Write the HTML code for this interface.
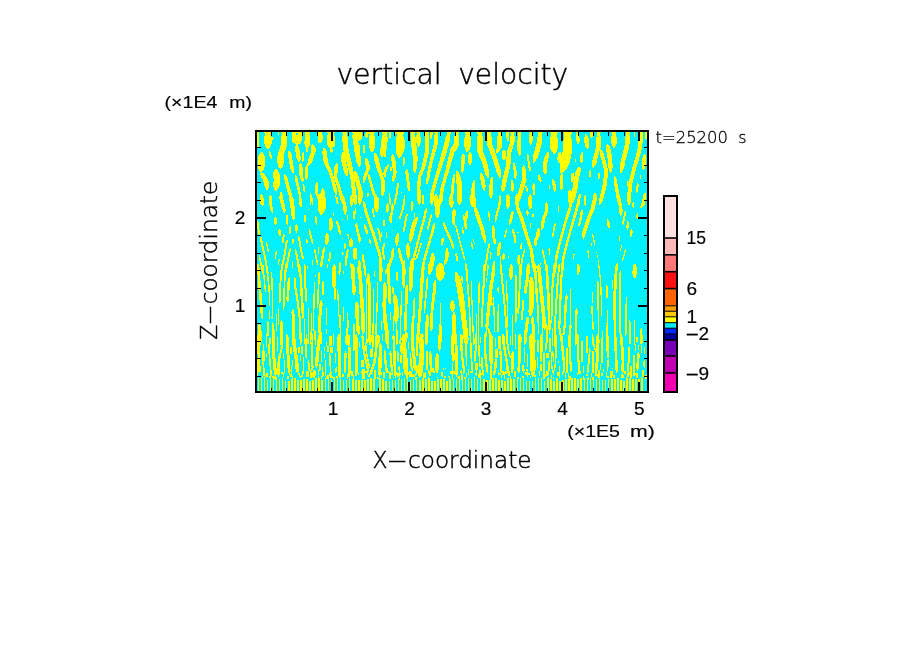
<!DOCTYPE html>
<html lang="en"><head><meta charset="utf-8"><title>vertical velocity</title>
<style>
html,body{margin:0;padding:0;background:#fff;}
svg{display:block;}
.thin{font-family:"DejaVu Sans Light","DejaVu Sans","Liberation Sans",sans-serif;font-weight:200;fill:#000;stroke:#000;stroke-width:0.45px;}
.med{font-family:"Liberation Sans","DejaVu Sans",sans-serif;fill:#000;stroke:#000;stroke-width:0.18px;}
.s{fill:none;stroke:#ffff00;stroke-linecap:round;stroke-linejoin:round;}
.c{fill:none;stroke:#00f0ff;stroke-linecap:round;stroke-linejoin:round;}
</style></head><body>
<svg width="904" height="654" viewBox="0 0 904 654">
<rect x="0" y="0" width="904" height="654" fill="#ffffff"/>
<defs><clipPath id="pc"><rect x="256" y="131" width="392" height="261"/></clipPath></defs>
<g clip-path="url(#pc)" shape-rendering="crispEdges">
<rect x="256" y="131" width="392" height="261" fill="#00f0ff"/>
<path fill="#ffff00" d="M261.5 351h3.05V361h-3.05ZM330.0 347h3.05V353h-3.05ZM348.3 347h3.05V374h-3.05ZM305.7 371h3.05V377h-3.05ZM328.5 336h3.05V346h-3.05ZM362.0 369h3.05V379h-3.05ZM369.6 349h3.05V357h-3.05ZM360.5 360h3.05V367h-3.05ZM409.2 371h3.05V377h-3.05ZM497.6 336h3.05V349h-3.05ZM474.8 363h3.05V370h-3.05ZM494.6 349h3.05V358h-3.05ZM546.4 353h3.05V358h-3.05ZM263.0 368h1.52V376h-1.52ZM269.1 338h1.52V344h-1.52ZM298.0 347h1.52V353h-1.52ZM282.8 353h1.52V359h-1.52ZM299.6 355h1.52V361h-1.52ZM276.7 337h1.52V351h-1.52ZM301.1 346h1.52V354h-1.52ZM290.4 347h1.52V354h-1.52ZM291.9 360h1.52V366h-1.52ZM319.4 364h1.52V370h-1.52ZM334.6 353h1.52V363h-1.52ZM323.9 353h1.52V358h-1.52ZM327.0 346h1.52V352h-1.52ZM310.2 372h1.52V378h-1.52ZM313.3 370h1.52V378h-1.52ZM320.9 351h1.52V362h-1.52ZM383.4 372h1.52V378h-1.52ZM389.4 372h1.52V379h-1.52ZM381.8 334h1.52V341h-1.52ZM400.1 355h1.52V363h-1.52ZM374.2 370h1.52V377h-1.52ZM426.0 351h1.52V370h-1.52ZM407.7 342h1.52V349h-1.52ZM424.5 372h1.52V378h-1.52ZM465.6 356h1.52V366h-1.52ZM451.9 363h1.52V379h-1.52ZM494.6 338h1.52V347h-1.52ZM479.3 370h1.52V378h-1.52ZM490.0 365h1.52V376h-1.52ZM523.5 347h1.52V362h-1.52ZM514.4 371h1.52V377h-1.52ZM543.3 353h1.52V378h-1.52ZM503.7 372h1.52V379h-1.52ZM537.2 340h1.52V352h-1.52ZM549.4 338h1.52V352h-1.52ZM526.6 354h1.52V367h-1.52ZM540.3 364h1.52V371h-1.52ZM586.0 336h1.52V353h-1.52ZM567.7 373h1.52V378h-1.52ZM566.2 348h1.52V373h-1.52ZM592.1 351h1.52V373h-1.52ZM581.4 341h1.52V362h-1.52ZM598.2 370h1.52V377h-1.52ZM558.6 366h1.52V377h-1.52ZM610.4 371h1.52V379h-1.52ZM630.2 366h1.52V378h-1.52ZM633.2 355h1.52V375h-1.52ZM637.8 345h1.52V350h-1.52ZM642.3 370h1.52V376h-1.52ZM605.8 372h1.52V377h-1.52ZM601.2 338h1.52V363h-1.52ZM599.7 364h1.52V370h-1.52ZM640.8 345h1.52V353h-1.52ZM636.3 337h1.52V342h-1.52ZM636.3 373h1.52V378h-1.52ZM256.9 372.4h1.52v4.8h-1.52ZM261.5 375.9h1.52v3.6h-1.52ZM264.5 375.3h1.52v1.7h-1.52ZM266.0 373.3h1.52v3.5h-1.52ZM269.1 376.1h1.52v2.3h-1.52ZM272.1 375.8h1.52v1.7h-1.52ZM273.7 376.2h1.52v4.7h-1.52ZM275.2 377.2h1.52v2.4h-1.52ZM278.2 373.4h1.52v1.9h-1.52ZM281.3 371.6h1.52v2.8h-1.52ZM282.8 373.4h1.52v3.6h-1.52ZM287.4 375.7h1.52v4.4h-1.52ZM288.9 372.5h1.52v2.0h-1.52ZM290.4 374.0h1.52v2.6h-1.52ZM291.9 376.4h1.52v2.5h-1.52ZM298.0 372.5h1.52v2.3h-1.52ZM301.1 375.1h1.52v2.2h-1.52ZM305.7 372.3h1.52v1.6h-1.52ZM307.2 372.1h1.52v2.5h-1.52ZM311.7 372.1h1.52v4.9h-1.52ZM313.3 373.0h1.52v2.7h-1.52ZM314.8 371.4h1.52v4.5h-1.52ZM317.8 376.3h1.52v4.4h-1.52ZM320.9 375.7h1.52v2.9h-1.52ZM322.4 371.6h1.52v4.4h-1.52ZM325.5 375.8h1.52v4.4h-1.52ZM327.0 375.1h1.52v3.5h-1.52ZM328.5 372.8h1.52v3.4h-1.52ZM330.0 374.5h1.52v4.4h-1.52ZM331.6 376.3h1.52v1.5h-1.52ZM333.1 376.9h1.52v3.6h-1.52ZM336.1 375.8h1.52v2.6h-1.52ZM339.2 375.1h1.52v2.6h-1.52ZM342.2 373.6h1.52v3.6h-1.52ZM346.8 374.2h1.52v5.0h-1.52ZM348.3 372.0h1.52v4.9h-1.52ZM351.4 371.1h1.52v4.4h-1.52ZM352.9 375.2h1.52v3.5h-1.52ZM357.5 373.2h1.52v2.0h-1.52ZM360.5 371.1h1.52v3.1h-1.52ZM365.1 370.9h1.52v2.1h-1.52ZM366.6 370.7h1.52v4.4h-1.52ZM368.1 374.6h1.52v2.6h-1.52ZM369.6 372.8h1.52v2.5h-1.52ZM371.2 372.7h1.52v1.6h-1.52ZM374.2 376.2h1.52v3.0h-1.52ZM377.3 376.9h1.52v2.7h-1.52ZM378.8 373.0h1.52v4.3h-1.52ZM380.3 371.5h1.52v3.2h-1.52ZM383.4 374.8h1.52v1.7h-1.52ZM387.9 370.5h1.52v2.8h-1.52ZM389.4 373.8h1.52v3.4h-1.52ZM391.0 373.0h1.52v1.5h-1.52ZM392.5 377.0h1.52v4.7h-1.52ZM394.0 371.6h1.52v3.7h-1.52ZM397.1 373.2h1.52v3.4h-1.52ZM398.6 376.7h1.52v3.2h-1.52ZM401.6 371.6h1.52v4.7h-1.52ZM406.2 373.9h1.52v4.3h-1.52ZM407.7 371.9h1.52v2.8h-1.52ZM412.3 374.1h1.52v3.0h-1.52ZM415.3 376.9h1.52v4.8h-1.52ZM423.0 373.3h1.52v4.8h-1.52ZM427.5 376.5h1.52v2.9h-1.52ZM429.1 371.4h1.52v4.3h-1.52ZM436.7 377.0h1.52v4.6h-1.52ZM441.2 372.2h1.52v3.0h-1.52ZM444.3 375.9h1.52v2.0h-1.52ZM448.9 375.7h1.52v3.7h-1.52ZM450.4 370.9h1.52v3.5h-1.52ZM451.9 371.9h1.52v4.7h-1.52ZM453.4 371.4h1.52v2.7h-1.52ZM456.5 376.7h1.52v3.9h-1.52ZM458.0 375.7h1.52v3.4h-1.52ZM459.5 370.6h1.52v2.2h-1.52ZM461.0 375.3h1.52v4.2h-1.52ZM462.6 370.8h1.52v2.9h-1.52ZM464.1 377.1h1.52v4.9h-1.52ZM465.6 373.3h1.52v3.4h-1.52ZM470.2 371.0h1.52v2.0h-1.52ZM477.8 373.6h1.52v4.5h-1.52ZM480.9 372.6h1.52v1.9h-1.52ZM490.0 374.9h1.52v4.8h-1.52ZM497.6 371.8h1.52v2.8h-1.52ZM499.1 372.7h1.52v2.5h-1.52ZM500.7 375.0h1.52v3.1h-1.52ZM502.2 371.2h1.52v3.7h-1.52ZM503.7 374.9h1.52v2.1h-1.52ZM505.2 370.8h1.52v3.1h-1.52ZM508.3 370.7h1.52v5.0h-1.52ZM509.8 375.9h1.52v2.7h-1.52ZM514.4 371.9h1.52v2.0h-1.52ZM517.4 376.9h1.52v3.7h-1.52ZM522.0 376.0h1.52v2.4h-1.52ZM525.0 372.3h1.52v2.2h-1.52ZM526.6 373.6h1.52v3.5h-1.52ZM528.1 372.8h1.52v2.5h-1.52ZM529.6 375.5h1.52v2.4h-1.52ZM531.1 372.6h1.52v2.3h-1.52ZM534.2 374.5h1.52v2.2h-1.52ZM543.3 375.1h1.52v4.2h-1.52ZM544.8 373.8h1.52v3.0h-1.52ZM546.4 371.1h1.52v4.6h-1.52ZM547.9 376.7h1.52v3.1h-1.52ZM550.9 374.5h1.52v3.4h-1.52ZM552.5 376.9h1.52v2.1h-1.52ZM557.0 371.5h1.52v4.8h-1.52ZM558.6 375.3h1.52v2.8h-1.52ZM561.6 371.7h1.52v3.6h-1.52ZM564.6 373.3h1.52v4.2h-1.52ZM569.2 375.8h1.52v4.5h-1.52ZM576.8 373.4h1.52v1.6h-1.52ZM578.4 371.3h1.52v2.9h-1.52ZM579.9 371.4h1.52v2.4h-1.52ZM582.9 376.0h1.52v4.0h-1.52ZM586.0 374.0h1.52v1.9h-1.52ZM587.5 376.8h1.52v4.7h-1.52ZM590.5 372.5h1.52v4.6h-1.52ZM592.1 376.8h1.52v3.9h-1.52ZM595.1 371.3h1.52v4.8h-1.52ZM596.6 374.1h1.52v3.0h-1.52ZM598.2 376.9h1.52v2.5h-1.52ZM601.2 373.1h1.52v2.6h-1.52ZM607.3 376.4h1.52v2.3h-1.52ZM611.9 371.2h1.52v4.7h-1.52ZM613.4 375.1h1.52v4.8h-1.52ZM621.0 374.3h1.52v3.5h-1.52ZM622.5 375.0h1.52v3.0h-1.52ZM624.1 371.0h1.52v3.3h-1.52ZM625.6 376.7h1.52v3.5h-1.52ZM627.1 372.6h1.52v4.0h-1.52ZM628.6 371.7h1.52v3.0h-1.52ZM630.2 374.2h1.52v2.0h-1.52ZM633.2 372.6h1.52v3.1h-1.52ZM634.7 372.8h1.52v2.0h-1.52ZM640.8 376.5h1.52v3.9h-1.52ZM642.3 372.7h1.52v4.5h-1.52ZM645.4 374.9h1.52v3.9h-1.52Z"/>
<path fill="#ffff00" d="M258.9 132.2 258.9 133.0 258.9 134.3 258.9 139.4 258.9 144.5 258.9 145.8 258.9 146.6 256.6 146.6 256.6 145.8 256.6 144.5 256.6 139.4 256.6 134.3 256.6 133.0 256.6 132.2ZM271.4 132.2 270.2 134.2 271.5 137.2 271.5 140.5 271.6 143.8 270.4 146.8 268.8 148.8 267.3 148.8 265.6 146.8 264.3 143.8 264.3 140.5 264.2 137.2 265.4 134.2 264.1 132.2ZM269.6 151.0 270.3 151.8 271.0 153.0 272.2 157.3 272.1 158.5 271.8 159.3 271.4 159.3 270.6 158.5 269.9 157.3 268.8 153.0 268.8 151.8 269.2 151.0ZM262.4 152.1 264.1 154.5 265.3 158.1 265.2 158.8 265.1 165.4 265.0 166.1 263.7 169.6 261.8 172.0 260.3 172.0 258.6 169.6 257.5 166.1 257.5 165.4 257.7 158.8 257.7 158.1 259.1 154.5 260.9 152.1ZM261.6 172.0 263.8 173.7 266.1 176.2 266.9 177.6 268.7 180.9 269.0 183.4 269.2 185.0 268.7 187.8 267.7 189.7 266.6 189.7 265.2 187.8 263.9 185.0 263.7 183.4 263.4 180.9 261.5 177.6 260.8 176.2 260.3 173.7 260.6 172.0ZM279.0 132.2 279.0 132.5 279.0 133.0 279.0 134.1 278.7 134.6 278.4 135.0 278.1 135.0 277.7 134.6 277.5 134.1 277.5 133.0 277.5 132.5 277.5 132.2ZM287.5 132.2 286.3 134.5 287.2 137.9 287.2 138.4 287.0 144.5 286.9 145.5 285.4 150.5 283.8 155.4 283.8 156.4 283.7 162.5 283.7 163.0 282.6 166.4 281.1 168.7 279.8 168.7 278.4 166.4 277.4 163.0 277.4 162.5 277.5 156.4 277.5 155.4 279.0 150.5 280.6 145.5 280.6 144.5 280.9 138.4 280.9 137.9 282.1 134.5 281.2 132.2ZM272.4 136.6 272.9 137.0 273.4 137.6 273.6 139.0 273.3 139.6 272.9 140.0 272.5 140.0 271.9 139.6 271.5 139.0 271.3 137.6 271.5 137.0 271.9 136.6ZM296.7 132.2 295.9 133.9 297.0 136.3 297.1 139.1 297.3 141.1 297.7 141.7 298.3 143.6 298.1 144.9 297.1 144.9 294.8 143.6 292.4 141.7 291.9 141.1 291.8 139.1 291.6 136.3 292.4 133.9 291.4 132.2ZM302.3 132.2 301.5 133.7 302.3 136.0 302.3 138.5 302.3 140.0 301.9 140.9 300.2 143.0 298.4 144.4 297.4 144.4 296.9 143.0 296.9 140.9 297.3 140.0 297.3 138.5 297.3 136.0 298.2 133.7 297.3 132.2ZM296.9 144.4 298.2 146.0 299.3 148.4 300.0 153.2 300.8 158.0 300.4 160.5 299.7 162.1 298.8 162.1 297.6 160.5 296.5 158.0 295.7 153.2 294.9 148.4 295.3 146.0 296.0 144.4ZM310.4 132.2 309.4 134.2 310.3 137.2 310.3 140.5 310.2 143.8 309.2 146.8 307.8 148.8 306.6 148.8 305.3 146.8 304.4 143.8 304.5 140.5 304.5 137.2 305.6 134.2 304.6 132.2ZM307.2 148.8 307.7 149.3 308.1 150.0 308.1 151.5 307.7 152.2 307.2 152.7 306.8 152.7 306.3 152.2 305.9 151.5 305.9 150.0 306.3 149.3 306.8 148.8ZM312.8 143.8 314.3 145.6 315.6 148.4 315.9 149.8 316.0 150.5 314.3 155.6 312.4 161.5 312.1 162.6 311.9 162.8 309.4 165.0 307.2 166.5 306.3 166.5 306.4 165.0 307.3 162.8 307.5 162.6 307.8 161.5 309.6 155.6 311.2 150.5 311.1 149.8 310.8 148.4 311.1 145.6 311.8 143.8ZM303.4 152.1 304.0 153.2 304.5 154.8 304.3 159.3 303.8 161.0 303.1 162.1 302.5 162.1 301.9 161.0 301.5 159.3 301.6 154.8 302.1 153.2 302.8 152.1ZM300.9 163.2 301.8 164.5 302.5 166.6 302.6 169.5 302.8 174.2 303.1 175.8 303.7 178.6 303.6 180.6 303.1 182.0 302.5 182.0 301.4 180.6 300.4 178.6 299.8 175.8 299.4 174.2 299.2 169.5 299.0 166.6 299.5 164.5 300.2 163.2ZM307.1 165.4 307.9 166.7 308.4 168.8 308.2 172.6 308.1 176.4 307.5 178.4 306.8 179.8 306.1 179.8 305.4 178.4 304.9 176.4 305.0 172.6 305.0 168.8 305.6 166.7 306.4 165.4ZM289.7 150.5 290.7 151.8 291.6 153.8 292.2 158.0 292.8 162.1 293.5 165.6 294.3 169.8 294.1 171.8 293.5 173.1 293.5 173.1 292.8 173.1 292.8 173.1 291.7 171.8 290.7 169.8 289.8 165.6 289.1 162.1 288.5 158.0 287.9 153.8 288.3 151.8 288.9 150.5ZM322.5 132.2 321.7 133.5 322.5 135.5 322.6 140.0 321.8 141.9 320.7 143.3 319.8 143.3 318.6 141.9 317.8 140.0 317.7 135.5 318.5 133.5 317.6 132.2ZM335.2 132.2 333.8 134.2 335.3 137.2 335.4 140.5 335.5 143.8 334.1 146.8 332.2 148.8 330.5 148.8 328.4 146.8 326.9 143.8 326.8 140.5 326.7 137.2 328.1 134.2 326.6 132.2ZM331.7 148.8 332.5 149.3 333.0 150.0 333.0 151.5 332.4 152.2 331.7 152.7 331.0 152.7 330.2 152.2 329.6 151.5 329.6 150.0 330.2 149.3 331.0 148.8ZM324.6 147.7 325.9 149.5 327.0 152.3 327.1 153.8 327.7 160.0 328.0 162.1 329.6 165.8 332.0 171.4 333.2 174.2 333.9 177.2 335.3 183.3 336.4 187.5 336.9 189.3 337.3 190.8 337.4 193.4 337.0 195.2 336.3 195.2 335.0 193.4 333.7 190.8 333.3 189.3 332.9 187.5 331.8 183.3 330.3 177.2 329.4 174.2 328.1 171.4 325.4 165.8 323.6 162.1 323.4 160.0 322.5 153.8 322.3 152.3 322.8 149.5 323.7 147.7ZM347.3 132.2 346.5 134.3 347.7 137.4 347.7 138.3 348.1 144.5 348.4 148.8 348.8 150.6 350.2 156.5 351.5 162.1 351.5 162.5 352.8 168.5 354.1 174.5 354.5 176.4 354.8 180.5 355.5 186.7 356.1 191.9 356.2 192.8 357.0 198.9 357.1 199.8 357.1 200.0 356.8 202.9 356.1 205.0 355.2 205.0 353.9 202.9 352.9 200.0 352.8 199.8 352.7 198.9 352.0 192.8 351.9 191.9 351.4 186.7 350.8 180.5 350.2 176.4 349.7 174.5 348.2 168.5 346.7 162.5 346.6 162.1 345.1 156.5 343.5 150.6 343.0 148.8 342.7 144.5 342.3 138.3 342.2 137.4 342.9 134.3 341.9 132.2ZM355.6 132.2 355.1 133.6 355.9 135.6 356.2 139.4 356.5 143.2 356.1 145.2 355.4 146.6 354.6 146.6 353.7 145.2 352.9 143.2 352.6 139.4 352.3 135.6 352.7 133.6 352.0 132.2ZM343.5 152.1 344.9 154.2 346.0 157.3 346.1 158.3 346.4 163.2 346.7 164.4 348.1 170.4 348.3 171.4 348.3 174.4 347.8 176.4 346.9 176.4 345.4 174.4 343.9 171.4 343.6 170.4 342.0 164.4 341.7 163.2 341.1 158.3 340.9 157.3 341.4 154.2 342.4 152.1ZM337.3 163.2 337.9 164.9 338.2 167.5 338.0 169.3 337.1 175.4 336.9 176.4 338.5 181.2 340.6 187.0 340.7 187.5 342.2 193.0 343.9 198.9 344.2 200.0 344.3 200.6 344.4 203.1 344.0 204.8 343.3 204.8 342.0 203.1 340.8 200.6 340.6 200.0 340.3 198.9 338.8 193.0 337.4 187.5 337.2 187.0 335.2 181.2 333.5 176.4 333.6 175.4 334.2 169.3 334.4 167.5 335.3 164.9 336.5 163.2ZM276.4 168.7 278.3 171.1 279.9 174.8 280.1 176.1 280.5 179.8 280.1 183.4 279.9 184.7 278.3 188.4 276.5 190.8 276.5 190.8 275.1 190.8 275.1 190.8 273.8 188.4 273.1 184.7 273.3 183.4 273.7 179.8 273.2 176.1 273.1 174.8 273.7 171.1 275.0 168.7ZM285.2 174.2 286.4 175.6 287.5 177.5 288.2 180.4 289.7 186.5 290.0 187.5 291.3 192.6 292.9 198.7 293.3 200.0 293.7 201.5 293.6 203.5 293.1 204.8 293.1 204.8 292.4 204.8 292.4 204.8 291.3 203.5 290.2 201.5 289.7 200.0 289.4 198.7 287.8 192.6 286.4 187.5 286.1 186.5 284.6 180.4 283.8 177.5 284.0 175.6 284.5 174.2ZM295.7 175.3 296.5 176.4 297.4 178.0 298.4 182.4 300.0 189.4 300.0 189.7 301.0 193.7 301.0 195.3 300.6 196.4 300.6 196.4 300.1 196.4 300.1 196.4 299.2 195.3 298.4 193.7 297.3 189.7 297.3 189.4 295.6 182.4 294.6 178.0 294.7 176.4 295.1 175.3ZM317.2 182.0 317.8 183.3 318.2 185.4 318.0 189.8 317.9 191.9 319.7 197.3 320.6 200.0 321.2 201.5 321.3 203.4 321.1 204.7 320.5 204.7 319.4 203.4 318.2 201.5 317.7 200.0 316.8 197.3 314.9 191.9 315.0 189.8 315.3 185.4 315.9 183.3 316.7 182.0ZM322.8 187.5 323.7 189.0 324.6 191.3 325.2 196.2 325.7 200.0 325.9 201.2 325.7 203.4 325.1 205.0 324.5 205.0 323.5 203.4 322.7 201.2 322.5 200.0 322.1 196.2 321.4 191.3 321.6 189.0 322.2 187.5ZM303.8 184.2 304.2 185.0 304.6 186.2 304.9 189.9 304.7 191.1 304.4 191.9 304.1 191.9 303.7 191.1 303.3 189.9 303.0 186.2 303.2 185.0 303.5 184.2ZM281.3 191.9 282.1 193.0 282.7 194.6 282.9 198.5 283.0 200.0 283.2 202.3 282.8 203.9 282.2 205.0 281.6 205.0 280.8 203.9 280.2 202.3 280.1 200.0 279.9 198.5 279.7 194.6 280.1 193.0 280.7 191.9ZM261.9 193.6 262.6 194.7 263.1 196.3 263.1 200.0 263.1 202.3 262.6 203.9 261.9 205.0 261.3 205.0 260.6 203.9 260.1 202.3 260.1 200.0 260.1 196.3 260.6 194.7 261.3 193.6ZM270.8 195.2 271.5 196.3 272.0 198.0 272.0 200.0 272.0 202.3 271.5 203.9 270.8 205.0 270.2 205.0 269.5 203.9 269.0 202.3 269.0 200.0 269.0 198.0 269.5 196.3 270.2 195.2ZM310.4 193.0 310.7 193.8 310.9 195.0 310.9 200.0 310.9 203.0 310.7 204.2 310.4 205.0 310.2 205.0 309.9 204.2 309.7 203.0 309.7 200.0 309.7 195.0 309.9 193.8 310.2 193.0ZM337.0 196.4 337.4 197.1 337.8 198.3 338.1 200.0 338.5 203.0 338.5 204.2 338.3 204.9 338.0 204.9 337.6 204.2 337.2 203.0 336.8 200.0 336.5 198.3 336.5 197.1 336.7 196.4Z"/>
<path fill="#ffff00" d="M362.0 132.2 361.9 133.3 361.8 134.9 361.6 138.4 360.3 140.0 358.5 141.1 357.0 141.1 355.4 140.0 354.3 138.4 354.5 134.9 354.6 133.3 354.7 132.2ZM357.5 141.1 358.9 143.1 359.9 146.2 359.9 147.5 359.9 152.1 360.2 153.9 361.1 160.2 361.3 161.4 360.9 164.5 360.1 166.5 359.2 166.5 357.7 164.5 356.3 161.4 356.1 160.2 354.8 153.9 354.5 152.1 354.3 147.5 354.3 146.2 355.2 143.1 356.4 141.1ZM355.5 170.9 357.2 173.1 358.7 176.5 359.0 177.7 359.5 179.8 360.7 184.4 362.6 191.1 362.8 191.9 362.5 198.0 362.4 199.3 362.2 200.0 361.4 202.7 360.1 205.0 359.1 205.0 358.2 202.7 357.7 200.0 357.6 199.3 357.7 198.0 358.2 191.9 358.0 191.1 356.2 184.4 354.9 179.8 354.4 177.7 354.0 176.5 353.9 173.1 354.5 170.9ZM368.7 132.2 368.6 132.9 368.5 133.9 368.3 136.1 367.7 137.1 366.9 137.7 366.3 137.7 365.7 137.1 365.3 136.1 365.5 133.9 365.6 132.9 365.7 132.2ZM375.0 132.2 373.9 134.5 375.1 137.9 375.1 138.8 375.2 145.5 375.2 146.4 374.2 149.8 372.8 152.1 371.5 152.1 370.0 149.8 368.9 146.4 368.9 145.5 368.8 138.8 368.7 137.9 369.8 134.5 368.7 132.2ZM364.1 144.4 364.6 145.2 365.0 146.4 364.9 151.2 364.6 152.4 364.1 153.2 363.6 153.2 363.1 152.4 362.8 151.2 362.7 146.4 363.1 145.2 363.6 144.4ZM388.0 132.2 386.8 134.5 387.7 137.9 387.7 138.5 387.4 144.4 387.4 144.7 386.3 150.9 386.1 151.5 384.5 154.8 382.7 157.1 381.5 157.1 380.5 154.8 380.0 151.5 380.1 150.9 381.1 144.7 381.2 144.4 381.5 138.5 381.5 137.9 382.7 134.5 381.8 132.2ZM390.7 132.2 390.7 133.0 390.7 134.2 390.7 136.9 390.4 138.1 390.0 138.8 389.7 138.8 389.3 138.1 389.0 136.9 389.0 134.2 389.0 133.0 389.0 132.2ZM404.3 132.2 402.9 135.3 404.1 138.6 404.5 139.9 404.7 145.0 404.8 146.6 404.4 150.0 403.9 151.3 402.4 154.6 400.1 157.6 398.4 157.6 396.7 154.6 395.9 151.3 395.6 150.0 395.9 146.6 395.8 145.0 395.6 139.9 396.0 138.6 397.0 135.3 395.3 132.2ZM415.1 132.2 414.5 134.5 415.7 137.9 415.8 138.9 416.2 143.3 416.5 145.6 417.2 152.4 417.7 157.6 417.6 159.1 417.2 165.8 417.2 166.9 416.2 170.3 415.2 172.6 414.3 172.6 413.4 170.3 412.7 166.9 412.8 165.8 412.9 159.1 412.9 157.6 412.2 152.4 411.3 145.6 411.0 143.3 410.6 138.9 410.5 137.9 411.0 134.5 409.9 132.2ZM420.4 132.2 419.7 134.0 420.5 136.7 420.6 139.7 420.7 142.7 420.0 145.3 419.0 147.1 418.2 147.1 417.1 145.3 416.4 142.7 416.3 139.7 416.2 136.7 416.9 134.0 416.1 132.2ZM429.0 132.2 428.3 134.3 429.0 137.4 429.0 138.4 429.0 144.5 429.0 150.7 429.0 152.1 427.9 156.7 426.4 162.7 425.5 166.5 424.6 168.7 422.3 174.4 421.5 176.4 421.0 180.4 420.5 186.5 420.4 187.5 420.7 192.7 421.1 198.8 421.2 199.8 421.2 200.0 420.7 202.9 419.8 205.0 419.0 205.0 417.9 202.9 417.2 200.0 417.1 199.8 417.1 198.8 416.9 192.7 416.8 187.5 416.9 186.5 417.6 180.4 417.9 176.4 418.7 174.4 420.9 168.7 421.7 166.5 422.5 162.7 423.8 156.7 424.8 152.1 424.8 150.7 424.8 144.5 424.8 138.4 424.8 137.4 425.5 134.3 424.8 132.2ZM432.7 132.2 432.7 133.0 432.6 134.2 432.3 136.9 431.8 138.1 431.1 138.8 430.5 138.8 429.9 138.1 429.5 136.9 429.7 134.2 429.8 133.0 429.9 132.2ZM438.3 132.2 437.5 134.1 438.1 136.8 438.0 138.8 437.7 144.4 437.5 145.4 435.6 151.8 434.3 156.5 433.8 158.2 432.2 164.7 430.7 170.9 430.7 171.1 429.5 177.7 429.1 179.6 428.2 182.4 427.2 184.2 426.6 184.2 426.3 182.4 426.2 179.6 426.5 177.7 427.5 171.1 427.5 170.9 428.9 164.7 430.3 158.2 430.6 156.5 431.8 151.8 433.5 145.4 433.8 144.4 434.0 138.8 434.1 136.8 434.9 134.1 434.3 132.2ZM451.6 132.2 450.3 134.3 450.5 137.6 450.4 138.3 449.3 143.3 449.0 144.5 447.2 150.5 445.3 156.5 444.6 158.8 443.4 162.5 441.4 168.5 439.4 174.4 438.7 176.4 437.5 180.4 435.8 186.5 434.4 191.9 434.3 192.5 434.0 198.7 434.0 199.5 433.9 200.0 433.1 202.8 432.0 205.0 431.1 205.0 430.3 202.8 429.9 200.0 429.8 199.5 429.9 198.7 430.5 192.5 430.5 191.9 432.2 186.5 434.0 180.4 435.0 176.4 435.6 174.4 437.3 168.5 439.1 162.5 440.1 158.8 440.7 156.5 442.3 150.5 443.9 144.5 444.3 143.3 445.2 138.3 445.4 137.6 446.9 134.3 446.5 132.2ZM454.5 144.4 455.2 146.4 455.2 149.4 455.0 150.4 453.6 155.4 453.3 156.5 451.5 162.5 449.8 168.5 448.7 172.0 448.0 174.5 446.1 180.5 444.4 186.5 444.2 187.5 443.6 192.6 442.9 198.8 442.8 199.8 442.7 200.0 441.7 202.9 440.5 205.0 439.6 205.0 439.0 202.9 438.7 200.0 438.7 199.8 438.9 198.8 439.8 192.6 440.6 187.5 440.9 186.5 442.7 180.5 444.2 174.5 444.9 172.0 445.8 168.5 447.2 162.5 448.7 156.5 448.9 155.4 450.0 150.4 450.3 149.4 451.8 146.4 453.5 144.4ZM454.6 174.2 455.1 175.9 455.2 178.3 454.9 180.4 454.1 186.5 454.0 187.5 453.6 192.7 453.2 198.8 453.1 200.0 453.0 200.9 452.3 203.4 451.4 205.0 450.7 205.0 450.1 203.4 449.8 200.9 449.8 200.0 450.0 198.8 450.6 192.7 451.1 187.5 451.3 186.5 452.1 180.4 452.3 178.3 453.1 175.9 454.0 174.2ZM375.4 153.2 377.0 155.0 378.4 157.7 378.8 159.4 380.2 165.5 380.4 166.5 382.0 171.5 383.8 177.5 384.5 179.8 384.5 183.7 384.5 190.0 384.6 191.7 383.9 194.5 383.0 196.4 382.3 196.4 381.4 194.5 380.8 191.7 380.8 190.0 380.8 183.7 380.8 179.8 380.0 177.5 377.8 171.5 376.0 166.5 375.8 165.5 374.1 159.4 373.7 157.7 373.8 155.0 374.4 153.2ZM366.5 157.6 367.7 159.2 368.9 161.7 369.3 164.2 370.1 168.7 369.3 170.5 366.7 176.4 366.6 176.6 365.9 179.1 364.8 181.5 363.6 183.1 363.0 183.1 362.6 181.5 362.6 179.1 363.2 176.6 363.3 176.4 365.7 170.5 366.4 168.7 365.4 164.2 364.9 161.7 365.0 159.2 365.6 157.6ZM368.6 174.2 369.6 175.5 370.7 177.5 371.8 181.6 372.9 185.3 373.9 188.9 374.9 193.0 375.0 195.0 374.6 196.4 374.1 196.4 373.1 195.0 372.1 193.0 371.1 188.9 370.2 185.3 369.1 181.6 367.8 177.5 367.7 175.5 368.0 174.2ZM384.5 151.0 385.1 151.8 385.6 153.0 385.7 155.7 385.5 156.8 385.1 157.6 384.7 157.6 384.1 156.8 383.7 155.7 383.4 153.0 383.7 151.8 384.1 151.0ZM393.0 154.3 394.2 156.1 395.2 158.7 395.5 161.3 395.7 163.2 396.2 168.2 396.6 172.0 396.1 175.1 395.6 177.7 394.5 180.3 393.5 182.0 392.8 182.0 392.4 180.3 392.2 177.7 392.6 175.1 393.0 172.0 392.5 168.2 391.7 163.2 391.5 161.3 391.1 158.7 391.4 156.1 392.2 154.3ZM388.5 164.3 388.7 165.5 388.4 167.4 386.9 170.7 386.3 172.0 386.3 174.1 385.8 176.2 385.1 177.6 384.6 177.6 383.9 176.2 383.4 174.1 383.4 172.0 383.9 170.7 385.3 167.4 386.6 165.5 387.9 164.3ZM390.9 166.5 391.5 167.0 391.9 167.8 392.0 169.6 391.7 170.4 391.2 170.9 390.7 170.9 390.1 170.4 389.7 169.6 389.5 167.8 389.9 167.0 390.4 166.5ZM403.9 156.5 404.3 157.4 404.6 158.6 404.5 164.4 404.2 165.7 403.8 166.5 403.5 166.5 403.1 165.7 402.8 164.4 402.8 158.6 403.1 157.4 403.5 156.5ZM406.8 168.7 407.7 170.3 408.5 172.8 408.9 176.3 409.5 182.0 409.7 183.8 410.2 187.3 410.0 189.8 409.5 191.4 408.9 191.4 408.0 189.8 407.3 187.3 406.9 183.8 406.7 182.0 405.9 176.3 405.4 172.8 405.6 170.3 406.1 168.7ZM398.3 182.0 398.7 183.1 398.8 184.7 398.3 189.7 398.1 191.9 397.0 197.3 396.5 200.0 396.1 202.2 395.4 203.8 394.6 204.9 394.6 204.9 394.1 204.9 394.1 204.9 393.8 203.8 393.8 202.2 394.2 200.0 394.8 197.3 396.0 191.9 396.2 189.7 396.8 184.7 397.4 183.1 397.9 182.0ZM367.9 192.5 368.5 193.0 368.8 193.8 368.9 195.6 368.5 196.4 367.9 196.9 367.5 196.9 367.0 196.4 366.6 195.6 366.6 193.8 367.0 193.0 367.5 192.5ZM389.5 193.0 389.9 193.8 390.3 195.1 390.7 200.0 391.0 202.9 390.8 204.2 390.4 205.0 390.1 205.0 389.6 204.2 389.2 202.9 389.0 200.0 388.6 195.1 388.8 193.8 389.1 193.0ZM401.6 191.9 401.8 192.0 402.0 192.2 402.0 192.7 401.8 193.0 401.6 193.1 401.4 193.1 401.1 193.0 400.9 192.7 400.9 192.2 401.1 192.0 401.4 191.9ZM423.2 194.1 423.5 195.0 423.8 196.2 423.8 200.0 423.9 203.0 423.6 204.2 423.2 205.0 422.9 205.0 422.5 204.2 422.2 203.0 422.2 200.0 422.3 196.2 422.5 195.0 422.9 194.1ZM378.9 197.5 379.2 198.3 379.4 199.5 379.4 200.0 379.4 203.0 379.2 204.2 378.9 205.0 378.7 205.0 378.4 204.2 378.2 203.0 378.2 200.0 378.2 199.5 378.4 198.3 378.7 197.5Z"/>
<path fill="#ffff00" d="M459.1 132.2 458.3 134.2 459.1 137.1 459.1 138.3 459.1 144.4 459.1 144.4 458.9 145.6 457.5 148.5 456.0 150.5 455.1 150.5 454.3 148.5 454.0 145.6 454.2 144.4 454.2 144.4 454.2 138.3 454.2 137.1 455.0 134.2 454.2 132.2ZM470.9 132.2 469.8 134.6 470.8 138.2 470.8 138.8 470.7 145.5 470.7 146.1 469.5 149.7 468.0 152.1 466.8 152.1 465.3 149.7 464.3 146.1 464.3 145.5 464.4 138.8 464.4 138.2 465.6 134.6 464.5 132.2ZM463.7 153.8 464.5 155.4 465.0 157.9 464.8 160.2 464.3 166.7 464.1 169.0 463.4 171.5 462.5 173.1 461.9 173.1 461.2 171.5 460.7 169.0 460.8 166.7 461.1 160.2 461.1 157.9 461.9 155.4 462.9 153.8ZM470.4 152.1 471.3 153.7 472.0 156.1 471.9 158.8 471.9 161.4 471.2 163.8 470.3 165.4 469.6 165.4 468.7 163.8 468.0 161.4 468.0 158.8 467.9 156.1 468.6 153.7 469.5 152.1ZM482.9 132.2 482.0 134.4 483.1 137.7 483.1 138.9 483.3 145.7 483.4 152.1 483.4 152.4 485.7 158.6 487.4 163.2 487.8 165.0 489.1 171.5 489.3 172.8 489.2 176.0 488.6 178.1 487.7 178.1 486.2 176.0 484.7 172.8 484.4 171.5 482.8 165.0 482.3 163.2 480.4 158.6 477.6 152.4 477.5 152.1 477.2 145.7 477.1 138.9 477.0 137.7 477.9 134.4 476.9 132.2ZM491.4 132.2 490.6 134.3 491.7 137.4 491.8 138.9 492.0 143.3 492.8 145.5 495.0 151.8 496.2 155.4 497.1 158.1 499.1 164.5 500.4 168.7 500.8 171.0 501.1 172.5 500.9 175.5 500.2 177.6 499.4 177.6 498.0 175.5 496.6 172.5 496.3 171.0 495.9 168.7 494.4 164.5 492.2 158.1 491.2 155.4 489.8 151.8 487.4 145.5 486.6 143.3 486.4 138.9 486.3 137.4 487.1 134.3 486.0 132.2ZM502.0 132.2 501.2 134.1 501.9 136.8 501.8 139.5 501.5 146.9 501.5 147.7 500.6 149.4 498.5 151.8 496.6 153.4 496.6 153.4 495.7 153.4 495.7 153.4 495.5 151.8 496.1 149.4 497.0 147.7 497.0 146.9 497.3 139.5 497.4 136.8 498.3 134.1 497.6 132.2ZM509.0 132.2 509.1 133.3 509.2 134.9 509.4 138.4 509.0 140.0 508.4 141.1 507.8 141.1 507.1 140.0 506.5 138.4 506.2 134.9 506.1 133.3 506.1 132.2ZM514.8 132.2 514.0 134.3 514.8 137.4 514.8 138.3 514.8 141.1 513.8 144.2 512.1 150.1 511.5 152.1 511.2 156.0 510.7 162.1 510.4 165.4 509.7 168.1 508.2 174.0 507.0 178.7 506.8 179.9 505.8 185.9 505.6 186.8 504.4 189.9 503.0 191.9 503.0 191.9 502.1 191.9 502.1 191.9 501.4 189.9 501.2 186.8 501.4 185.9 502.4 179.9 502.6 178.7 503.7 174.0 505.2 168.1 505.8 165.4 506.1 162.1 506.6 156.0 506.9 152.1 507.5 150.1 509.3 144.2 510.3 141.1 510.3 138.3 510.3 137.4 511.0 134.3 510.3 132.2ZM504.3 149.7 505.4 151.0 506.2 152.9 506.3 157.2 505.6 159.1 504.7 160.4 503.8 160.4 502.7 159.1 501.9 157.2 501.7 152.9 502.4 151.0 503.4 149.7ZM521.6 132.2 520.9 134.1 521.4 136.8 521.3 140.0 521.1 146.6 521.1 147.8 521.3 151.0 520.9 153.8 520.1 155.7 519.3 155.7 518.3 153.8 517.5 151.0 517.3 147.8 517.3 146.6 517.5 140.0 517.6 136.8 518.4 134.1 517.8 132.2ZM532.6 132.2 532.0 133.7 532.6 135.9 532.6 138.4 532.6 140.9 532.0 143.1 531.1 144.6 530.4 144.6 529.6 143.1 529.0 140.9 529.0 138.4 529.0 135.9 529.6 133.7 529.0 132.2ZM542.8 132.2 541.7 134.8 542.2 138.4 542.2 138.7 541.7 144.4 541.6 144.7 539.8 150.7 538.5 155.4 538.2 156.4 538.1 156.6 536.1 160.1 534.1 162.6 534.1 162.6 533.0 162.6 533.0 162.6 532.5 160.1 532.7 156.6 532.7 156.4 533.0 155.4 534.5 150.7 536.3 144.7 536.4 144.4 536.9 138.7 537.0 138.4 538.2 134.8 537.5 132.2ZM555.6 132.2 554.7 134.7 555.6 138.5 555.6 139.5 555.6 146.7 555.6 147.7 555.4 148.8 555.4 151.4 554.8 153.8 553.7 153.8 551.8 151.4 550.4 148.8 550.2 147.7 550.2 146.7 550.2 139.5 550.2 138.5 551.1 134.7 550.2 132.2ZM527.7 153.8 528.2 154.7 528.8 156.2 529.8 162.6 530.2 165.4 530.9 169.1 530.8 170.5 530.4 171.5 530.0 171.5 529.3 170.5 528.7 169.1 528.1 165.4 527.7 162.6 526.8 156.2 526.9 154.7 527.3 153.8ZM548.3 151.6 548.8 153.4 548.9 156.1 548.2 159.0 547.2 163.2 547.3 166.6 547.3 169.6 546.6 172.4 545.6 174.2 545.6 174.2 544.7 174.2 544.7 174.2 543.7 172.4 543.0 169.6 543.0 166.6 543.1 163.2 544.1 159.0 544.8 156.1 546.2 153.4 547.5 151.6ZM457.8 170.9 459.6 173.9 460.9 177.7 461.1 178.5 462.0 184.5 462.1 185.3 462.3 191.3 462.4 197.4 462.3 198.1 461.9 200.0 461.5 201.9 460.1 205.0 458.8 205.0 457.4 201.9 456.9 200.0 456.6 198.1 456.5 197.4 456.6 191.3 456.7 185.3 456.6 184.5 455.6 178.5 455.6 177.7 455.8 173.9 456.6 170.9ZM481.5 172.6 482.9 174.7 484.3 177.9 484.4 178.6 485.3 183.1 485.5 184.7 485.6 185.4 485.4 188.7 484.7 190.8 483.9 190.8 482.6 188.7 481.5 185.4 481.4 184.7 481.2 183.1 480.1 178.6 480.0 177.9 480.0 174.7 480.5 172.6ZM474.7 179.8 475.2 181.6 475.4 184.4 475.2 186.0 474.5 191.9 474.5 192.3 475.0 198.7 475.1 200.0 475.2 200.4 474.7 203.1 474.0 205.0 473.2 205.0 472.2 203.1 471.4 200.4 471.4 200.0 471.3 198.7 470.9 192.3 470.9 191.9 471.8 186.0 472.0 184.4 473.0 181.6 474.0 179.8ZM492.4 177.0 493.1 178.8 493.5 181.6 493.3 184.2 492.8 189.7 492.8 191.4 492.9 193.9 492.2 196.7 491.3 198.6 491.3 198.6 490.6 198.6 490.6 198.6 489.7 196.7 489.0 193.9 489.1 191.4 489.1 189.7 489.6 184.2 489.8 181.6 490.7 178.8 491.7 177.0ZM513.9 162.6 514.8 163.9 515.6 165.8 516.5 170.6 516.7 172.0 516.7 175.4 516.2 177.3 515.6 178.7 515.0 178.7 514.3 177.3 513.9 175.4 513.9 172.0 513.6 170.6 512.8 165.8 512.9 163.9 513.3 162.6ZM524.0 165.4 525.1 167.5 526.0 170.6 526.1 172.2 526.5 178.9 526.5 179.8 524.9 185.5 523.8 189.7 522.9 192.0 520.6 198.3 520.0 199.8 519.9 200.0 518.1 202.7 516.2 204.7 515.2 204.7 514.9 202.7 515.1 200.0 515.1 199.8 515.7 198.3 518.1 192.0 519.0 189.7 520.1 185.5 521.8 179.8 521.8 178.9 521.6 172.2 521.5 170.6 522.2 167.5 523.1 165.4ZM526.0 185.3 526.6 186.1 527.3 187.3 527.9 189.9 527.9 191.1 527.7 191.9 527.3 191.9 526.6 191.1 526.0 189.9 525.3 187.3 525.4 186.1 525.6 185.3ZM512.3 179.8 513.0 181.1 513.5 183.0 513.7 185.8 513.8 188.7 513.4 190.6 512.8 191.9 512.2 191.9 511.5 190.6 510.9 188.7 510.8 185.8 510.7 183.0 511.1 181.1 511.7 179.8ZM538.8 174.8 539.8 175.6 540.7 176.9 541.6 179.8 541.5 181.1 541.0 182.0 540.4 182.0 539.4 181.1 538.5 179.8 537.6 176.9 537.8 175.6 538.2 174.8ZM533.8 182.5 534.4 183.6 535.0 185.3 535.1 188.9 535.3 192.5 534.9 194.2 534.4 195.2 533.8 195.2 533.2 194.2 532.7 192.5 532.5 188.9 532.4 185.3 532.7 183.6 533.3 182.5ZM553.7 179.8 554.5 180.8 555.3 182.5 556.0 187.0 555.7 188.6 555.3 189.7 554.7 189.7 553.9 188.6 553.2 187.0 552.5 182.5 552.7 180.8 553.2 179.8ZM549.7 185.3 550.0 185.7 550.3 186.3 550.3 187.6 550.0 188.2 549.7 188.6 549.4 188.6 549.1 188.2 548.9 187.6 548.9 186.3 549.1 185.7 549.4 185.3ZM506.7 194.7 507.4 195.8 507.9 197.4 508.2 200.0 508.5 202.3 508.2 203.9 507.8 205.0 507.3 205.0 506.6 203.9 506.0 202.3 505.8 200.0 505.5 197.4 505.7 195.8 506.2 194.7ZM529.9 196.4 530.5 197.4 531.0 198.9 531.0 200.0 531.0 202.4 530.5 204.0 529.9 205.0 529.4 205.0 528.8 204.0 528.3 202.4 528.3 200.0 528.4 198.9 528.8 197.4 529.4 196.4ZM500.5 198.0 500.8 198.8 501.0 200.0 501.0 200.0 501.0 203.0 500.8 204.2 500.5 205.0 500.2 205.0 499.9 204.2 499.7 203.0 499.8 200.0 499.8 200.0 500.0 198.8 500.2 198.0Z"/>
<path fill="#ffff00" d="M557.9 132.2 556.5 134.8 557.9 138.7 557.9 139.4 557.9 146.6 557.9 146.6 557.9 147.3 556.9 151.2 555.2 153.8 555.2 153.8 553.6 153.8 553.6 153.8 551.5 151.2 549.9 147.3 549.9 146.6 549.9 146.6 549.9 139.4 549.9 138.7 551.2 134.8 549.9 132.2ZM572.3 132.2 570.7 136.2 571.5 139.2 572.2 142.3 572.2 146.1 572.1 151.0 571.7 153.0 570.3 159.8 569.8 162.1 569.4 163.5 567.8 166.5 566.1 169.3 562.6 173.1 560.6 173.1 559.5 169.3 559.5 166.5 559.6 163.5 560.1 162.1 560.6 159.8 562.3 153.0 562.8 151.0 562.9 146.1 563.0 142.3 563.7 139.2 564.6 136.2 563.1 132.2ZM561.9 173.1 562.6 174.3 563.1 176.1 563.2 181.7 563.1 187.3 562.6 189.1 561.9 190.3 561.3 190.3 560.6 189.1 560.1 187.3 560.1 181.7 560.1 176.1 560.6 174.3 561.3 173.1ZM560.4 152.1 561.3 153.4 562.0 155.4 561.8 159.9 561.0 161.8 559.9 163.2 559.0 163.2 558.0 161.8 557.3 159.9 557.6 155.4 558.5 153.4 559.5 152.1ZM579.2 132.2 578.7 133.5 579.3 135.5 579.5 138.3 579.6 141.1 579.2 143.1 578.5 144.4 577.9 144.4 577.1 143.1 576.5 141.1 576.4 138.3 576.3 135.5 576.7 133.5 576.1 132.2ZM586.4 134.4 587.7 136.2 588.8 138.8 589.2 141.7 589.5 144.6 589.0 147.3 588.1 149.0 587.1 149.0 585.8 147.3 584.7 144.6 584.4 141.7 584.1 138.8 584.6 136.2 585.5 134.4ZM592.7 132.2 592.7 132.9 592.7 134.0 592.7 136.5 592.3 137.6 591.7 138.3 591.2 138.3 590.7 137.6 590.3 136.5 590.3 134.0 590.3 132.9 590.3 132.2ZM601.0 132.2 600.2 134.3 601.0 137.4 601.0 138.2 601.0 144.3 601.0 146.6 599.9 150.1 598.2 155.9 597.7 157.6 596.8 161.7 596.6 162.5 595.2 165.6 593.6 167.6 592.7 167.6 592.0 165.6 591.9 162.5 592.1 161.7 593.0 157.6 593.6 155.9 595.3 150.1 596.4 146.6 596.4 144.3 596.4 138.2 596.4 137.4 597.2 134.3 596.4 132.2ZM600.7 148.8 602.2 150.6 603.6 153.3 604.1 155.0 605.1 158.8 605.7 161.1 607.3 167.3 607.9 169.8 607.7 173.6 607.4 180.0 607.3 182.0 606.4 186.3 605.2 191.9 605.0 192.5 603.3 198.7 603.0 200.0 602.9 200.4 601.4 203.0 600.0 204.8 600.0 204.8 599.1 204.8 599.1 204.8 598.7 203.0 598.7 200.4 598.8 200.0 599.2 198.7 600.9 192.5 601.0 191.9 602.3 186.3 603.3 182.0 603.4 180.0 603.7 173.6 603.9 169.8 603.2 167.3 601.7 161.1 601.1 158.8 600.0 155.0 599.5 153.3 599.5 150.6 599.9 148.8ZM616.5 132.2 615.6 134.1 616.6 136.9 616.6 140.0 616.7 143.0 615.9 145.8 614.7 147.7 613.6 147.7 612.4 145.8 611.4 143.0 611.4 140.0 611.3 136.9 612.1 134.1 611.2 132.2ZM608.0 143.8 609.4 146.0 610.7 149.2 611.0 151.0 612.0 157.6 612.1 158.1 612.6 165.4 612.7 167.1 612.2 170.4 611.3 172.6 610.4 172.6 609.2 170.4 608.1 167.1 608.0 165.4 607.5 158.1 607.4 157.6 606.3 151.0 606.0 149.2 606.3 146.0 607.1 143.8ZM630.4 132.2 629.4 134.6 630.0 138.2 629.9 139.2 629.4 146.1 629.3 146.6 627.6 152.9 625.7 159.6 625.4 161.0 624.4 166.5 624.2 167.4 622.8 171.0 621.3 173.3 620.3 173.3 619.7 171.0 619.5 167.4 619.7 166.5 620.6 161.0 621.0 159.6 622.8 152.9 624.4 146.6 624.5 146.1 625.0 139.2 625.1 138.2 626.2 134.6 625.5 132.2ZM635.3 132.2 635.3 132.7 635.3 133.5 635.3 135.3 635.1 136.1 634.8 136.6 634.5 136.6 634.2 136.1 634.0 135.3 634.0 133.5 634.0 132.7 634.0 132.2ZM643.4 132.2 642.5 134.3 643.0 137.4 642.9 138.4 642.4 144.5 642.3 146.6 641.3 150.6 639.7 156.6 639.4 157.6 638.0 162.5 636.1 168.4 636.1 168.7 634.6 174.4 633.1 180.4 632.7 182.0 632.1 186.5 631.4 192.7 631.1 195.2 631.2 198.8 631.2 199.8 631.2 200.0 630.5 202.9 629.5 205.0 628.7 205.0 627.7 202.9 627.0 200.0 627.0 199.8 627.0 198.8 627.0 195.2 627.4 192.7 628.2 186.5 628.8 182.0 629.2 180.4 630.7 174.4 632.1 168.7 632.2 168.4 633.9 162.5 635.3 157.6 635.6 156.6 637.1 150.6 638.0 146.6 638.2 144.5 638.7 138.4 638.8 137.4 639.7 134.3 639.2 132.2ZM647.1 132.2 647.1 133.0 647.1 134.2 647.1 136.9 647.1 138.1 647.1 138.8 644.9 138.8 644.9 138.1 644.9 136.9 644.9 134.2 644.9 133.0 644.9 132.2ZM645.0 153.8 645.7 155.6 646.1 158.4 645.8 162.1 645.6 165.7 644.8 168.5 643.8 170.4 643.1 170.4 642.4 168.5 642.0 165.7 642.2 162.1 642.4 158.4 643.2 155.6 644.2 153.8ZM582.4 152.1 583.0 153.3 583.4 155.1 583.1 160.2 582.6 162.0 581.8 163.2 581.2 163.2 580.6 162.0 580.2 160.2 580.5 155.1 581.1 153.3 581.8 152.1ZM575.6 159.3 575.9 159.6 576.1 160.1 576.1 161.2 575.9 161.7 575.6 162.1 575.3 162.1 575.0 161.7 574.8 161.2 574.8 160.1 575.0 159.6 575.3 159.3ZM579.8 166.5 580.5 168.4 580.6 171.3 580.2 172.9 579.1 177.6 578.9 179.2 578.0 185.7 577.4 189.7 576.7 192.2 575.0 198.5 574.5 200.0 574.5 200.1 572.9 202.9 571.3 204.8 570.4 204.8 569.8 202.9 569.7 200.1 569.7 200.0 570.1 198.5 571.7 192.2 572.3 189.7 572.8 185.7 573.7 179.2 574.0 177.6 575.2 172.9 575.6 171.3 577.2 168.4 578.8 166.5ZM573.0 172.6 573.7 173.7 574.2 175.4 574.0 179.2 573.3 180.8 572.5 182.0 571.8 182.0 571.0 180.8 570.6 179.2 570.8 175.4 571.5 173.7 572.3 172.6ZM590.6 170.4 591.1 171.2 591.4 172.4 591.3 175.0 590.9 176.2 590.3 177.0 589.8 177.0 589.3 176.2 589.0 175.0 589.1 172.4 589.6 171.2 590.1 170.4ZM599.2 172.6 599.6 173.4 599.8 174.6 599.7 177.2 599.3 178.4 598.9 179.2 598.5 179.2 598.1 178.4 597.8 177.2 598.0 174.6 598.4 173.4 598.8 172.6ZM553.0 179.2 553.7 180.2 554.4 181.6 555.1 185.6 555.8 189.5 555.6 191.0 555.2 191.9 554.7 191.9 554.0 191.0 553.3 189.5 552.6 185.6 551.9 181.6 552.1 180.2 552.5 179.2ZM615.0 176.4 616.0 178.1 617.0 180.5 617.4 183.6 618.0 187.5 618.6 190.7 619.9 197.8 620.3 200.0 620.4 200.9 620.3 203.3 619.8 204.9 619.1 204.9 618.0 203.3 617.0 200.9 616.9 200.0 616.5 197.8 615.3 190.7 614.7 187.5 614.2 183.6 613.7 180.5 613.9 178.1 614.4 176.4ZM640.8 175.3 641.0 175.7 641.2 176.3 641.2 177.7 641.0 178.3 640.8 178.7 640.6 178.7 640.4 178.3 640.2 177.7 640.2 176.3 640.4 175.7 640.6 175.3ZM638.1 182.5 638.5 183.6 638.7 185.2 638.2 190.3 637.7 191.9 637.0 193.0 636.6 193.0 636.2 191.9 636.1 190.3 636.6 185.2 637.2 183.6 637.7 182.5ZM627.7 181.4 628.5 182.4 629.3 183.9 630.2 187.2 630.2 188.7 629.9 189.7 629.4 189.7 628.6 188.7 627.7 187.2 626.9 183.9 626.9 182.4 627.2 181.4ZM645.5 192.5 646.0 194.0 646.2 196.2 645.9 198.7 645.7 200.0 645.5 201.2 644.6 203.5 643.6 204.9 643.0 204.9 642.4 203.5 642.2 201.2 642.4 200.0 642.6 198.7 643.0 196.2 643.8 194.0 644.8 192.5ZM570.4 189.7 571.7 191.5 572.6 194.3 572.8 197.4 572.9 200.0 572.9 200.4 572.2 203.2 571.2 205.0 570.3 205.0 569.1 203.2 568.1 200.4 568.0 200.0 567.9 197.4 567.7 194.3 568.4 191.5 569.4 189.7ZM595.1 192.5 595.6 193.6 595.9 195.2 595.6 198.7 595.5 200.0 595.3 202.3 594.8 203.9 594.1 205.0 593.6 205.0 593.1 203.9 592.8 202.3 593.0 200.0 593.1 198.7 593.3 195.2 593.9 193.6 594.5 192.5ZM578.7 197.5 579.3 198.3 579.9 199.5 580.0 200.0 580.5 202.9 580.3 204.1 580.0 204.9 579.6 204.9 579.1 204.1 578.5 202.9 578.0 200.0 577.9 199.5 578.0 198.3 578.3 197.5Z"/>
<path fill="#ffff00" d="M262.0 195.0 262.8 196.1 263.5 197.7 263.7 200.0 264.0 202.8 263.6 204.4 263.0 205.5 262.4 205.5 261.6 204.4 261.0 202.8 260.7 200.0 260.5 197.7 260.8 196.1 261.4 195.0ZM270.4 195.0 271.2 196.1 271.8 197.7 272.0 200.0 272.1 201.2 272.5 206.6 272.7 207.3 273.5 210.6 273.4 212.2 273.0 213.3 272.4 213.3 271.5 212.2 270.6 210.6 269.7 207.3 269.6 206.6 269.1 201.2 269.0 200.0 268.8 197.7 269.2 196.1 269.8 195.0ZM280.7 195.1 281.9 196.5 283.0 198.5 283.4 200.0 283.7 201.0 285.1 206.6 285.1 206.8 285.7 209.4 285.5 211.4 285.0 212.7 284.3 212.7 283.1 211.4 282.0 209.4 281.4 206.8 281.4 206.6 279.9 201.0 279.7 200.0 279.3 198.5 279.4 196.5 280.0 195.1ZM291.2 195.1 292.4 196.7 293.5 199.1 293.6 200.0 293.8 201.2 294.7 207.3 294.7 207.7 295.2 213.5 295.4 215.6 294.9 218.1 294.1 219.7 293.3 219.7 292.2 218.1 291.2 215.6 291.0 213.5 290.5 207.7 290.4 207.3 289.6 201.2 289.4 200.0 289.3 199.1 289.6 196.7 290.4 195.1ZM300.2 195.0 300.9 196.0 301.4 197.5 301.6 200.0 301.7 201.4 301.9 205.3 301.6 206.8 301.1 207.7 300.7 207.7 300.0 206.8 299.5 205.3 299.2 201.4 299.1 200.0 299.0 197.5 299.3 196.0 299.8 195.0ZM311.6 195.0 312.0 195.8 312.4 197.0 312.7 200.0 313.0 203.0 312.9 204.2 312.7 205.0 312.4 205.0 311.9 204.2 311.6 203.0 311.2 200.0 310.9 197.0 311.0 195.8 311.3 195.0ZM322.7 191.7 324.4 194.5 325.2 196.7 325.7 198.7 325.7 199.4 325.8 206.6 325.8 207.2 325.7 208.0 324.2 212.1 322.2 214.9 320.6 214.9 318.9 212.1 317.9 208.0 318.0 207.2 318.0 206.6 318.1 199.4 318.1 198.7 318.7 196.7 319.4 194.5 321.2 191.7ZM335.8 195.0 336.2 195.8 336.5 197.0 336.9 200.0 336.9 200.8 336.9 202.0 336.7 202.8 336.5 202.8 336.2 202.0 335.8 200.8 335.8 200.0 335.4 197.0 335.4 195.8 335.6 195.0ZM342.8 195.1 343.9 196.7 345.0 199.1 345.2 200.0 345.5 201.6 346.9 207.7 346.9 208.0 346.9 210.5 346.3 213.0 345.5 214.6 344.8 214.6 344.0 213.0 343.4 210.5 343.4 208.0 343.4 207.7 342.2 201.6 341.8 200.0 341.6 199.1 341.7 196.7 342.1 195.1ZM351.3 195.0 352.0 196.4 352.6 198.4 352.6 200.0 352.8 203.2 352.4 205.3 351.7 206.6 351.2 206.6 350.5 205.3 349.9 203.2 349.8 200.0 349.8 198.4 350.2 196.4 350.8 195.0ZM354.2 210.5 354.8 211.6 355.2 213.2 355.2 217.2 354.8 218.8 354.2 219.9 353.8 219.9 353.2 218.8 352.8 217.2 352.8 213.2 353.2 211.6 353.8 210.5ZM259.6 211.8 259.9 211.9 260.2 212.1 260.2 212.6 259.9 212.9 259.6 213.0 259.3 213.0 258.9 212.9 258.7 212.6 258.7 212.1 258.9 211.9 259.3 211.8ZM308.8 208.8 309.1 208.9 309.3 209.2 309.3 209.6 309.1 209.9 308.8 210.0 308.5 210.0 308.2 209.9 308.0 209.6 308.0 209.2 308.2 208.9 308.5 208.8ZM275.8 217.1 276.7 218.1 277.4 219.5 277.5 222.6 276.9 224.0 276.1 224.9 275.4 224.9 274.6 224.0 273.9 222.6 273.7 219.5 274.3 218.1 275.1 217.1ZM287.3 214.9 287.9 215.9 288.4 217.4 288.3 222.4 287.9 223.9 287.3 224.9 286.8 224.9 286.3 223.9 285.8 222.4 285.8 217.4 286.2 215.9 286.8 214.9ZM305.2 214.9 305.8 215.9 306.2 217.3 306.2 220.3 305.8 221.7 305.2 222.7 304.8 222.7 304.2 221.7 303.8 220.3 303.8 217.3 304.2 215.9 304.8 214.9ZM315.8 216.0 316.3 216.8 316.7 218.0 317.1 222.9 316.9 224.1 316.6 224.9 316.2 224.9 315.8 224.1 315.4 222.9 314.9 218.0 315.1 216.8 315.4 216.0ZM333.7 213.3 333.9 213.7 333.9 214.3 333.7 215.6 333.4 216.2 333.1 216.6 332.9 216.6 332.7 216.2 332.6 215.6 332.8 214.3 333.1 213.7 333.4 213.3ZM331.3 217.9 332.2 219.5 332.9 221.8 332.9 224.3 332.8 226.9 332.1 229.2 331.1 230.7 330.2 230.7 329.3 229.2 328.6 226.9 328.7 224.3 328.7 221.8 329.5 219.5 330.5 217.9ZM347.5 214.9 347.8 215.5 348.0 216.4 348.0 218.4 347.8 219.3 347.5 219.9 347.2 219.9 347.0 219.3 346.8 218.4 346.8 216.4 347.0 215.5 347.2 214.9ZM342.5 218.7 342.8 218.9 343.0 219.1 343.0 219.6 342.8 219.8 342.5 220.0 342.3 220.0 342.0 219.8 341.8 219.6 341.8 219.1 342.0 218.9 342.3 218.7ZM337.1 220.5 337.9 221.5 338.7 223.1 340.0 227.6 340.3 228.8 340.9 232.2 340.8 233.8 340.4 234.8 339.9 234.8 339.2 233.8 338.5 232.2 337.9 228.8 337.6 227.6 336.4 223.1 336.4 221.5 336.6 220.5ZM258.4 221.0 258.5 221.8 258.7 223.0 259.3 228.3 259.8 232.1 260.3 233.5 260.3 234.6 260.2 235.4 259.8 235.4 259.1 234.6 258.4 233.5 258.0 232.1 257.4 228.3 256.7 223.0 256.5 221.8 256.4 221.0ZM296.8 224.3 297.4 225.3 297.9 226.8 297.9 230.1 297.4 231.6 296.8 232.6 296.2 232.6 295.6 231.6 295.1 230.1 295.0 226.8 295.5 225.3 296.2 224.3ZM290.4 226.0 290.8 226.8 291.1 228.0 290.9 232.2 290.5 233.5 290.0 234.3 289.7 234.3 289.2 233.5 289.0 232.2 289.1 228.0 289.5 226.8 290.0 226.0ZM279.9 229.0 280.7 229.8 281.3 231.1 281.4 233.8 280.9 235.1 280.2 235.9 279.6 235.9 278.8 235.1 278.2 233.8 278.0 231.1 278.5 229.8 279.2 229.0ZM309.2 229.0 309.9 229.8 310.5 231.1 311.8 236.3 311.8 236.5 313.0 241.6 313.0 242.8 312.7 243.7 312.3 243.7 311.7 242.8 311.1 241.6 309.9 236.5 309.8 236.3 308.5 231.1 308.5 229.8 308.8 229.0ZM284.2 233.7 284.5 234.6 284.7 235.9 283.9 241.0 283.4 242.3 282.8 243.1 282.5 243.1 282.1 242.3 282.0 241.0 282.7 235.9 283.2 234.6 283.8 233.7ZM327.5 233.0 328.4 234.4 329.0 236.5 328.9 241.2 328.1 243.4 327.1 244.8 326.3 244.8 325.4 243.4 324.8 241.2 324.9 236.5 325.7 234.4 326.7 233.0ZM348.1 233.2 348.6 233.8 349.1 234.8 349.5 237.0 349.3 238.0 349.0 238.7 348.6 238.7 348.1 238.0 347.6 237.0 347.3 234.8 347.4 233.8 347.7 233.2ZM351.6 238.2 352.4 239.3 353.0 241.0 352.9 244.7 352.3 246.4 351.4 247.6 350.6 247.6 349.8 246.4 349.2 244.7 349.3 241.0 350.0 239.3 350.9 238.2ZM342.5 237.9 342.8 238.0 343.0 238.2 343.0 238.7 342.8 239.0 342.5 239.1 342.3 239.1 342.0 239.0 341.8 238.7 341.8 238.2 342.0 238.0 342.3 237.9ZM298.9 235.9 299.6 236.9 300.2 238.4 300.7 241.9 301.4 246.4 301.7 247.9 302.9 253.8 303.7 257.3 303.6 258.8 303.3 259.7 302.9 259.7 302.2 258.8 301.6 257.3 300.8 253.8 299.6 247.9 299.3 246.4 298.6 241.9 298.0 238.4 298.1 236.9 298.5 235.9ZM293.3 238.2 293.7 238.9 294.0 240.0 293.8 242.4 293.5 243.5 293.0 244.2 292.7 244.2 292.3 243.5 292.0 242.4 292.1 240.0 292.5 238.9 293.0 238.2ZM307.0 239.3 307.4 239.8 307.7 240.6 307.8 242.4 307.6 243.2 307.2 243.7 306.8 243.7 306.4 243.2 306.0 242.4 305.9 240.6 306.2 239.8 306.6 239.3ZM287.3 239.3 287.7 240.2 287.8 241.7 287.2 245.2 286.4 249.8 286.2 251.2 285.1 257.1 284.2 261.9 284.0 263.1 282.8 269.0 282.6 270.0 282.1 272.5 281.4 273.9 280.7 274.9 280.3 274.9 280.1 273.9 280.0 272.5 280.5 270.0 280.7 269.0 282.0 263.1 282.2 261.9 283.1 257.1 284.2 251.2 284.4 249.8 285.1 245.2 285.6 241.7 286.2 240.2 286.9 239.3ZM260.8 236.5 261.5 237.5 262.1 238.9 262.9 242.9 263.8 247.6 264.1 249.3 265.6 255.7 266.5 259.7 266.9 262.0 267.9 268.5 268.2 270.0 268.6 272.5 268.5 274.0 268.2 274.9 267.8 274.9 267.1 274.0 266.5 272.5 266.1 270.0 265.9 268.5 264.9 262.0 264.5 259.7 263.6 255.7 262.1 249.3 261.7 247.6 260.7 242.9 259.9 238.9 260.0 237.5 260.3 236.5ZM266.8 242.0 267.2 242.8 267.7 244.0 268.6 250.0 268.6 251.2 268.4 252.0 268.1 252.0 267.7 251.2 267.3 250.0 266.2 244.0 266.3 242.8 266.5 242.0ZM345.0 243.1 345.4 243.8 345.7 244.8 345.7 247.0 345.4 248.0 345.0 248.7 344.6 248.7 344.2 248.0 343.9 247.0 343.9 244.8 344.2 243.8 344.6 243.1ZM290.6 248.1 290.9 249.1 290.9 250.5 290.0 254.8 289.2 258.6 288.6 261.5 287.4 268.2 287.0 270.0 286.5 272.5 285.9 273.9 285.2 274.9 284.8 274.9 284.5 273.9 284.4 272.5 284.9 270.0 285.3 268.2 286.6 261.5 287.2 258.6 288.0 254.8 288.9 250.5 289.5 249.1 290.2 248.1ZM295.6 249.2 296.4 250.3 297.1 251.9 297.9 255.6 298.7 259.7 299.1 262.0 300.2 268.5 300.4 270.0 300.8 272.2 300.7 273.9 300.3 274.9 299.8 274.9 299.1 273.9 298.4 272.2 298.1 270.0 297.8 268.5 296.8 262.0 296.4 259.7 295.6 255.6 294.8 251.9 294.8 250.3 295.1 249.2ZM314.9 249.2 315.4 250.0 315.9 251.2 316.9 257.0 317.2 258.6 318.0 262.7 317.9 263.9 317.7 264.7 317.3 264.7 316.8 263.9 316.3 262.7 315.5 258.6 315.3 257.0 314.2 251.2 314.3 250.0 314.6 249.2ZM318.7 247.0 319.0 247.8 319.2 249.0 319.2 251.6 319.0 252.8 318.7 253.6 318.5 253.6 318.2 252.8 318.0 251.6 318.0 249.0 318.2 247.8 318.5 247.0ZM324.4 247.0 324.8 248.1 324.9 249.7 324.3 253.8 323.7 257.5 323.2 260.6 322.5 264.8 321.8 266.4 321.1 267.5 320.6 267.5 320.2 266.4 320.0 264.8 320.7 260.6 321.3 257.5 321.8 253.8 322.5 249.7 323.2 248.1 323.9 247.0ZM276.4 250.9 276.6 251.7 276.7 252.9 276.3 256.6 276.0 257.8 275.6 258.6 275.3 258.6 275.1 257.8 275.0 256.6 275.4 252.9 275.7 251.7 276.1 250.9ZM330.4 252.0 330.8 252.8 331.0 254.1 330.4 259.8 329.9 261.1 329.3 261.9 328.9 261.9 328.5 261.1 328.4 259.8 329.0 254.1 329.5 252.8 330.0 252.0ZM348.1 248.7 348.5 249.6 348.6 251.1 347.6 257.5 347.4 258.6 347.0 263.9 346.5 265.4 345.9 266.4 345.5 266.4 345.0 265.4 344.8 263.9 345.1 258.6 345.3 257.5 346.4 251.1 347.0 249.6 347.7 248.7ZM343.1 252.0 343.4 252.4 343.6 253.0 343.5 254.3 343.1 254.9 342.8 255.3 342.5 255.3 342.2 254.9 342.0 254.3 342.1 253.0 342.4 252.4 342.8 252.0ZM354.5 247.6 355.0 248.4 355.3 249.6 355.3 253.6 355.3 257.7 355.0 258.9 354.5 259.7 354.1 259.7 353.7 258.9 353.4 257.7 353.4 253.6 353.4 249.6 353.7 248.4 354.2 247.6ZM259.0 254.2 259.6 255.0 260.2 256.3 261.3 261.1 262.0 264.1 262.7 268.0 263.1 270.0 263.6 272.8 263.6 274.1 263.3 274.9 262.9 274.9 262.3 274.1 261.8 272.8 261.3 270.0 260.9 268.0 260.2 264.1 259.5 261.1 258.5 256.3 258.5 255.0 258.7 254.2ZM279.4 258.1 279.6 258.9 279.6 260.0 279.3 263.3 278.9 264.5 278.6 265.2 278.3 265.2 278.2 264.5 278.1 263.3 278.5 260.0 278.9 258.9 279.2 258.1ZM312.6 259.7 312.9 260.3 313.1 261.2 313.1 263.2 312.9 264.1 312.6 264.7 312.4 264.7 312.1 264.1 311.9 263.2 311.9 261.2 312.1 260.3 312.4 259.7ZM292.5 261.9 292.9 262.6 293.2 263.6 293.2 265.8 292.9 266.8 292.6 267.5 292.2 267.5 291.9 266.8 291.6 265.8 291.6 263.6 291.9 262.6 292.2 261.9ZM340.4 261.9 340.8 262.8 341.0 264.1 340.7 268.5 340.6 270.0 340.5 272.8 340.0 274.1 339.5 275.0 339.1 275.0 338.7 274.1 338.4 272.8 338.6 270.0 338.7 268.5 339.0 264.1 339.5 262.8 340.0 261.9ZM350.9 263.0 351.5 263.9 352.0 265.2 352.6 269.0 352.8 270.0 353.2 272.8 353.1 274.1 352.8 274.9 352.4 274.9 351.8 274.1 351.2 272.8 350.8 270.0 350.6 269.0 350.0 265.2 350.2 263.9 350.5 263.0ZM327.6 264.1 327.9 264.6 328.1 265.3 328.1 266.8 327.9 267.5 327.6 268.0 327.3 268.0 327.0 267.5 326.8 266.8 326.8 265.3 327.0 264.6 327.3 264.1ZM307.7 265.8 307.9 266.2 308.1 266.8 308.1 268.1 307.9 268.7 307.7 269.1 307.4 269.1 307.1 268.7 306.9 268.1 306.9 266.8 307.1 266.2 307.4 265.8ZM257.8 266.9 257.8 267.7 257.8 268.9 257.8 270.0 257.8 273.0 257.8 274.2 257.8 275.0 256.6 275.0 256.6 274.2 256.6 273.0 256.6 270.0 256.6 268.9 256.6 267.7 256.6 266.9Z"/>
<path fill="#ffff00" d="M364.1 201.1 365.0 202.4 365.8 204.3 366.3 207.4 367.0 211.1 367.9 213.5 370.0 219.6 370.9 222.1 372.1 225.6 374.2 231.6 374.8 233.2 376.1 237.6 377.9 243.7 378.1 244.2 379.7 249.8 381.4 255.3 381.4 255.9 381.9 262.3 382.4 268.6 382.5 270.0 382.6 271.7 382.2 273.7 381.7 275.0 381.1 275.0 380.3 273.7 379.7 271.7 379.5 270.0 379.4 268.6 378.9 262.3 378.5 255.9 378.4 255.3 376.8 249.8 375.1 244.2 374.9 243.7 373.1 237.6 371.7 233.2 371.2 231.6 369.1 225.6 367.9 222.1 367.0 219.6 364.9 213.5 364.1 211.1 363.5 207.4 363.0 204.3 363.1 202.4 363.6 201.1ZM376.1 193.9 377.3 196.1 378.3 198.9 378.4 199.3 378.4 200.1 379.0 206.2 379.0 206.6 379.0 206.9 378.2 210.2 377.1 212.4 376.1 212.4 374.9 210.2 374.1 206.9 374.1 206.6 374.1 206.2 373.8 200.1 373.7 199.3 373.8 198.9 374.3 196.1 375.2 193.9ZM372.9 208.3 373.4 209.1 373.8 210.3 374.6 215.7 374.5 216.9 374.2 217.7 373.8 217.7 373.3 216.9 372.9 215.7 372.1 210.3 372.2 209.1 372.5 208.3ZM387.9 203.3 388.5 204.4 389.0 206.1 388.9 209.9 388.3 211.6 387.6 212.7 387.0 212.7 386.4 211.6 385.9 209.9 386.1 206.1 386.6 204.4 387.3 203.3ZM392.9 203.3 393.4 204.5 393.7 206.3 393.5 210.0 393.4 212.2 392.1 216.6 391.8 217.7 392.1 220.2 391.8 222.0 391.2 223.2 390.7 223.2 389.9 222.0 389.3 220.2 389.0 217.7 389.3 216.6 390.7 212.2 390.8 210.0 391.1 206.3 391.7 204.5 392.4 203.3ZM405.1 195.1 405.4 195.9 405.5 197.2 405.1 200.0 405.0 201.2 404.1 207.4 404.1 207.7 402.4 213.3 401.4 216.6 401.3 217.2 400.9 218.5 400.3 219.4 399.9 219.4 399.5 218.5 399.3 217.2 399.3 216.6 400.4 213.3 402.2 207.7 402.2 207.4 403.2 201.2 403.3 200.0 403.8 197.2 404.2 195.9 404.8 195.1ZM412.8 201.1 413.3 202.3 413.6 204.1 413.3 208.1 412.7 209.9 411.9 211.1 411.3 211.1 410.8 209.9 410.5 208.1 410.9 204.1 411.5 202.3 412.3 201.1ZM422.6 195.0 422.8 195.8 423.0 197.0 423.0 200.0 423.0 200.8 422.8 202.0 422.6 202.8 422.4 202.8 422.1 202.0 421.9 200.8 421.9 200.0 422.0 197.0 422.1 195.8 422.4 195.0ZM436.2 193.9 437.6 196.4 438.5 198.9 438.9 200.2 439.1 201.8 440.1 208.8 440.1 209.7 440.1 211.4 439.3 215.2 438.0 217.7 436.8 217.7 435.5 215.2 434.7 211.4 434.7 209.7 434.7 208.8 434.2 201.8 434.0 200.2 434.1 198.9 434.5 196.4 435.3 193.9ZM441.5 195.0 442.0 195.9 442.3 197.2 442.3 200.0 442.3 200.0 442.0 201.3 441.5 202.2 441.1 202.2 440.6 201.3 440.2 200.0 440.2 200.0 440.3 197.2 440.6 195.9 441.1 195.0ZM451.5 193.9 452.5 195.6 453.3 198.0 453.4 198.9 453.5 200.8 453.6 203.6 452.9 206.1 451.9 207.7 451.0 207.7 449.9 206.1 449.1 203.6 449.1 200.8 449.1 198.9 449.1 198.0 449.8 195.6 450.7 193.9ZM454.3 208.3 454.9 209.7 455.3 211.7 455.1 216.9 455.0 219.9 455.2 222.0 454.9 224.1 454.3 225.4 453.7 225.4 452.9 224.1 452.1 222.0 451.9 219.9 452.1 216.9 452.4 211.7 453.0 209.7 453.7 208.3ZM355.7 208.3 355.9 209.0 356.1 210.0 356.1 212.2 355.9 213.2 355.7 213.8 355.4 213.8 355.2 213.2 355.0 212.2 355.0 210.0 355.2 209.0 355.4 208.3ZM360.4 216.9 360.7 217.0 360.9 217.2 360.9 217.7 360.7 217.9 360.4 218.1 360.2 218.1 359.9 217.9 359.7 217.7 359.7 217.2 359.9 217.0 360.2 216.9ZM418.5 213.8 418.8 213.9 419.0 214.1 419.0 214.6 418.8 214.8 418.5 215.0 418.3 215.0 418.0 214.8 417.8 214.6 417.8 214.1 418.0 213.9 418.3 213.8ZM407.2 213.3 407.5 214.1 407.6 215.4 406.8 219.5 406.3 222.1 405.7 225.8 405.0 229.9 404.5 231.2 403.9 232.1 403.5 232.1 403.2 231.2 403.0 229.9 403.7 225.8 404.3 222.1 404.8 219.5 405.6 215.4 406.2 214.1 406.8 213.3ZM414.9 213.3 415.1 213.8 415.4 214.6 415.4 216.4 415.2 217.2 414.9 217.7 414.6 217.7 414.3 217.2 414.1 216.4 414.1 214.6 414.3 213.8 414.6 213.3ZM417.4 216.6 417.8 218.4 417.5 221.2 416.8 222.9 415.9 225.4 415.0 229.3 413.6 235.4 413.5 235.9 413.2 237.7 412.0 240.6 410.7 242.6 409.9 242.6 409.2 240.6 408.9 237.7 409.1 235.9 409.2 235.4 410.5 229.3 411.4 225.4 412.3 222.9 413.0 221.2 414.8 218.4 416.5 216.6ZM426.6 208.3 426.9 209.4 427.0 211.0 426.3 214.4 425.4 218.8 424.9 220.5 423.2 226.5 422.6 228.8 421.5 232.5 419.9 238.5 419.8 238.7 418.3 244.6 417.0 249.8 416.8 250.6 415.3 256.7 414.3 260.8 413.8 262.7 412.4 268.8 412.1 270.0 411.6 272.2 410.8 273.8 409.9 274.9 409.4 274.9 409.1 273.8 409.1 272.2 409.6 270.0 409.9 268.8 411.4 262.7 411.9 260.8 412.9 256.7 414.5 250.6 414.7 249.8 416.0 244.6 417.4 238.7 417.5 238.5 419.1 232.5 420.1 228.8 420.8 226.5 422.4 220.5 422.9 218.8 423.8 214.4 424.6 211.0 425.4 209.4 426.1 208.3ZM431.5 214.4 431.8 215.2 431.8 216.5 430.4 222.1 430.1 223.2 429.0 227.7 428.3 229.0 427.7 229.9 427.3 229.9 427.0 229.0 427.0 227.7 428.1 223.2 428.4 222.1 429.8 216.5 430.5 215.2 431.1 214.4ZM434.7 222.7 435.1 223.8 435.2 225.6 434.4 229.3 433.8 232.1 432.6 235.8 430.7 242.2 430.4 243.1 428.7 248.7 427.1 254.2 426.8 255.1 425.2 261.7 424.4 265.2 424.0 268.3 423.8 270.0 423.6 272.0 423.0 273.8 422.2 275.0 421.6 275.0 421.1 273.8 420.9 272.0 421.1 270.0 421.3 268.3 421.7 265.2 422.6 261.7 424.3 255.1 424.5 254.2 426.2 248.7 427.8 243.1 428.1 242.2 430.0 235.8 431.1 232.1 431.7 229.3 432.5 225.6 433.3 223.8 434.2 222.7ZM443.2 221.6 444.3 222.7 445.4 224.3 447.1 228.5 448.1 231.0 450.0 235.3 452.5 240.9 452.9 242.1 454.3 246.4 454.5 248.1 454.3 249.2 453.8 249.2 452.8 248.1 451.8 246.4 450.4 242.1 450.0 240.9 447.4 235.3 445.5 231.0 444.4 228.5 442.7 224.3 442.5 222.7 442.7 221.6ZM384.0 219.4 384.5 220.2 384.8 221.5 384.9 224.4 384.6 225.7 384.2 226.5 383.8 226.5 383.3 225.7 382.9 224.4 382.8 221.5 383.1 220.2 383.6 219.4ZM356.4 222.7 357.2 223.9 358.0 225.6 358.6 229.3 359.1 232.1 360.2 235.9 361.0 238.7 361.0 239.6 360.4 241.4 359.7 242.6 359.2 242.6 358.6 241.4 358.2 239.6 358.3 238.7 357.5 235.9 356.4 232.1 355.9 229.3 355.3 225.6 355.4 223.9 355.8 222.7ZM364.7 223.8 365.6 224.9 366.5 226.7 367.8 231.4 367.8 233.1 367.4 234.3 366.9 234.3 366.0 233.1 365.0 231.4 363.8 226.7 363.8 224.9 364.1 223.8ZM377.9 227.6 378.6 228.5 379.3 229.7 380.6 234.5 380.9 235.4 381.4 239.3 381.2 240.6 380.9 241.5 380.5 241.5 379.9 240.6 379.4 239.3 378.9 235.4 378.6 234.5 377.3 229.7 377.2 228.5 377.5 227.6ZM381.7 231.5 381.9 232.1 382.1 233.0 382.0 235.0 381.8 235.9 381.5 236.5 381.2 236.5 380.9 235.9 380.8 235.0 380.9 233.0 381.1 232.1 381.4 231.5ZM393.5 229.8 393.8 229.9 394.0 230.2 394.0 230.7 393.8 230.9 393.5 231.0 393.3 231.0 393.0 230.9 392.8 230.7 392.8 230.2 393.0 229.9 393.3 229.8ZM386.7 232.1 386.9 232.7 387.2 233.7 387.2 235.9 386.9 236.9 386.7 237.6 386.4 237.6 386.1 236.9 385.9 235.9 385.9 233.7 386.1 232.7 386.4 232.1ZM398.7 232.6 399.1 234.1 399.2 236.3 398.5 238.7 398.5 239.0 398.5 241.7 397.9 244.0 397.2 245.6 396.5 245.6 395.7 244.0 395.1 241.7 395.1 239.0 395.1 238.7 395.7 236.3 396.8 234.1 398.0 232.6ZM369.8 239.3 370.3 239.9 370.7 240.8 371.1 242.7 371.0 243.6 370.7 244.2 370.3 244.2 369.8 243.6 369.3 242.7 369.0 240.8 369.1 239.9 369.4 239.3ZM443.2 237.6 443.7 238.5 443.9 239.9 443.4 243.0 442.8 244.4 442.1 245.3 441.6 245.3 441.1 244.4 440.9 243.0 441.3 239.9 442.0 238.5 442.7 237.6ZM384.5 243.1 384.8 244.0 384.8 245.3 383.9 249.8 384.1 251.7 385.0 258.1 384.8 259.4 384.5 260.3 384.1 260.3 383.5 259.4 383.0 258.1 382.1 251.7 381.9 249.8 382.9 245.3 383.5 244.0 384.1 243.1ZM408.5 242.6 409.2 244.2 409.7 246.7 409.7 248.7 409.7 250.7 409.9 254.7 409.4 257.2 408.7 258.8 408.0 258.8 407.1 257.2 406.4 254.7 406.2 250.7 406.1 248.7 406.2 246.7 406.8 244.2 407.7 242.6ZM421.6 242.6 421.7 243.4 421.7 244.7 420.5 248.5 419.5 252.0 418.6 254.4 417.3 258.2 416.5 259.4 415.8 260.3 415.4 260.3 415.3 259.4 415.4 258.2 416.8 254.4 417.7 252.0 418.7 248.5 419.8 244.7 420.5 243.4 421.2 242.6ZM393.8 247.6 394.3 248.8 394.5 250.8 393.9 254.6 393.5 257.5 392.0 261.4 390.2 266.4 389.4 268.1 388.5 270.0 387.8 271.6 386.5 273.4 385.3 274.6 384.7 274.6 384.6 273.4 384.9 271.6 385.6 270.0 386.5 268.1 387.3 266.4 389.1 261.4 390.6 257.5 391.0 254.6 391.6 250.8 392.3 248.8 393.2 247.6ZM399.0 247.6 399.9 248.8 400.8 250.7 401.7 254.4 402.3 257.5 403.5 261.2 405.1 266.4 405.4 268.0 405.7 270.0 406.0 271.7 405.8 273.6 405.3 274.9 404.7 274.9 403.8 273.6 403.0 271.7 402.8 270.0 402.5 268.0 402.2 266.4 400.6 261.2 399.5 257.5 398.8 254.4 398.0 250.7 398.0 248.8 398.4 247.6ZM356.4 247.6 356.9 248.6 357.3 250.3 357.3 253.6 357.3 257.0 356.9 258.6 356.4 259.7 355.9 259.7 355.3 258.6 354.9 257.0 354.9 253.6 354.9 250.3 355.3 248.6 355.9 247.6ZM363.0 254.2 363.6 255.2 364.1 256.6 364.6 261.1 365.0 264.1 365.7 268.0 366.1 270.0 366.5 272.5 366.4 273.9 366.1 274.9 365.7 274.9 365.0 273.9 364.3 272.5 363.8 270.0 363.5 268.0 362.7 264.1 362.4 261.1 361.9 256.6 362.1 255.2 362.5 254.2ZM359.7 260.3 360.4 261.6 360.8 263.7 360.6 267.6 360.4 270.0 360.3 271.6 359.7 273.6 358.9 275.0 358.3 275.0 357.6 273.6 357.2 271.6 357.3 270.0 357.5 267.6 357.7 263.7 358.3 261.6 359.1 260.3ZM447.4 248.1 448.1 249.6 448.5 251.9 448.5 256.6 448.4 257.5 447.4 261.0 446.2 263.2 444.9 264.7 444.3 264.7 443.9 263.2 444.1 261.0 445.2 257.5 445.2 256.6 445.4 251.9 445.9 249.6 446.7 248.1ZM433.4 252.5 434.3 254.7 434.9 258.0 434.8 259.7 434.7 260.1 433.2 267.5 432.8 269.6 432.6 270.0 431.3 272.8 429.7 274.9 429.7 274.9 428.7 274.9 428.7 274.9 428.0 272.8 427.8 270.0 427.9 269.6 428.3 267.5 430.0 260.1 430.1 259.7 430.2 258.0 431.3 254.7 432.5 252.5ZM412.9 257.5 413.7 259.4 414.2 262.3 413.9 266.2 413.6 270.0 413.5 270.2 412.6 273.1 411.4 275.0 410.5 275.0 409.7 273.1 409.2 270.2 409.3 270.0 409.6 266.2 410.0 262.3 411.0 259.4 412.1 257.5ZM439.6 265.2 440.9 266.4 442.2 268.1 442.6 270.0 443.1 272.0 442.7 273.7 441.8 274.9 440.8 274.9 439.4 273.7 438.2 272.0 437.7 270.0 437.3 268.1 437.7 266.4 438.6 265.2ZM404.5 260.3 405.1 261.6 405.5 263.7 405.3 267.6 405.2 270.0 405.1 271.6 404.5 273.6 403.7 275.0 403.1 275.0 402.4 273.6 402.0 271.6 402.1 270.0 402.3 267.6 402.5 263.7 403.2 261.6 403.9 260.3Z"/>
<path fill="#ffff00" d="M458.3 195.2 459.0 196.1 459.7 197.5 460.4 200.0 460.7 200.9 460.7 202.4 460.5 203.3 460.1 203.3 459.4 202.4 458.7 200.9 458.4 200.0 457.8 197.5 457.8 196.1 457.9 195.2ZM472.7 193.9 474.3 195.5 475.7 197.9 475.9 198.9 476.1 200.6 476.5 203.2 475.8 205.6 474.5 207.2 473.1 207.2 471.4 205.6 470.0 203.2 469.7 200.6 469.5 198.9 469.4 197.9 470.2 195.5 471.4 193.9ZM474.7 205.5 476.2 207.3 477.7 209.9 478.3 211.7 480.3 217.7 480.3 217.8 482.5 223.9 484.1 228.8 484.5 230.0 485.9 236.3 486.4 238.1 486.3 240.8 485.8 242.6 485.0 242.6 483.7 240.8 482.3 238.1 481.9 236.3 480.4 230.0 480.1 228.8 478.3 223.9 476.2 217.8 476.2 217.7 474.3 211.7 473.8 209.9 473.6 207.3 474.0 205.5ZM500.7 195.1 501.1 196.0 501.2 197.5 500.9 200.0 500.6 201.7 499.8 207.7 499.6 208.4 497.8 214.9 497.6 215.5 497.0 219.2 496.3 220.6 495.6 221.6 495.1 221.6 494.8 220.6 494.7 219.2 495.3 215.5 495.5 214.9 497.4 208.4 497.6 207.7 498.5 201.7 498.7 200.0 499.1 197.5 499.7 196.0 500.3 195.1ZM508.5 193.9 509.3 195.4 509.8 197.7 509.8 198.9 509.8 201.4 509.7 205.0 509.1 207.3 508.2 208.8 507.5 208.8 506.7 207.3 506.2 205.0 506.3 201.4 506.4 198.9 506.4 197.7 507.0 195.4 507.9 193.9ZM517.0 193.9 517.9 195.4 518.6 197.7 518.7 198.9 518.8 200.3 519.3 206.7 519.3 207.7 521.3 212.8 523.3 217.7 523.6 218.8 525.4 225.0 526.5 228.8 527.2 231.2 529.0 237.3 529.8 239.8 530.9 243.5 532.9 249.6 533.0 249.8 533.7 256.0 534.1 259.7 534.6 262.3 536.0 268.6 536.3 270.0 536.6 271.2 536.5 273.4 536.0 274.9 535.4 274.9 534.3 273.4 533.2 271.2 533.0 270.0 532.7 268.6 531.3 262.3 530.8 259.7 530.4 256.0 529.7 249.8 529.6 249.6 527.5 243.5 526.3 239.8 525.5 237.3 523.6 231.2 522.9 228.8 521.7 225.0 519.8 218.8 519.5 217.7 517.6 212.8 515.7 207.7 515.6 206.7 515.2 200.3 515.2 198.9 515.1 197.7 515.6 195.4 516.3 193.9ZM530.6 193.9 531.4 195.4 532.1 197.7 532.1 198.9 532.1 201.6 532.1 205.6 531.5 207.9 530.6 209.4 529.8 209.4 529.0 207.9 528.4 205.6 528.4 201.6 528.4 198.9 528.4 197.7 529.0 195.4 529.9 193.9ZM527.7 210.0 528.1 210.7 528.5 211.8 528.5 214.2 528.1 215.3 527.7 216.0 527.3 216.0 526.8 215.3 526.4 214.2 526.4 211.8 526.8 210.7 527.3 210.0ZM546.6 202.2 547.4 203.6 548.0 205.8 548.0 209.3 548.0 212.2 546.3 216.0 545.2 218.8 544.6 222.9 544.0 226.4 543.1 228.5 542.2 229.9 541.5 229.9 541.0 228.5 540.7 226.4 541.2 222.9 541.8 218.8 542.9 216.0 544.6 212.2 544.6 209.3 544.5 205.8 545.1 203.6 545.9 202.2ZM455.7 210.0 455.9 210.6 456.1 211.6 456.2 213.8 456.0 214.8 455.7 215.5 455.4 215.5 455.2 214.8 455.0 213.8 455.0 211.6 455.2 210.6 455.4 210.0ZM467.2 210.5 467.8 211.8 468.2 213.8 468.1 216.6 468.0 216.9 466.4 222.1 466.5 223.0 467.0 226.1 466.8 228.0 466.3 229.3 465.8 229.3 464.9 228.0 464.1 226.1 463.6 223.0 463.5 222.1 465.1 216.9 465.2 216.6 465.3 213.8 465.9 211.8 466.7 210.5ZM464.0 214.4 464.3 215.2 464.6 216.4 464.6 219.0 464.3 220.2 464.0 221.0 463.7 221.0 463.4 220.2 463.1 219.0 463.1 216.4 463.4 215.2 463.7 214.4ZM488.9 211.1 489.3 211.9 489.6 213.1 490.1 218.5 489.9 219.7 489.7 220.5 489.4 220.5 489.0 219.7 488.6 218.5 488.2 213.1 488.3 211.9 488.6 211.1ZM513.0 210.5 513.5 211.7 513.6 213.5 512.9 217.7 512.8 218.0 511.4 222.6 510.5 224.3 509.5 225.4 508.9 225.4 508.6 224.3 508.6 222.6 509.9 218.0 510.0 217.7 510.8 213.5 511.6 211.7 512.5 210.5ZM533.2 213.3 533.7 213.8 534.0 214.6 534.0 216.4 533.7 217.2 533.2 217.7 532.8 217.7 532.3 217.2 532.0 216.4 532.0 214.6 532.3 213.8 532.8 213.3ZM530.7 223.2 531.0 223.8 531.2 224.5 531.2 226.3 531.0 227.1 530.7 227.6 530.4 227.6 530.1 227.1 529.9 226.3 529.9 224.5 530.1 223.8 530.4 223.2ZM455.7 224.9 456.3 225.7 456.9 226.8 457.9 230.7 459.1 235.4 459.4 236.5 460.9 242.3 461.9 246.4 462.4 248.1 464.0 253.9 464.7 256.4 465.0 257.8 465.1 258.9 464.9 259.7 464.6 259.7 464.0 258.9 463.4 257.8 463.0 256.4 462.4 253.9 460.7 248.1 460.3 246.4 459.2 242.3 457.8 236.5 457.5 235.4 456.2 230.7 455.2 226.8 455.2 225.7 455.4 224.9ZM462.4 227.1 462.9 227.9 463.3 229.1 463.8 232.3 463.7 233.5 463.5 234.3 463.1 234.3 462.6 233.5 462.2 232.3 461.7 229.1 461.8 227.9 462.0 227.1ZM493.5 225.4 494.1 226.7 494.6 228.7 494.6 231.8 494.6 233.2 495.4 238.0 495.9 241.0 495.8 242.9 495.3 244.2 494.8 244.2 493.9 242.9 493.1 241.0 492.5 238.0 491.7 233.2 491.7 231.8 491.7 228.7 492.2 226.7 492.9 225.4ZM506.6 229.3 506.9 230.1 506.9 231.3 506.0 236.2 505.5 237.4 504.9 238.2 504.6 238.2 504.4 237.4 504.3 236.2 505.2 231.3 505.7 230.1 506.3 229.3ZM512.8 229.3 513.7 230.3 514.6 231.9 515.9 236.3 516.0 236.5 516.1 241.0 515.7 242.6 515.2 243.7 514.7 243.7 514.1 242.6 513.6 241.0 513.5 236.5 513.4 236.3 512.1 231.9 512.0 230.3 512.3 229.3ZM518.2 231.4 518.6 231.6 518.9 231.9 518.9 232.6 518.6 232.9 518.2 233.2 517.9 233.2 517.5 232.9 517.2 232.6 517.2 231.9 517.5 231.6 517.9 231.4ZM538.9 228.2 539.6 229.7 540.0 232.0 539.8 234.4 539.7 235.4 537.5 239.8 537.5 240.2 537.4 242.6 536.7 244.9 535.9 246.4 535.2 246.4 534.5 244.9 534.0 242.6 534.0 240.2 534.0 239.8 536.2 235.4 536.3 234.4 536.5 232.0 537.2 229.7 538.2 228.2ZM554.7 225.4 555.0 226.2 555.1 227.4 554.0 234.5 553.6 235.7 553.1 236.5 552.7 236.5 552.5 235.7 552.3 234.5 553.4 227.4 553.9 226.2 554.4 225.4ZM473.3 239.3 473.6 239.6 473.8 240.1 474.0 241.2 473.9 241.7 473.7 242.0 473.5 242.0 473.2 241.7 473.0 241.2 472.9 240.1 473.0 239.6 473.2 239.3ZM471.7 241.5 472.1 242.3 472.5 243.5 472.9 247.2 472.8 248.4 472.6 249.2 472.3 249.2 471.9 248.4 471.6 247.2 471.1 243.5 471.2 242.3 471.5 241.5ZM474.8 242.9 475.0 243.0 475.2 243.2 475.2 243.5 475.0 243.7 474.8 243.8 474.6 243.8 474.4 243.7 474.2 243.5 474.2 243.2 474.4 243.0 474.6 242.9ZM489.7 242.6 490.0 243.4 490.1 244.7 489.3 249.0 489.1 249.8 488.2 255.5 487.5 259.7 487.1 262.0 485.9 268.5 485.6 270.0 485.1 272.8 484.6 274.1 483.9 274.9 483.6 274.9 483.3 274.1 483.2 272.8 483.7 270.0 484.0 268.5 485.2 262.0 485.6 259.7 486.3 255.5 487.3 249.8 487.4 249.0 488.2 244.7 488.7 243.4 489.3 242.6ZM500.5 241.5 501.0 243.0 501.1 245.2 500.5 248.9 500.3 249.8 500.1 252.6 499.4 254.9 498.5 256.4 497.8 256.4 497.2 254.9 496.8 252.6 497.1 249.8 497.2 248.9 497.8 245.2 498.8 243.0 499.8 241.5ZM500.5 256.4 500.9 257.2 501.3 258.4 501.4 262.6 501.7 268.8 501.7 270.0 501.9 273.0 501.6 274.2 501.3 275.0 500.9 275.0 500.5 274.2 500.2 273.0 500.1 270.0 500.0 268.8 499.8 262.6 499.6 258.4 499.8 257.2 500.2 256.4ZM521.5 243.1 521.8 243.9 521.9 245.1 521.7 247.8 521.4 249.0 521.0 249.8 520.7 249.8 520.4 249.0 520.3 247.8 520.5 245.1 520.8 243.9 521.2 243.1ZM524.9 249.2 525.0 250.0 525.0 251.1 523.4 257.1 523.3 257.5 522.5 263.3 522.0 264.5 521.5 265.2 521.2 265.2 520.9 264.5 520.8 263.3 521.6 257.5 521.7 257.1 523.3 251.1 523.9 250.0 524.5 249.2ZM519.2 254.2 519.8 255.5 520.3 257.5 520.1 262.0 519.6 263.9 518.9 265.2 518.3 265.2 517.7 263.9 517.3 262.0 517.4 257.5 518.0 255.5 518.7 254.2ZM549.2 247.6 549.6 248.3 549.9 249.5 550.1 252.7 550.0 253.9 549.7 254.7 549.4 254.7 549.1 253.9 548.7 252.7 548.5 249.5 548.6 248.3 548.9 247.6ZM542.6 249.2 543.1 250.0 543.6 251.2 544.6 255.6 545.4 259.7 545.8 262.0 546.9 268.5 547.1 270.0 547.6 273.0 547.5 274.1 547.2 274.9 546.9 274.9 546.4 274.1 545.9 273.0 545.4 270.0 545.2 268.5 544.1 262.0 543.8 259.7 542.9 255.6 542.0 251.2 542.0 250.0 542.2 249.2ZM456.3 252.5 456.9 253.5 457.4 255.0 458.0 258.9 457.8 260.4 457.4 261.4 457.0 261.4 456.4 260.4 455.9 258.9 455.4 255.0 455.5 253.5 455.9 252.5ZM503.9 252.5 504.4 253.5 504.8 254.8 504.7 257.9 504.3 259.3 503.7 260.3 503.2 260.3 502.7 259.3 502.3 257.9 502.4 254.8 502.9 253.5 503.4 252.5ZM508.5 256.3 508.8 256.5 509.0 256.7 509.0 257.2 508.8 257.4 508.5 257.6 508.3 257.6 508.0 257.4 507.8 257.2 507.8 256.7 508.0 256.5 508.3 256.3ZM491.1 251.4 491.4 252.2 491.6 253.4 491.2 257.7 490.8 258.9 490.3 259.7 490.0 259.7 489.7 258.9 489.5 257.7 490.0 253.4 490.3 252.2 490.8 251.4ZM465.6 262.5 466.0 263.3 466.3 264.5 466.6 268.7 466.7 270.0 466.9 273.0 466.8 274.2 466.6 275.0 466.3 275.0 466.0 274.2 465.7 273.0 465.5 270.0 465.4 268.7 465.1 264.5 465.2 263.3 465.4 262.5ZM494.5 261.4 495.0 262.6 495.2 264.3 494.7 268.2 494.5 270.0 494.2 272.0 493.6 273.8 492.8 275.0 492.3 275.0 491.8 273.8 491.6 272.0 491.8 270.0 492.1 268.2 492.6 264.3 493.3 262.6 494.0 261.4ZM488.5 265.2 488.7 265.7 488.8 266.4 488.7 268.0 488.5 268.7 488.3 269.1 488.1 269.1 487.9 268.7 487.8 268.0 487.9 266.4 488.1 265.7 488.3 265.2ZM528.5 262.5 529.1 263.6 529.5 265.2 529.7 268.7 529.7 270.0 529.8 272.3 529.5 273.9 529.0 275.0 528.5 275.0 528.0 273.9 527.5 272.3 527.4 270.0 527.3 268.7 527.2 265.2 527.5 263.6 528.0 262.5ZM521.5 264.1 522.0 265.0 522.3 266.2 522.3 270.0 522.3 273.0 522.0 274.2 521.5 275.0 521.2 275.0 520.8 274.2 520.5 273.0 520.5 270.0 520.5 266.2 520.8 265.0 521.2 264.1ZM537.0 265.2 537.7 266.1 538.3 267.4 538.9 270.0 539.6 272.7 539.5 274.0 539.3 274.9 538.9 274.9 538.3 274.0 537.6 272.7 537.0 270.0 536.4 267.4 536.4 266.1 536.7 265.2ZM540.5 263.3 540.8 263.4 541.0 263.7 541.0 264.2 540.8 264.4 540.5 264.5 540.3 264.5 540.0 264.4 539.8 264.2 539.8 263.7 540.0 263.4 540.3 263.3ZM511.7 265.2 512.3 266.3 512.7 268.0 512.8 270.0 512.9 272.3 512.6 273.9 512.1 275.0 511.6 275.0 511.0 273.9 510.6 272.3 510.4 270.0 510.4 268.0 510.7 266.3 511.2 265.2ZM554.7 265.2 555.0 266.0 555.2 267.2 555.2 270.0 555.2 273.0 555.0 274.2 554.7 275.0 554.4 275.0 554.2 274.2 553.9 273.0 554.0 270.0 554.0 267.2 554.2 266.0 554.4 265.2Z"/>
<path fill="#ffff00" d="M573.6 194.0 574.0 195.2 574.1 197.0 573.6 198.9 573.3 200.3 571.7 206.5 570.8 210.0 569.9 212.6 567.8 218.7 567.4 219.9 566.0 224.9 564.3 231.1 564.0 232.1 562.6 237.2 560.9 243.4 560.7 244.2 559.3 249.6 557.9 255.3 557.8 255.9 557.2 262.2 556.5 268.6 556.3 270.0 556.1 272.0 555.4 273.8 554.7 275.0 554.1 275.0 553.7 273.8 553.4 272.0 553.6 270.0 553.8 268.6 554.6 262.2 555.3 255.9 555.4 255.3 556.8 249.6 558.1 244.2 558.3 243.4 560.0 237.2 561.4 232.1 561.7 231.1 563.3 224.9 564.7 219.9 565.1 218.7 567.1 212.6 568.0 210.0 568.8 206.5 570.3 200.3 570.6 198.9 571.1 197.0 572.0 195.2 573.0 194.0ZM580.4 194.0 580.8 195.2 580.9 196.9 580.4 198.9 580.1 200.3 578.7 206.5 577.9 210.0 577.1 212.7 575.2 218.8 574.6 221.0 573.4 225.0 571.6 231.1 570.7 234.3 569.8 237.3 568.1 243.5 567.3 246.4 566.6 249.7 565.1 255.9 564.5 258.6 564.2 262.2 563.6 268.6 563.5 270.0 563.3 272.0 562.7 273.8 562.0 275.0 561.4 275.0 560.9 273.8 560.6 272.0 560.8 270.0 561.0 268.6 561.6 262.2 562.0 258.6 562.6 255.9 564.1 249.7 564.8 246.4 565.6 243.5 567.3 237.3 568.1 234.3 569.0 231.1 570.7 225.0 571.9 221.0 572.5 218.8 574.3 212.7 575.2 210.0 575.9 206.5 577.2 200.3 577.5 198.9 577.9 196.9 578.8 195.2 579.8 194.0ZM585.4 195.0 585.8 195.8 586.1 197.0 586.1 200.0 586.1 204.1 585.8 205.3 585.4 206.1 585.0 206.1 584.6 205.3 584.3 204.1 584.3 200.0 584.3 197.0 584.6 195.8 585.0 195.0ZM596.3 194.0 596.9 195.8 597.0 198.5 596.9 198.9 596.6 200.5 595.1 207.0 594.7 208.8 592.8 213.3 591.3 216.6 590.3 219.5 588.2 225.9 588.0 226.5 586.2 232.2 585.5 234.2 584.9 235.4 584.7 236.9 584.1 238.7 583.3 238.7 582.1 236.9 581.5 235.4 581.6 234.2 582.2 232.2 583.9 226.5 584.2 225.9 586.2 219.5 587.2 216.6 588.6 213.3 590.5 208.8 590.9 207.0 592.3 200.5 592.7 198.9 592.8 198.5 594.1 195.8 595.5 194.0ZM601.6 195.1 601.9 196.0 602.1 197.4 601.6 200.0 601.5 200.5 600.8 201.8 600.0 202.8 599.5 202.8 599.2 201.8 599.0 200.5 599.1 200.0 599.6 197.4 600.3 196.0 601.1 195.1ZM618.6 194.0 619.7 195.6 620.7 198.0 620.8 198.9 621.2 201.1 622.4 208.2 622.5 208.8 622.6 211.4 622.0 213.8 621.2 215.5 620.4 215.5 619.6 213.8 619.0 211.4 619.0 208.8 619.0 208.2 617.8 201.1 617.4 198.9 617.3 198.0 617.5 195.6 618.0 194.0ZM633.3 201.1 633.7 201.9 634.0 203.1 634.0 206.3 633.7 207.5 633.3 208.3 633.0 208.3 632.7 207.5 632.4 206.3 632.4 203.1 632.7 201.9 633.0 201.1ZM645.6 195.1 645.9 196.7 645.9 199.1 645.7 200.0 645.2 201.9 644.6 204.4 644.4 204.7 642.7 206.9 641.1 208.3 640.4 208.3 640.4 206.9 641.0 204.7 641.2 204.4 641.9 201.9 642.4 200.0 642.6 199.1 643.8 196.7 644.9 195.1ZM558.7 206.1 559.0 206.7 559.2 207.7 559.1 210.0 559.0 210.9 558.7 211.6 558.5 211.6 558.3 210.9 558.1 210.0 558.1 207.7 558.3 206.7 558.5 206.1ZM582.3 209.4 582.7 210.5 582.9 212.1 582.2 216.6 581.9 218.0 580.7 223.9 580.0 225.5 579.2 226.5 578.7 226.5 578.4 225.5 578.3 223.9 579.5 218.0 579.8 216.6 580.4 212.1 581.1 210.5 581.8 209.4ZM625.4 211.1 625.7 211.9 625.9 213.2 625.1 218.3 625.1 218.8 623.9 223.3 623.3 224.6 622.6 225.4 622.3 225.4 622.0 224.6 622.0 223.3 623.2 218.8 623.2 218.3 624.0 213.2 624.5 211.9 625.0 211.1ZM637.6 213.3 638.0 214.0 638.3 215.1 638.4 217.5 638.0 218.6 637.6 219.4 637.2 219.4 636.8 218.6 636.4 217.5 636.4 215.1 636.8 214.0 637.2 213.3ZM607.8 219.4 608.7 220.4 609.5 222.0 610.1 225.5 609.9 227.1 609.5 228.2 608.9 228.2 608.0 227.1 607.3 225.5 606.6 222.0 606.8 220.4 607.2 219.4ZM628.2 221.0 628.7 222.1 629.0 223.7 628.8 227.2 628.3 228.8 627.7 229.9 627.2 229.9 626.7 228.8 626.4 227.2 626.6 223.7 627.1 222.1 627.7 221.0ZM555.5 223.2 555.7 224.0 555.7 225.2 554.8 230.2 554.6 231.0 553.6 235.1 553.1 236.3 552.6 237.0 552.3 237.0 552.1 236.3 552.2 235.1 553.1 231.0 553.3 230.2 554.2 225.2 554.7 224.0 555.2 223.2ZM631.9 229.3 632.4 230.2 632.7 231.5 632.2 234.3 631.6 235.6 630.8 236.5 630.3 236.5 629.8 235.6 629.5 234.3 629.9 231.5 630.6 230.2 631.4 229.3ZM592.7 234.3 593.2 235.1 593.7 236.2 594.4 239.8 594.9 242.8 594.9 244.0 594.7 244.8 594.4 244.8 594.0 244.0 593.6 242.8 593.0 239.8 592.3 236.2 592.3 235.1 592.4 234.3ZM619.6 235.9 619.8 236.5 619.9 237.4 619.9 239.4 619.8 240.3 619.6 240.9 619.4 240.9 619.2 240.3 619.0 239.4 619.0 237.4 619.2 236.5 619.4 235.9ZM591.3 243.1 591.7 243.5 592.0 244.1 592.2 245.5 592.0 246.0 591.6 246.4 591.3 246.4 590.9 246.0 590.6 245.5 590.5 244.1 590.7 243.5 591.0 243.1ZM621.5 245.1 621.6 245.8 621.7 246.8 621.4 249.1 621.0 250.2 620.7 250.9 620.5 250.9 620.3 250.2 620.3 249.1 620.6 246.8 620.9 245.8 621.2 245.1ZM588.3 249.2 588.8 250.1 589.2 251.4 589.5 255.3 589.3 256.6 588.9 257.5 588.5 257.5 588.1 256.6 587.7 255.3 587.4 251.4 587.6 250.1 588.0 249.2ZM625.7 249.2 625.8 250.0 625.7 251.2 624.8 255.1 624.8 255.3 623.7 258.9 623.1 260.1 622.6 260.8 622.3 260.8 622.2 260.1 622.4 258.9 623.5 255.3 623.5 255.1 624.4 251.2 624.9 250.0 625.4 249.2ZM596.5 251.7 596.7 251.8 596.9 252.0 596.9 252.4 596.7 252.6 596.5 252.7 596.4 252.7 596.2 252.6 596.0 252.4 596.0 252.0 596.2 251.8 596.4 251.7ZM597.7 254.7 597.9 255.2 598.1 255.9 598.2 257.4 598.1 258.1 597.9 258.6 597.7 258.6 597.5 258.1 597.3 257.4 597.2 255.9 597.3 255.2 597.5 254.7ZM574.2 253.1 574.5 253.7 574.6 254.7 574.3 257.0 574.0 257.9 573.6 258.6 573.3 258.6 573.1 257.9 573.0 257.0 573.2 254.7 573.6 253.7 574.0 253.1ZM598.5 260.3 598.8 261.0 599.1 262.1 599.5 264.5 599.4 265.6 599.3 266.4 599.1 266.4 598.8 265.6 598.5 264.5 598.2 262.1 598.2 261.0 598.4 260.3ZM617.4 262.5 617.6 263.3 617.7 264.5 617.3 268.7 617.2 270.0 616.9 273.0 616.6 274.2 616.3 275.0 616.0 275.0 615.8 274.2 615.7 273.0 616.0 270.0 616.1 268.7 616.5 264.5 616.8 263.3 617.1 262.5ZM578.8 264.1 579.3 265.3 579.7 267.1 579.6 270.0 579.5 272.0 578.9 273.8 578.2 275.0 577.6 275.0 577.1 273.8 576.7 272.0 576.9 270.0 577.0 267.1 577.6 265.3 578.3 264.1ZM635.3 264.1 636.1 265.4 636.7 267.4 636.9 270.0 637.1 271.7 636.7 273.7 636.1 275.0 635.5 275.0 634.6 273.7 634.0 271.7 633.8 270.0 633.7 267.4 634.1 265.4 634.7 264.1Z"/>
<path fill="#ffff00" d="M259.2 263.9 258.9 265.1 259.4 266.9 259.6 268.9 259.6 270.0 260.1 276.1 260.6 282.2 260.7 284.4 261.1 288.2 261.6 294.3 261.9 297.6 262.1 300.4 262.8 306.5 263.0 308.7 263.2 312.6 263.4 315.7 263.0 317.5 262.5 318.7 261.9 318.7 261.2 317.5 260.7 315.7 260.5 312.6 260.3 308.7 260.1 306.5 259.5 300.4 259.2 297.6 258.9 294.3 258.4 288.2 258.1 284.4 258.0 282.2 257.6 276.1 257.1 270.0 257.1 268.9 256.9 266.9 257.2 265.1 256.7 263.9ZM263.0 263.9 263.4 264.7 263.7 265.9 264.0 268.9 264.2 271.0 264.8 278.0 265.1 281.1 265.5 285.1 266.0 290.1 265.9 291.3 265.7 292.1 265.4 292.1 265.0 291.3 264.6 290.1 264.1 285.1 263.7 281.1 263.4 278.0 262.8 271.0 262.6 268.9 262.3 265.9 262.5 264.7 262.7 263.9ZM266.6 263.9 267.0 264.7 267.4 265.9 267.7 268.9 267.9 270.0 268.5 276.1 269.1 281.1 269.2 282.1 269.8 288.2 270.2 292.1 270.3 294.3 270.4 300.4 270.5 304.5 270.3 305.7 269.9 306.5 269.5 306.5 269.1 305.7 268.8 304.5 268.7 300.4 268.6 294.3 268.5 292.1 268.2 288.2 267.6 282.1 267.5 281.1 266.9 276.1 266.3 270.0 266.2 268.9 265.8 265.9 266.0 264.7 266.2 263.9ZM271.7 271.7 272.1 272.5 272.4 273.7 272.5 277.7 272.7 283.7 272.9 286.6 273.0 289.7 273.2 295.7 273.4 301.7 273.4 303.2 273.3 307.7 273.1 313.7 273.0 317.8 272.7 319.0 272.3 319.8 272.0 319.8 271.7 319.0 271.5 317.8 271.6 313.7 271.8 307.7 272.0 303.2 271.9 301.7 271.7 295.7 271.5 289.7 271.4 286.6 271.3 283.7 271.1 277.7 271.0 273.7 271.2 272.5 271.5 271.7ZM282.1 263.9 282.5 264.8 282.7 266.1 282.5 268.9 282.3 270.4 281.8 277.0 281.3 283.5 280.8 289.9 280.8 290.1 280.9 296.6 280.9 301.0 280.5 302.3 280.1 303.2 279.7 303.2 279.2 302.3 278.9 301.0 278.9 296.6 278.9 290.1 278.9 289.9 279.5 283.5 280.0 277.0 280.5 270.4 280.6 268.9 280.9 266.1 281.3 264.8 281.8 263.9ZM285.9 263.9 286.2 264.7 286.4 265.9 286.2 268.9 286.1 270.5 285.7 277.0 285.5 281.1 285.4 283.6 285.1 290.1 284.8 295.4 284.8 296.7 284.6 303.2 284.5 307.8 284.1 309.0 283.7 309.8 283.7 309.8 283.4 309.8 283.4 309.8 283.0 309.0 282.7 307.8 282.9 303.2 283.1 296.7 283.1 295.4 283.4 290.1 283.7 283.6 283.8 281.1 284.1 277.0 284.5 270.5 284.6 268.9 284.8 265.9 285.2 264.7 285.6 263.9ZM289.6 277.2 290.1 278.4 290.3 280.2 290.1 283.4 289.5 289.6 289.5 289.9 289.2 295.8 289.1 299.1 288.6 300.9 287.9 302.1 287.4 302.1 286.8 300.9 286.4 299.1 286.6 295.8 286.9 289.9 286.9 289.6 287.4 283.4 287.7 280.2 288.3 278.4 289.0 277.2ZM295.0 277.2 295.6 278.2 296.0 279.6 296.2 283.4 296.5 287.7 296.8 289.5 297.8 295.7 298.7 301.0 298.8 301.8 299.5 307.9 300.3 314.1 300.3 314.2 301.0 320.2 301.4 323.1 301.4 326.4 301.5 332.6 301.6 338.8 301.6 340.0 301.6 342.5 301.3 344.0 300.8 345.0 300.4 345.0 299.9 344.0 299.6 342.5 299.5 340.0 299.5 338.8 299.4 332.6 299.4 326.4 299.3 323.1 299.0 320.2 298.2 314.2 298.2 314.1 297.4 307.9 296.6 301.8 296.5 301.0 295.6 295.7 294.6 289.5 294.3 287.7 294.1 283.4 293.9 279.6 294.2 278.2 294.6 277.2ZM299.5 263.9 300.1 265.0 300.7 266.6 301.0 268.9 301.1 270.0 301.8 276.0 302.1 278.8 302.3 282.1 302.5 288.2 302.7 292.1 302.9 294.3 303.3 300.4 303.8 306.5 303.8 306.5 303.8 312.6 303.9 315.9 303.5 317.6 303.0 318.7 302.6 318.7 302.0 317.6 301.6 315.9 301.5 312.6 301.4 306.5 301.4 306.5 300.9 300.4 300.4 294.3 300.2 292.1 300.1 288.2 299.8 282.1 299.7 278.8 299.4 276.0 298.7 270.0 298.6 268.9 298.4 266.6 298.6 265.0 299.0 263.9ZM304.8 263.9 305.3 264.8 305.6 266.1 305.7 268.9 305.8 270.3 306.0 276.6 306.3 283.0 306.3 284.4 306.6 289.3 306.8 295.7 307.0 299.9 306.7 301.2 306.3 302.1 305.9 302.1 305.4 301.2 305.0 299.9 304.8 295.7 304.5 289.3 304.3 284.4 304.3 283.0 304.1 276.6 303.9 270.3 303.8 268.9 303.7 266.1 304.0 264.8 304.4 263.9ZM315.4 275.3 315.8 275.5 316.0 275.8 316.0 276.4 315.8 276.6 315.4 276.8 315.1 276.8 314.8 276.6 314.5 276.4 314.5 275.8 314.8 275.5 315.1 275.3ZM319.3 271.7 319.7 272.5 320.0 273.7 319.7 278.8 319.5 284.4 319.4 286.0 319.1 293.2 318.9 297.6 318.7 300.4 318.4 305.6 318.1 306.8 317.7 307.6 317.3 307.6 317.0 306.8 316.8 305.6 317.1 300.4 317.2 297.6 317.4 293.2 317.6 286.0 317.7 284.4 318.0 278.8 318.2 273.7 318.5 272.5 319.0 271.7ZM314.9 282.2 315.2 283.0 315.4 284.2 315.3 288.4 315.0 294.6 314.9 297.6 314.8 300.8 314.6 307.0 314.3 313.3 314.3 314.2 314.1 319.5 313.9 325.7 313.8 329.9 313.5 331.1 313.2 331.9 312.9 331.9 312.7 331.1 312.5 329.9 312.6 325.7 312.8 319.5 313.0 314.2 313.0 313.3 313.2 307.0 313.4 300.8 313.4 297.6 313.5 294.6 313.7 288.4 313.9 284.2 314.2 283.0 314.6 282.2ZM323.6 280.5 324.0 281.4 324.4 282.7 324.2 288.0 324.1 293.3 323.7 294.6 323.2 295.4 322.8 295.4 322.4 294.6 322.1 293.3 322.2 288.0 322.3 282.7 322.7 281.4 323.2 280.5ZM334.6 263.9 335.3 265.3 335.8 267.4 335.8 268.9 335.7 270.0 335.5 276.1 335.5 278.8 335.5 282.2 335.5 284.7 334.9 286.8 334.1 288.2 333.4 288.2 332.6 286.8 332.1 284.7 332.1 282.2 332.1 278.8 332.2 276.1 332.4 270.0 332.4 268.9 332.5 267.4 333.1 265.3 333.9 263.9ZM335.7 275.0 335.9 275.8 336.1 277.0 335.8 281.5 335.5 287.7 335.5 288.0 335.5 294.5 335.5 299.0 335.3 300.2 335.0 301.0 334.7 301.0 334.5 300.2 334.3 299.0 334.2 294.5 334.2 288.0 334.2 287.7 334.5 281.5 334.8 277.0 335.1 275.8 335.4 275.0ZM340.1 263.9 340.5 264.7 340.8 265.9 340.8 268.9 340.8 270.2 340.5 271.4 340.1 272.2 339.8 272.2 339.4 271.4 339.1 270.2 339.1 268.9 339.1 265.9 339.4 264.7 339.8 263.9ZM343.6 271.1 343.9 271.5 344.1 272.1 344.1 273.4 343.9 274.0 343.6 274.4 343.4 274.4 343.1 274.0 342.9 273.4 342.9 272.1 343.1 271.5 343.4 271.1ZM353.0 263.9 354.0 265.5 354.7 268.0 354.8 268.9 354.8 270.1 355.1 276.3 355.3 281.1 355.4 282.5 355.6 288.7 355.7 290.8 355.2 293.2 354.4 294.9 354.4 294.9 353.6 294.9 353.6 294.9 352.7 293.2 352.0 290.8 351.9 288.7 351.6 282.5 351.6 281.1 351.4 276.3 351.1 270.1 351.0 268.9 351.0 268.0 351.5 265.5 352.3 263.9ZM337.9 289.4 338.2 290.2 338.4 291.4 338.6 295.7 338.8 302.1 338.8 303.2 339.1 308.4 339.5 314.8 339.6 316.4 339.8 321.1 340.1 325.5 339.9 326.7 339.7 327.5 339.5 327.5 339.2 326.7 339.0 325.5 338.8 321.1 338.5 316.4 338.4 314.8 338.0 308.4 337.6 303.2 337.6 302.1 337.3 295.7 337.2 291.4 337.3 290.2 337.6 289.4ZM321.7 300.4 322.3 301.9 322.7 304.2 322.4 306.4 321.8 312.0 321.8 312.4 321.2 318.4 320.7 324.4 320.6 325.3 321.2 330.4 321.4 332.6 321.1 334.8 320.6 336.4 320.0 336.4 319.1 334.8 318.4 332.6 318.2 330.4 317.7 325.3 317.8 324.4 318.2 318.4 318.7 312.4 318.7 312.0 319.2 306.4 319.4 304.2 320.1 301.9 321.0 300.4ZM292.9 309.3 293.7 310.6 294.4 312.5 294.8 316.4 295.1 319.8 295.1 323.5 295.1 330.7 295.1 334.1 294.8 337.8 294.6 340.0 294.4 341.7 293.7 343.7 293.0 345.0 292.4 345.0 291.9 343.7 291.6 341.7 291.8 340.0 292.0 337.8 292.3 334.1 292.3 330.7 292.3 323.5 292.3 319.8 291.9 316.4 291.5 312.5 291.8 310.6 292.3 309.3ZM308.8 308.2 309.1 309.0 309.3 310.2 309.3 314.3 309.3 320.4 309.3 323.1 309.2 326.6 309.0 332.7 308.8 338.9 308.8 340.0 308.7 343.0 308.4 344.2 308.1 345.0 307.8 345.0 307.5 344.2 307.3 343.0 307.4 340.0 307.5 338.9 307.7 332.7 307.9 326.6 308.0 323.1 308.0 320.4 308.0 314.3 308.0 310.2 308.2 309.0 308.5 308.2ZM311.6 313.1 311.9 313.9 312.1 315.1 312.1 319.5 312.1 325.9 312.1 327.5 311.9 332.3 311.6 338.6 311.5 340.0 311.4 343.0 311.1 344.2 310.8 345.0 310.5 345.0 310.2 344.2 310.1 343.0 310.2 340.0 310.3 338.6 310.5 332.3 310.8 327.5 310.8 325.9 310.8 319.5 310.7 315.1 311.0 313.9 311.3 313.1ZM326.8 308.2 327.1 309.0 327.3 310.2 327.2 316.7 327.0 323.3 326.8 324.5 326.5 325.3 326.2 325.3 326.0 324.5 325.8 323.3 325.9 316.7 326.0 310.2 326.2 309.0 326.5 308.2ZM326.8 329.2 327.0 329.8 327.2 330.7 327.2 332.6 327.0 333.5 326.8 334.1 326.6 334.1 326.3 333.5 326.2 332.6 326.2 330.7 326.3 329.8 326.6 329.2ZM343.6 307.0 343.9 307.8 344.1 309.0 344.1 314.2 344.1 319.4 343.9 320.6 343.6 321.4 343.4 321.4 343.1 320.6 342.9 319.4 342.9 314.2 342.9 309.0 343.1 307.8 343.4 307.0ZM347.8 313.1 348.2 313.9 348.4 315.1 348.5 319.5 348.6 325.3 348.6 325.9 348.3 332.3 348.1 338.6 348.1 340.0 347.9 343.0 347.7 344.2 347.3 345.0 347.0 345.0 346.8 344.2 346.6 343.0 346.7 340.0 346.7 338.6 347.0 332.3 347.2 325.9 347.2 325.3 347.1 319.5 347.0 315.1 347.3 313.9 347.6 313.1ZM347.3 327.5 347.8 328.7 348.2 330.5 348.0 336.3 347.8 340.0 347.8 342.0 347.3 343.8 346.7 345.0 346.2 345.0 345.6 343.8 345.3 342.0 345.3 340.0 345.5 336.3 345.7 330.5 346.2 328.7 346.8 327.5ZM278.6 309.3 278.9 310.1 279.1 311.3 279.1 317.3 279.1 323.3 278.9 324.5 278.6 325.3 278.3 325.3 278.0 324.5 277.8 323.3 277.8 317.3 277.8 311.3 278.0 310.1 278.3 309.3ZM276.4 313.1 276.6 313.9 276.9 315.1 276.9 319.4 276.9 325.7 276.9 329.9 276.6 331.1 276.4 331.9 276.1 331.9 275.8 331.1 275.6 329.9 275.6 325.7 275.6 319.4 275.6 315.1 275.8 313.9 276.1 313.1ZM269.7 310.4 270.0 311.2 270.3 312.4 270.5 317.8 270.3 319.0 270.1 319.8 269.8 319.8 269.5 319.0 269.2 317.8 269.1 312.4 269.2 311.2 269.5 310.4ZM281.8 320.3 282.4 321.4 282.8 323.0 282.8 326.5 282.8 332.7 282.8 334.1 282.3 338.8 282.2 340.0 282.0 342.3 281.4 343.9 280.8 345.0 280.3 345.0 279.8 343.9 279.6 342.3 279.8 340.0 279.9 338.8 280.3 334.1 280.3 332.7 280.3 326.5 280.3 323.0 280.7 321.4 281.3 320.3ZM267.9 321.4 268.5 322.4 268.9 323.9 269.0 328.9 269.1 333.9 268.8 335.4 268.3 336.4 267.8 336.4 267.3 335.4 266.9 333.9 266.8 328.9 266.6 323.9 267.0 322.4 267.5 321.4ZM272.9 322.0 273.3 322.8 273.6 324.0 273.6 329.6 273.6 337.3 273.5 340.0 273.5 343.0 273.3 344.2 272.9 345.0 272.5 345.0 272.1 344.2 271.9 343.0 271.9 340.0 271.8 337.3 271.8 329.6 271.8 324.0 272.1 322.8 272.5 322.0ZM259.8 324.2 260.7 325.8 261.4 328.3 261.5 331.1 261.7 338.1 261.8 340.0 261.8 340.9 261.3 343.4 260.5 345.0 259.8 345.0 258.9 343.4 258.2 340.9 258.2 340.0 258.1 338.1 257.8 331.1 257.7 328.3 258.2 325.8 259.0 324.2ZM274.5 330.3 274.7 331.1 274.9 332.3 275.1 337.6 275.2 340.0 275.3 343.0 275.2 344.2 275.0 345.0 274.8 345.0 274.5 344.2 274.3 343.0 274.2 340.0 274.1 337.6 273.9 332.3 274.1 331.1 274.3 330.3ZM304.4 318.7 304.8 319.5 305.1 320.7 305.2 325.2 305.4 331.8 305.5 338.4 305.6 340.0 305.6 343.0 305.4 344.2 305.1 345.0 304.8 345.0 304.4 344.2 304.1 343.0 304.0 340.0 303.9 338.4 303.8 331.8 303.6 325.2 303.5 320.7 303.7 319.5 304.1 318.7ZM314.9 329.7 315.3 330.5 315.6 331.7 315.9 337.4 316.1 340.0 316.2 343.0 316.0 344.2 315.7 345.0 315.4 345.0 315.0 344.2 314.7 343.0 314.5 340.0 314.4 337.4 314.1 331.7 314.3 330.5 314.6 329.7ZM321.5 331.9 321.8 332.7 322.1 333.9 321.9 338.5 321.9 340.0 321.8 343.0 321.5 344.2 321.2 345.0 320.9 345.0 320.5 344.2 320.3 343.0 320.4 340.0 320.4 338.5 320.6 333.9 320.9 332.7 321.2 331.9ZM333.6 334.1 333.8 334.9 334.0 336.1 334.0 340.0 334.0 343.0 333.8 344.2 333.6 345.0 333.5 345.0 333.3 344.2 333.1 343.0 333.1 340.0 333.1 336.1 333.3 334.9 333.5 334.1ZM340.3 314.2 340.6 315.0 340.7 316.2 340.8 320.4 340.8 326.5 340.9 332.7 340.9 338.8 340.9 340.0 341.0 343.0 340.8 344.2 340.6 345.0 340.3 345.0 340.1 344.2 339.9 343.0 339.8 340.0 339.8 338.8 339.8 332.7 339.7 326.5 339.7 320.4 339.6 316.2 339.8 315.0 340.1 314.2ZM354.2 323.1 354.6 324.0 354.9 325.3 354.9 330.4 354.9 337.7 354.9 340.0 354.9 342.8 354.6 344.1 354.2 345.0 353.8 345.0 353.4 344.1 353.1 342.8 353.1 340.0 353.1 337.7 353.1 330.4 353.1 325.3 353.4 324.0 353.8 323.1ZM287.2 336.4 287.6 337.2 287.8 338.4 287.8 340.0 287.8 343.0 287.5 344.2 287.2 345.0 286.9 345.0 286.6 344.2 286.4 343.0 286.4 340.0 286.4 338.4 286.6 337.2 286.9 336.4Z"/>
<path fill="#ffff00" d="M359.3 263.9 360.4 265.5 361.2 268.0 361.3 268.9 361.4 270.2 362.0 276.6 362.4 281.1 362.5 282.9 362.9 289.2 363.4 295.5 363.5 297.6 363.8 301.9 364.2 308.2 364.6 314.2 364.6 314.6 364.8 320.9 365.0 327.2 365.0 329.5 364.5 332.0 363.7 333.6 362.9 333.6 362.0 332.0 361.3 329.5 361.2 327.2 361.1 320.9 360.9 314.6 360.9 314.2 360.5 308.2 360.1 301.9 359.8 297.6 359.6 295.5 359.2 289.2 358.8 282.9 358.7 281.1 358.3 276.6 357.7 270.2 357.6 268.9 357.5 268.0 357.9 265.5 358.6 263.9ZM364.8 263.9 365.2 264.7 365.6 265.9 365.8 268.9 365.9 270.3 366.2 274.6 366.0 275.8 365.7 276.6 365.3 276.6 364.9 275.8 364.5 274.6 364.2 270.3 364.1 268.9 363.9 265.9 364.1 264.7 364.4 263.9ZM366.2 276.6 366.4 277.4 366.6 278.6 366.6 282.9 366.6 289.2 366.6 295.4 366.6 301.7 366.6 307.6 367.0 307.6 367.2 307.6 367.2 313.7 367.3 319.9 367.4 326.2 367.4 332.5 367.5 338.7 367.5 340.0 367.5 343.0 367.4 344.2 367.1 345.0 366.9 345.0 366.6 344.2 366.4 343.0 366.4 340.0 366.4 338.7 366.3 332.5 366.2 326.2 366.2 319.9 366.1 313.7 366.1 307.6 365.9 307.6 365.5 307.6 365.5 301.7 365.5 295.4 365.5 289.2 365.5 282.9 365.5 278.6 365.7 277.4 366.0 276.6ZM368.6 273.3 369.4 274.7 370.1 276.8 370.4 279.8 370.7 284.4 370.8 286.3 370.9 292.8 371.0 299.4 371.0 303.2 371.0 305.9 371.0 312.4 371.1 318.9 371.1 319.8 371.2 325.4 371.4 332.0 371.6 338.5 371.6 340.0 371.6 341.5 371.1 343.6 370.4 345.0 369.7 345.0 368.9 343.6 368.3 341.5 368.3 340.0 368.2 338.5 368.0 332.0 367.9 325.4 367.7 319.8 367.7 318.9 367.7 312.4 367.7 305.9 367.8 303.2 367.7 299.4 367.7 292.8 367.6 286.3 367.6 284.4 367.2 279.8 367.0 276.8 367.3 274.7 368.0 273.3ZM374.7 271.1 374.9 271.8 375.1 272.8 375.1 275.0 374.9 276.0 374.7 276.6 374.5 276.6 374.3 276.0 374.1 275.0 374.1 272.8 374.3 271.8 374.5 271.1ZM381.2 263.9 382.0 265.5 382.5 268.0 382.5 268.9 382.5 270.0 382.3 276.1 382.2 276.6 382.3 278.1 381.8 280.5 381.0 282.2 380.3 282.2 379.4 280.5 378.7 278.1 378.6 276.6 378.7 276.1 378.8 270.0 378.8 268.9 378.9 268.0 379.5 265.5 380.4 263.9ZM388.3 263.9 389.0 265.2 389.6 267.2 389.6 268.9 389.7 270.6 390.0 277.4 390.2 281.1 390.4 284.1 390.9 290.8 391.0 292.1 391.2 297.5 391.3 301.0 390.8 303.0 390.1 304.3 389.5 304.3 388.8 303.0 388.3 301.0 388.2 297.5 388.0 292.1 388.0 290.8 387.5 284.1 387.3 281.1 387.1 277.4 386.8 270.6 386.7 268.9 386.6 267.2 387.0 265.2 387.7 263.9ZM397.2 271.1 397.6 271.9 397.9 273.1 398.1 279.1 397.8 280.3 397.4 281.1 397.1 281.1 396.7 280.3 396.3 279.1 396.2 273.1 396.5 271.9 396.9 271.1ZM403.6 263.9 404.3 265.2 404.9 267.2 404.9 268.9 405.0 271.8 405.2 278.8 405.2 279.8 405.3 284.4 404.9 286.4 404.2 287.7 403.6 287.7 402.9 286.4 402.3 284.4 402.2 279.8 402.2 278.8 402.0 271.8 402.0 268.9 402.0 267.2 402.4 265.2 403.0 263.9ZM412.0 263.9 412.8 265.6 413.4 268.3 413.4 268.9 413.3 270.8 413.0 277.7 412.9 281.1 412.7 284.6 412.6 287.2 411.8 289.8 410.7 291.6 409.9 291.6 409.0 289.8 408.5 287.2 408.6 284.6 408.8 281.1 409.0 277.7 409.4 270.8 409.5 268.9 409.5 268.3 410.3 265.6 411.3 263.9ZM423.8 263.9 424.4 265.3 424.7 267.4 424.6 268.9 424.5 270.1 424.0 276.4 423.6 281.1 423.5 282.6 423.1 288.8 422.6 295.1 422.5 297.6 422.2 301.3 421.7 307.6 421.2 313.8 421.2 314.2 420.7 320.1 420.2 326.3 420.1 327.5 419.7 332.5 419.2 338.7 419.1 340.0 418.9 341.5 418.2 343.6 417.4 345.0 416.7 345.0 416.1 343.6 415.8 341.5 415.9 340.0 416.1 338.7 416.7 332.5 417.1 327.5 417.2 326.3 417.8 320.1 418.2 314.2 418.2 313.8 418.6 307.6 419.0 301.3 419.2 297.6 419.3 295.1 419.7 288.8 420.1 282.6 420.2 281.1 420.7 276.4 421.3 270.1 421.4 268.9 421.6 267.4 422.3 265.3 423.2 263.9ZM429.1 263.9 429.5 264.8 429.9 266.1 429.9 268.9 429.9 271.1 429.6 272.4 429.1 273.3 428.7 273.3 428.2 272.4 427.9 271.1 427.9 268.9 427.9 266.1 428.3 264.8 428.7 263.9ZM441.0 262.8 443.0 264.9 444.3 267.8 444.4 268.1 444.5 271.6 444.6 275.2 443.1 278.4 441.1 280.5 439.3 280.5 437.2 278.4 435.8 275.2 435.8 271.6 435.9 268.1 436.0 267.8 437.4 264.9 439.3 262.8ZM435.5 280.0 436.1 281.3 436.5 283.2 436.2 286.4 435.7 292.1 435.6 292.8 434.8 299.2 434.0 305.6 433.9 306.5 433.3 312.0 432.7 318.5 432.6 319.8 432.6 324.9 432.6 328.1 432.2 330.1 431.6 331.4 431.1 331.4 430.5 330.1 430.0 328.1 430.1 324.9 430.1 319.8 430.1 318.5 430.6 312.0 431.0 306.5 431.1 305.6 431.8 299.2 432.5 292.8 432.5 292.1 433.0 286.4 433.3 283.2 434.0 281.3 434.9 280.0ZM427.6 277.2 428.0 278.0 428.2 279.2 427.9 284.3 427.3 291.4 427.3 292.1 426.5 298.4 425.7 305.4 425.7 305.5 425.4 310.6 425.0 311.8 424.6 312.6 424.3 312.6 424.0 311.8 423.8 310.6 424.1 305.5 424.1 305.4 424.8 298.4 425.4 292.1 425.5 291.4 426.0 284.3 426.4 279.2 426.8 278.0 427.3 277.2ZM377.8 282.2 378.1 283.0 378.2 284.2 378.1 288.2 378.0 294.2 377.8 300.2 377.8 303.2 377.7 306.3 377.5 312.3 377.4 318.3 377.2 323.1 377.2 324.3 376.9 330.3 376.8 334.4 376.5 335.6 376.1 336.4 375.9 336.4 375.6 335.6 375.4 334.4 375.6 330.3 375.8 324.3 375.9 323.1 376.0 318.3 376.2 312.3 376.4 306.3 376.5 303.2 376.6 300.2 376.7 294.2 376.9 288.2 377.0 284.2 377.3 283.0 377.6 282.2ZM373.7 289.4 373.9 290.2 374.0 291.4 374.0 296.1 373.9 302.8 373.8 309.5 373.8 314.2 373.7 316.2 373.6 322.9 373.4 329.6 373.3 334.4 373.1 335.6 372.8 336.4 372.6 336.4 372.4 335.6 372.2 334.4 372.3 329.6 372.5 322.9 372.7 316.2 372.7 314.2 372.8 309.5 372.9 302.8 373.0 296.1 373.1 291.4 373.3 290.2 373.5 289.4ZM385.0 282.2 385.9 283.8 386.6 286.2 386.7 288.5 386.9 292.1 386.7 294.8 386.3 301.0 386.2 303.2 386.3 307.3 386.5 313.6 386.6 316.4 387.1 319.9 388.0 326.1 388.5 329.7 388.6 332.4 389.0 338.7 389.0 340.0 389.1 340.9 388.6 343.4 387.7 345.0 387.7 345.0 387.0 345.0 387.0 345.0 386.0 343.4 385.2 340.9 385.1 340.0 385.0 338.7 384.7 332.4 384.5 329.7 384.0 326.1 383.1 319.9 382.7 316.4 382.6 313.6 382.5 307.3 382.4 303.2 382.6 301.0 383.1 294.8 383.3 292.1 383.1 288.5 383.0 286.2 383.5 283.8 384.3 282.2ZM392.8 287.1 393.4 288.0 393.9 289.3 394.4 292.7 394.2 294.0 393.9 294.9 393.5 294.9 392.9 294.0 392.4 292.7 391.9 289.3 392.1 288.0 392.4 287.1ZM395.1 294.3 396.5 296.4 397.7 299.5 398.0 301.5 398.3 303.2 398.6 308.7 398.9 314.2 398.8 315.9 398.6 317.9 397.6 321.0 396.4 323.1 395.4 323.1 394.5 321.0 393.9 317.9 394.0 315.9 394.1 314.2 393.8 308.7 393.6 303.2 393.3 301.5 393.0 299.5 393.3 296.4 394.1 294.3ZM401.6 291.0 401.9 291.8 402.0 293.0 401.9 297.0 401.8 303.0 401.7 309.0 401.5 314.2 401.5 315.0 401.3 321.0 401.1 327.0 401.0 333.0 400.8 339.0 400.8 340.0 400.7 343.0 400.4 344.2 400.1 345.0 399.9 345.0 399.6 344.2 399.4 343.0 399.5 340.0 399.5 339.0 399.7 333.0 399.9 327.0 400.1 321.0 400.3 315.0 400.3 314.2 400.4 309.0 400.6 303.0 400.7 297.0 400.8 293.0 401.0 291.8 401.3 291.0ZM407.3 284.4 407.9 285.7 408.3 287.6 408.1 291.2 407.6 297.6 407.6 297.9 407.5 304.7 407.4 311.5 407.3 314.2 407.2 318.3 407.0 325.1 406.9 328.7 406.3 330.6 405.6 331.9 405.0 331.9 404.4 330.6 404.0 328.7 404.1 325.1 404.3 318.3 404.4 314.2 404.5 311.5 404.5 304.7 404.6 297.9 404.6 297.6 405.0 291.2 405.2 287.6 405.9 285.7 406.7 284.4ZM414.7 298.2 415.2 299.2 415.5 300.6 415.2 304.9 414.8 311.6 414.7 314.2 414.5 318.2 414.2 324.9 413.9 331.6 413.7 338.3 413.6 340.0 413.5 342.5 413.1 344.0 412.5 345.0 412.1 345.0 411.6 344.0 411.3 342.5 411.4 340.0 411.5 338.3 411.8 331.6 412.1 324.9 412.4 318.2 412.6 314.2 412.7 311.6 413.0 304.9 413.3 300.6 413.7 299.2 414.3 298.2ZM412.3 323.1 413.1 324.6 413.7 326.9 413.9 330.4 414.1 337.7 414.2 340.0 414.3 341.2 413.8 343.5 413.0 345.0 412.3 345.0 411.5 343.5 410.8 341.2 410.8 340.0 410.8 337.7 410.6 330.4 410.5 326.9 410.9 324.6 411.6 323.1ZM357.0 301.5 357.9 303.2 358.7 305.6 358.8 308.2 359.0 314.2 359.1 314.8 359.3 321.5 359.6 327.5 359.7 328.1 360.1 330.7 359.8 333.1 359.2 334.7 358.5 334.7 357.4 333.1 356.4 330.7 356.1 328.1 356.0 327.5 355.7 321.5 355.4 314.8 355.4 314.2 355.1 308.2 355.0 305.6 355.5 303.2 356.3 301.5ZM440.9 303.2 441.3 304.0 441.5 305.2 441.4 310.1 441.2 317.1 441.2 319.8 441.1 324.1 441.1 331.1 441.0 338.0 441.0 340.0 441.0 343.0 440.7 344.2 440.3 345.0 440.0 345.0 439.6 344.2 439.3 343.0 439.4 340.0 439.4 338.0 439.5 331.1 439.6 324.1 439.6 319.8 439.7 317.1 439.8 310.1 439.9 305.2 440.2 304.0 440.6 303.2ZM440.4 323.1 441.0 324.4 441.5 326.4 441.5 330.4 441.6 337.7 441.6 340.0 441.6 341.7 441.1 343.7 440.5 345.0 439.9 345.0 439.2 343.7 438.8 341.7 438.8 340.0 438.8 337.7 438.9 330.4 438.9 326.4 439.3 324.4 439.9 323.1ZM452.8 300.4 453.8 301.8 454.5 303.9 454.5 308.5 453.7 310.6 452.8 312.0 451.9 312.0 451.0 310.6 450.2 308.5 450.2 303.9 450.9 301.8 451.9 300.4ZM454.3 312.0 455.1 313.7 455.7 316.1 455.7 318.6 455.6 325.2 455.7 331.8 455.7 338.4 455.7 340.0 455.8 340.9 455.2 343.4 454.4 345.0 453.6 345.0 452.8 343.4 452.3 340.9 452.3 340.0 452.3 338.4 452.3 331.8 452.4 325.2 452.3 318.6 452.3 316.1 452.9 313.7 453.7 312.0ZM390.7 312.0 391.0 312.8 391.1 314.0 391.1 317.8 391.0 319.0 390.7 319.8 390.5 319.8 390.3 319.0 390.1 317.8 390.1 314.0 390.3 312.8 390.5 312.0ZM393.3 315.3 393.5 316.1 393.7 317.3 393.7 323.6 393.7 329.9 393.5 331.1 393.3 331.9 393.1 331.9 392.8 331.1 392.7 329.9 392.7 323.6 392.7 317.3 392.8 316.1 393.1 315.3ZM381.7 320.9 382.0 321.7 382.2 322.9 382.2 328.3 382.0 329.5 381.7 330.3 381.4 330.3 381.1 329.5 380.9 328.3 380.9 322.9 381.1 321.7 381.4 320.9ZM396.7 322.5 397.1 323.3 397.4 324.5 397.5 330.0 397.7 337.5 397.7 340.0 397.8 343.0 397.5 344.2 397.1 345.0 396.7 345.0 396.3 344.2 396.0 343.0 395.9 340.0 395.9 337.5 395.7 330.0 395.6 324.5 395.9 323.3 396.3 322.5ZM427.8 314.2 428.5 315.9 428.9 318.3 428.7 320.4 428.5 325.3 428.5 326.5 428.3 332.7 428.1 338.8 428.1 340.0 428.1 340.9 427.4 343.4 426.5 345.0 425.8 345.0 425.0 343.4 424.5 340.9 424.6 340.0 424.6 338.8 424.9 332.7 425.2 326.5 425.3 325.3 425.6 320.4 425.6 318.3 426.3 315.9 427.1 314.2ZM422.8 332.5 423.3 333.8 423.6 335.7 423.4 338.7 423.3 340.0 423.2 341.7 422.6 343.7 421.9 345.0 421.3 345.0 420.7 343.7 420.4 341.7 420.5 340.0 420.6 338.7 420.8 335.7 421.5 333.8 422.2 332.5ZM406.9 331.9 407.7 333.5 408.0 335.8 407.5 338.4 407.1 340.0 406.9 341.0 405.7 343.3 404.3 344.9 403.3 344.9 402.5 343.3 402.2 341.0 402.4 340.0 402.7 338.4 403.3 335.8 404.6 333.5 406.0 331.9ZM378.7 335.2 379.8 336.4 380.4 338.2 380.2 340.0 379.9 342.1 378.9 343.8 377.6 345.0 376.6 345.0 375.6 343.8 374.9 342.1 375.2 340.0 375.4 338.2 376.4 336.4 377.7 335.2ZM356.2 334.1 356.6 334.9 356.8 336.1 356.8 340.0 356.8 343.0 356.6 344.2 356.2 345.0 356.0 345.0 355.6 344.2 355.4 343.0 355.4 340.0 355.4 336.1 355.6 334.9 356.0 334.1ZM375.6 324.2 376.0 325.0 376.3 326.2 376.3 333.2 376.0 334.4 375.6 335.2 375.3 335.2 374.9 334.4 374.7 333.2 374.7 326.2 374.9 325.0 375.3 324.2ZM372.9 323.1 373.3 323.9 373.6 325.1 373.6 329.2 373.6 333.2 373.3 334.4 372.9 335.2 372.5 335.2 372.1 334.4 371.8 333.2 371.8 329.2 371.8 325.1 372.1 323.9 372.5 323.1Z"/>
<path fill="#ffff00" d="M456.7 272.2 458.6 274.7 460.4 278.2 460.4 278.3 461.8 284.2 462.4 286.6 462.9 290.2 463.8 296.3 464.5 301.0 464.6 302.3 465.3 308.4 465.9 314.2 466.0 314.5 466.6 320.6 467.4 326.7 467.5 327.5 468.0 332.8 468.6 338.7 468.6 338.9 468.5 340.0 468.1 342.5 467.0 345.0 466.0 345.0 464.5 342.5 463.7 340.0 463.3 338.9 463.3 338.7 462.8 332.8 462.4 327.5 462.3 326.7 461.5 320.6 460.7 314.5 460.7 314.2 459.9 308.4 459.0 302.3 458.8 301.0 458.0 296.3 457.0 290.2 456.4 286.6 455.9 284.2 454.6 278.3 454.6 278.2 454.8 274.7 455.5 272.2ZM461.8 276.1 462.3 276.9 462.8 278.1 463.3 281.3 463.2 282.5 462.9 283.3 462.6 283.3 462.0 282.5 461.5 281.3 461.1 278.1 461.2 276.9 461.5 276.1ZM466.5 263.9 466.9 264.7 467.3 265.9 467.5 268.9 467.5 270.1 467.9 276.4 468.0 278.8 468.4 282.6 468.9 288.8 469.2 292.1 469.4 295.1 469.8 301.3 470.2 306.5 470.2 307.5 470.4 313.8 470.6 320.0 470.7 323.1 470.8 326.3 471.0 332.5 471.3 338.8 471.3 340.0 471.4 343.0 471.2 344.2 470.8 345.0 470.5 345.0 470.1 344.2 469.8 343.0 469.7 340.0 469.6 338.8 469.4 332.5 469.3 326.3 469.2 323.1 469.0 320.0 468.8 313.8 468.6 307.5 468.5 306.5 468.1 301.3 467.6 295.1 467.4 292.1 467.1 288.8 466.6 282.6 466.3 278.8 466.2 276.4 465.8 270.1 465.8 268.9 465.6 265.9 465.8 264.7 466.2 263.9ZM471.5 280.5 471.8 281.3 472.1 282.5 472.2 287.0 472.3 293.4 472.4 297.6 472.5 299.9 472.8 306.3 473.1 312.7 473.3 316.4 473.3 319.2 473.5 325.6 473.6 332.1 473.8 338.5 473.8 340.0 473.9 343.0 473.7 344.2 473.5 345.0 473.3 345.0 473.0 344.2 472.7 343.0 472.7 340.0 472.6 338.5 472.5 332.1 472.4 325.6 472.2 319.2 472.1 316.4 471.9 312.7 471.6 306.3 471.3 299.9 471.2 297.6 471.1 293.4 470.9 287.0 470.8 282.5 471.0 281.3 471.2 280.5ZM479.5 282.2 479.8 283.0 480.0 284.2 479.9 288.4 479.8 294.7 479.6 301.0 479.5 303.2 479.4 307.3 479.3 313.6 479.2 319.9 479.1 323.1 479.1 326.1 479.0 332.4 478.9 338.7 478.9 340.0 478.9 343.0 478.6 344.2 478.3 345.0 478.3 345.0 478.0 345.0 478.0 345.0 477.7 344.2 477.5 343.0 477.5 340.0 477.6 338.7 477.6 332.4 477.7 326.1 477.8 323.1 477.8 319.9 477.9 313.6 478.0 307.3 478.1 303.2 478.1 301.0 478.3 294.7 478.4 288.4 478.5 284.2 478.8 283.0 479.2 282.2ZM484.3 263.9 484.7 264.8 485.0 266.1 484.9 268.9 484.9 270.1 484.8 276.4 484.6 282.7 484.6 286.6 484.4 288.9 484.1 295.2 483.7 301.4 483.6 303.2 483.4 307.6 483.2 313.9 483.0 317.6 482.9 320.1 482.8 324.2 482.4 325.5 482.0 326.4 481.6 326.4 481.2 325.5 480.9 324.2 481.1 320.1 481.2 317.6 481.3 313.9 481.5 307.6 481.7 303.2 481.8 301.4 482.1 295.2 482.4 288.9 482.5 286.6 482.6 282.7 482.8 276.4 483.0 270.1 483.0 268.9 483.1 266.1 483.5 264.8 483.9 263.9ZM487.8 265.0 488.0 265.8 488.2 267.0 488.2 270.0 488.2 273.5 488.0 274.7 487.8 275.5 487.5 275.5 487.2 274.7 487.0 273.5 487.0 270.0 487.0 267.0 487.2 265.8 487.5 265.0ZM486.6 278.3 486.9 278.7 487.0 279.3 487.0 280.6 486.9 281.2 486.6 281.6 486.4 281.6 486.2 281.2 486.0 280.6 486.0 279.3 486.2 278.7 486.4 278.3ZM494.7 263.9 495.3 265.4 495.5 267.7 495.4 268.9 495.3 269.9 494.5 275.9 494.3 277.7 493.6 281.8 492.7 286.6 492.6 287.8 491.9 293.8 491.6 296.5 491.2 299.7 490.5 305.7 490.4 306.5 489.9 311.7 489.4 317.7 489.3 318.7 488.7 323.7 488.5 325.9 487.8 328.2 486.9 329.7 486.2 329.7 485.6 328.2 485.3 325.9 485.5 323.7 486.0 318.7 486.1 317.7 486.6 311.7 487.1 306.5 487.1 305.7 487.8 299.7 488.1 296.5 488.4 293.8 489.1 287.8 489.2 286.6 490.1 281.8 490.9 277.7 491.1 275.9 491.9 269.9 492.0 268.9 492.2 267.7 493.0 265.4 494.0 263.9ZM501.0 263.9 501.5 264.8 502.0 266.1 502.2 268.9 502.3 270.1 502.8 276.4 503.0 278.8 503.4 282.6 504.0 288.8 504.1 289.9 504.6 295.1 505.2 301.0 505.2 301.3 505.7 307.5 506.3 313.8 506.3 314.2 506.8 320.0 507.3 326.2 507.4 327.5 507.6 332.5 507.9 338.7 507.9 340.0 508.1 342.8 507.8 344.1 507.4 345.0 507.4 345.0 507.0 345.0 507.0 345.0 506.5 344.1 506.2 342.8 506.0 340.0 506.0 338.7 505.7 332.5 505.5 327.5 505.4 326.2 504.8 320.0 504.4 314.2 504.3 313.8 503.8 307.5 503.3 301.3 503.3 301.0 502.7 295.1 502.1 289.9 502.0 288.8 501.4 282.6 501.0 278.8 500.9 276.4 500.4 270.1 500.3 268.9 500.1 266.1 500.3 264.8 500.7 263.9ZM498.3 286.6 498.7 287.3 499.1 288.4 499.2 290.8 498.9 291.9 498.5 292.7 498.2 292.7 497.8 291.9 497.4 290.8 497.3 288.4 497.6 287.3 498.0 286.6ZM511.7 263.9 512.5 265.5 513.0 268.0 513.0 268.9 512.9 271.9 512.8 275.9 512.1 278.3 511.2 280.0 510.5 280.0 509.7 278.3 509.2 275.9 509.3 271.9 509.4 268.9 509.4 268.0 510.1 265.5 511.0 263.9ZM506.6 280.5 506.9 281.3 507.1 282.5 507.3 287.2 507.5 293.9 507.6 297.6 507.7 300.6 507.9 307.4 508.1 314.1 508.2 314.2 508.3 320.8 508.4 325.5 508.3 326.7 508.0 327.5 507.8 327.5 507.5 326.7 507.2 325.5 507.1 320.8 506.9 314.2 506.9 314.1 506.7 307.4 506.5 300.6 506.4 297.6 506.3 293.9 506.0 287.2 505.9 282.5 506.1 281.3 506.3 280.5ZM516.0 274.4 516.4 275.2 516.6 276.4 516.6 280.5 516.5 286.6 516.5 292.1 516.5 292.7 516.6 298.8 516.6 304.8 516.7 308.7 516.7 310.9 516.6 317.0 516.5 321.1 516.2 322.3 515.8 323.1 515.4 323.1 515.1 322.3 514.8 321.1 514.8 317.0 514.9 310.9 515.0 308.7 514.9 304.8 514.9 298.8 514.8 292.7 514.8 292.1 514.9 286.6 514.9 280.5 515.0 276.4 515.3 275.2 515.7 274.4ZM520.3 263.9 520.8 264.8 521.1 266.1 521.0 268.9 521.0 270.2 520.8 276.5 520.7 282.8 520.7 284.4 520.5 289.1 520.2 295.4 520.1 297.6 519.9 301.7 519.5 307.9 519.2 312.1 518.8 313.4 518.3 314.2 517.9 314.2 517.5 313.4 517.2 312.1 517.5 307.9 517.9 301.7 518.2 297.6 518.3 295.4 518.6 289.1 518.8 284.4 518.8 282.8 518.9 276.5 519.1 270.2 519.1 268.9 519.2 266.1 519.5 264.8 520.0 263.9ZM528.6 263.9 529.3 265.4 529.7 267.7 529.7 268.9 529.6 270.0 529.3 276.1 529.1 278.8 528.5 282.2 527.4 287.7 527.4 288.2 527.2 290.5 526.5 292.8 525.6 294.3 524.9 294.3 524.3 292.8 523.9 290.5 524.1 288.2 524.2 287.7 525.2 282.2 525.8 278.8 526.0 276.1 526.3 270.0 526.4 268.9 526.4 267.7 527.1 265.4 528.0 263.9ZM531.8 276.6 533.0 278.8 533.9 282.1 533.9 283.3 534.2 289.9 534.3 292.1 534.1 296.6 533.9 303.2 533.8 306.5 533.4 309.8 533.3 311.0 532.1 314.3 530.7 316.4 529.7 316.4 528.8 314.3 528.3 311.0 528.5 309.8 528.9 306.5 529.0 303.2 529.3 296.6 529.5 292.1 529.4 289.9 529.2 283.3 529.1 282.1 529.8 278.8 530.9 276.6ZM528.3 316.4 528.9 317.8 529.1 319.9 528.6 323.5 528.0 327.5 527.7 330.7 527.0 337.8 526.8 340.0 526.7 341.5 526.0 343.6 525.1 345.0 524.5 345.0 523.9 343.6 523.6 341.5 523.7 340.0 523.9 337.8 524.4 330.7 524.7 327.5 525.3 323.5 525.8 319.9 526.7 317.8 527.7 316.4ZM532.7 316.4 533.5 317.7 534.2 319.7 534.5 323.6 535.0 329.7 535.1 330.7 535.4 337.8 535.5 340.0 535.6 341.7 535.2 343.7 534.6 345.0 534.1 345.0 533.4 343.7 532.8 341.7 532.7 340.0 532.5 337.8 532.1 330.7 532.1 329.7 531.5 323.6 531.2 319.7 531.5 317.7 532.1 316.4ZM535.2 263.9 535.8 265.0 536.3 266.6 536.4 268.9 536.5 270.5 536.8 277.0 537.0 281.1 537.1 283.6 537.7 290.1 538.1 295.4 538.2 296.6 538.4 300.5 538.1 302.1 537.7 303.2 537.2 303.2 536.5 302.1 536.0 300.5 535.7 296.6 535.6 295.4 535.2 290.1 534.7 283.6 534.6 281.1 534.4 277.0 534.1 270.5 534.0 268.9 533.9 266.6 534.2 265.0 534.7 263.9ZM539.0 263.9 539.9 265.5 540.8 268.0 540.9 268.9 541.0 269.9 541.5 275.9 542.0 281.1 542.1 281.9 542.7 287.8 543.3 293.8 543.7 297.6 543.9 299.8 544.5 305.8 545.1 311.7 545.3 314.2 545.6 317.7 546.0 323.7 546.1 325.6 545.7 328.1 545.0 329.7 544.2 329.7 543.3 328.1 542.5 325.6 542.4 323.7 541.9 317.7 541.7 314.2 541.4 311.7 540.8 305.8 540.2 299.8 540.0 297.6 539.6 293.8 539.0 287.8 538.4 281.9 538.4 281.1 537.9 275.9 537.4 269.9 537.3 268.9 537.2 268.0 537.6 265.5 538.3 263.9ZM546.8 263.9 547.5 265.1 548.0 266.9 548.1 268.9 548.2 270.1 548.5 276.3 548.7 281.1 548.8 282.5 549.2 288.6 549.7 294.8 549.8 297.6 549.9 301.0 550.1 307.2 550.3 313.4 550.4 314.2 550.5 319.6 550.7 325.7 550.8 328.9 550.4 330.7 549.8 331.9 549.3 331.9 548.7 330.7 548.2 328.9 548.1 325.7 547.9 319.6 547.7 314.2 547.7 313.4 547.4 307.2 547.2 301.0 547.1 297.6 546.9 294.8 546.5 288.6 546.1 282.5 546.0 281.1 545.8 276.3 545.5 270.1 545.5 268.9 545.4 266.9 545.8 265.1 546.3 263.9ZM554.5 263.9 555.0 265.0 555.3 266.6 555.2 268.9 555.1 271.4 554.8 276.1 554.3 277.8 553.7 278.8 553.2 278.8 552.7 277.8 552.4 276.1 552.7 271.4 552.8 268.9 552.9 266.6 553.4 265.0 554.0 263.9ZM553.0 276.6 553.4 277.4 553.6 278.6 553.4 283.3 553.2 289.9 553.1 292.1 552.9 296.5 552.7 303.2 552.5 308.7 552.5 309.8 552.3 316.4 552.2 321.1 551.9 322.3 551.6 323.1 551.3 323.1 551.0 322.3 550.8 321.1 550.9 316.4 551.0 309.8 551.1 308.7 551.2 303.2 551.4 296.5 551.6 292.1 551.7 289.9 551.9 283.3 552.1 278.6 552.4 277.4 552.8 276.6ZM491.6 296.5 492.0 297.3 492.2 298.5 492.6 304.5 492.4 305.7 492.2 306.5 491.9 306.5 491.6 305.7 491.3 304.5 491.0 298.5 491.1 297.3 491.4 296.5ZM493.3 296.5 493.7 297.3 494.0 298.5 494.3 303.6 494.7 310.7 495.0 316.4 495.0 317.8 495.3 324.8 495.5 329.9 495.3 331.1 495.0 331.9 494.7 331.9 494.3 331.1 494.0 329.9 493.9 324.8 493.6 317.8 493.6 316.4 493.2 310.7 492.8 303.6 492.5 298.5 492.7 297.3 493.0 296.5ZM498.5 304.3 498.8 305.1 499.1 306.3 499.0 311.5 498.9 318.7 498.9 319.8 498.8 325.8 498.7 331.0 498.4 332.2 498.1 333.0 497.8 333.0 497.5 332.2 497.2 331.0 497.3 325.8 497.4 319.8 497.4 318.7 497.5 311.5 497.6 306.3 497.9 305.1 498.2 304.3ZM523.2 299.3 523.6 300.2 523.9 301.5 523.7 306.3 523.5 310.9 523.3 313.3 523.1 318.1 522.6 319.4 522.1 320.3 521.7 320.3 521.3 319.4 521.0 318.1 521.3 313.3 521.5 310.9 521.7 306.3 522.0 301.5 522.3 300.2 522.8 299.3ZM512.6 315.3 512.9 316.1 513.1 317.3 513.1 322.8 513.1 330.2 513.1 337.6 513.1 340.0 513.1 343.0 512.9 344.2 512.6 345.0 512.4 345.0 512.1 344.2 511.9 343.0 511.9 340.0 511.9 337.6 511.9 330.2 511.9 322.8 511.9 317.3 512.1 316.1 512.4 315.3ZM476.7 314.2 476.9 315.0 477.1 316.2 477.1 320.4 477.0 326.5 476.9 332.7 476.8 338.8 476.8 340.0 476.8 343.0 476.6 344.2 476.3 345.0 476.1 345.0 475.8 344.2 475.6 343.0 475.7 340.0 475.7 338.8 475.8 332.7 475.8 326.5 475.9 320.4 476.0 316.2 476.2 315.0 476.5 314.2ZM475.0 324.2 475.2 325.0 475.4 326.2 475.4 331.1 475.4 338.1 475.4 340.0 475.4 343.0 475.2 344.2 475.0 345.0 474.8 345.0 474.6 344.2 474.4 343.0 474.4 340.0 474.5 338.1 474.5 331.1 474.5 326.2 474.6 325.0 474.8 324.2ZM481.7 320.9 482.1 321.7 482.5 322.9 482.7 325.5 482.6 326.7 482.3 327.5 481.9 327.5 481.5 326.7 481.1 325.5 480.9 322.9 481.1 321.7 481.4 320.9ZM488.4 327.5 489.2 328.6 490.0 330.1 491.5 336.1 491.6 336.4 492.1 340.0 492.5 342.2 492.3 343.9 491.9 344.9 491.5 344.9 490.8 343.9 490.1 342.2 489.8 340.0 489.2 336.4 489.2 336.1 487.7 330.1 487.7 328.6 488.0 327.5ZM486.7 329.7 487.0 330.5 487.1 331.7 486.5 337.3 486.2 340.0 485.9 343.0 485.5 344.2 485.0 345.0 484.7 345.0 484.4 344.2 484.3 343.0 484.6 340.0 484.9 337.3 485.5 331.7 485.9 330.5 486.4 329.7ZM462.0 334.1 462.5 335.0 462.8 336.3 462.8 340.0 462.8 342.8 462.5 344.1 462.0 345.0 461.7 345.0 461.2 344.1 460.9 342.8 460.9 340.0 460.9 336.3 461.3 335.0 461.7 334.1ZM502.2 333.6 502.6 334.4 502.9 335.6 503.3 340.0 503.5 343.0 503.4 344.2 503.1 345.0 502.9 345.0 502.5 344.2 502.1 343.0 501.9 340.0 501.5 335.6 501.6 334.4 501.9 333.6ZM510.4 335.2 510.6 336.0 510.8 337.2 510.8 340.0 510.8 343.0 510.6 344.2 510.4 345.0 510.2 345.0 510.0 344.2 509.8 343.0 509.8 340.0 509.8 337.2 510.0 336.0 510.2 335.2ZM515.4 335.2 515.8 336.0 516.0 337.2 516.0 340.0 516.0 343.0 515.8 344.2 515.4 345.0 515.1 345.0 514.8 344.2 514.6 343.0 514.6 340.0 514.6 337.2 514.8 336.0 515.1 335.2ZM520.6 334.1 521.2 335.4 521.7 337.4 521.7 340.0 521.7 341.7 521.2 343.7 520.5 345.0 520.0 345.0 519.3 343.7 518.8 341.7 518.8 340.0 518.8 337.4 519.3 335.4 520.0 334.1ZM542.5 320.3 542.7 321.1 542.9 322.3 542.9 328.3 542.9 334.4 542.7 335.6 542.5 336.4 542.3 336.4 542.1 335.6 541.9 334.4 541.9 328.3 541.9 322.3 542.1 321.1 542.3 320.3ZM549.7 322.0 550.0 322.8 550.2 324.0 550.2 328.1 550.2 332.1 550.0 333.3 549.7 334.1 549.5 334.1 549.2 333.3 549.0 332.1 549.0 328.1 549.0 324.0 549.2 322.8 549.5 322.0ZM547.0 324.2 547.4 325.0 547.6 326.2 547.6 331.1 547.6 338.1 547.6 340.0 547.6 343.0 547.3 344.2 547.0 345.0 546.7 345.0 546.3 344.2 546.0 343.0 546.0 340.0 546.0 338.1 546.0 331.1 546.0 326.2 546.3 325.0 546.6 324.2ZM552.5 327.5 552.7 328.3 552.9 329.5 552.9 336.3 552.9 340.0 552.9 343.0 552.7 344.2 552.5 345.0 552.2 345.0 552.0 344.2 551.8 343.0 551.8 340.0 551.8 336.3 551.8 329.5 552.0 328.3 552.2 327.5ZM554.7 323.1 554.9 323.9 555.1 325.1 555.1 329.9 554.9 331.1 554.7 331.9 554.4 331.9 554.2 331.1 554.0 329.9 554.0 325.1 554.2 323.9 554.4 323.1ZM541.5 336.4 542.1 337.4 542.5 338.9 542.4 340.0 542.4 342.4 542.0 344.0 541.5 345.0 541.1 345.0 540.5 344.0 540.1 342.4 540.1 340.0 540.1 338.9 540.5 337.4 541.0 336.4ZM529.2 337.5 529.6 338.3 529.9 339.4 529.9 340.0 530.2 343.0 530.1 344.2 529.9 345.0 529.7 345.0 529.3 344.2 529.0 343.0 528.7 340.0 528.7 339.4 528.8 338.3 529.0 337.5ZM537.9 303.2 538.3 304.0 538.5 305.2 538.6 309.4 538.8 315.6 538.9 319.8 539.0 321.8 539.1 327.9 539.2 332.1 539.0 333.3 538.7 334.1 538.4 334.1 538.0 333.3 537.8 332.1 537.6 327.9 537.5 321.8 537.4 319.8 537.3 315.6 537.2 309.4 537.1 305.2 537.3 304.0 537.6 303.2ZM480.5 336.9 480.8 337.7 481.0 338.9 481.1 340.0 481.3 343.0 481.3 344.2 481.1 345.0 480.9 345.0 480.7 344.2 480.4 343.0 480.2 340.0 480.1 338.9 480.2 337.7 480.4 336.9Z"/>
<path fill="#ffff00" d="M554.5 263.9 554.9 264.8 555.1 266.1 554.8 268.9 554.7 270.5 554.1 277.0 553.8 281.1 553.7 283.6 553.4 290.2 553.0 296.8 553.0 297.6 552.9 303.3 552.7 309.9 552.6 314.2 552.5 316.5 552.4 320.9 552.0 322.2 551.5 323.1 551.1 323.1 550.7 322.2 550.5 320.9 550.6 316.5 550.7 314.2 550.8 309.9 550.9 303.3 551.0 297.6 551.0 296.8 551.3 290.2 551.6 283.6 551.8 281.1 552.1 277.0 552.8 270.5 552.9 268.9 553.2 266.1 553.6 264.8 554.1 263.9ZM559.5 263.9 559.9 264.8 560.1 266.1 559.8 268.9 559.7 270.1 559.2 276.4 558.8 281.1 558.7 282.6 558.3 288.8 557.8 295.1 557.6 297.6 557.4 301.3 557.0 307.5 556.5 313.8 556.5 314.2 556.2 320.0 556.0 326.3 555.9 327.5 556.1 332.5 556.4 338.8 556.4 340.0 556.5 342.8 556.3 344.1 555.9 345.0 555.6 345.0 555.1 344.1 554.8 342.8 554.6 340.0 554.6 338.8 554.3 332.5 554.1 327.5 554.1 326.3 554.3 320.0 554.6 314.2 554.6 313.8 555.0 307.5 555.4 301.3 555.6 297.6 555.8 295.1 556.2 288.8 556.6 282.6 556.7 281.1 557.2 276.4 557.8 270.1 557.9 268.9 558.1 266.1 558.6 264.8 559.1 263.9ZM562.8 263.9 563.2 264.9 563.5 266.4 563.3 268.9 563.2 269.9 562.6 276.0 562.2 281.1 562.2 282.0 562.0 288.0 561.8 294.1 561.6 297.6 561.5 300.1 561.2 306.2 560.9 312.2 560.8 314.2 560.7 318.3 560.5 324.3 560.4 327.5 560.8 330.3 561.2 333.9 561.1 335.4 560.7 336.4 560.3 336.4 559.7 335.4 559.2 333.9 558.7 330.3 558.4 327.5 558.4 324.3 558.6 318.3 558.7 314.2 558.8 312.2 559.0 306.2 559.3 300.1 559.4 297.6 559.5 294.1 559.7 288.0 559.9 282.0 559.9 281.1 560.4 276.0 561.0 269.9 561.1 268.9 561.3 266.4 561.8 264.9 562.4 263.9ZM577.8 263.9 578.2 264.7 578.5 265.9 578.5 268.9 578.5 272.4 578.2 273.6 577.8 274.4 577.5 274.4 577.1 273.6 576.8 272.4 576.8 268.9 576.8 265.9 577.1 264.7 577.5 263.9ZM566.9 294.3 567.4 295.4 567.7 297.0 567.4 300.5 566.9 306.6 566.7 308.7 566.5 312.8 566.2 318.9 566.1 323.1 565.8 325.1 565.1 331.2 564.9 333.0 563.9 334.3 562.5 335.5 561.3 336.4 560.8 336.4 561.0 335.5 561.7 334.3 562.7 333.0 562.9 331.2 563.6 325.1 563.8 323.1 563.9 318.9 564.1 312.8 564.3 308.7 564.4 306.6 564.9 300.5 565.1 297.0 565.7 295.4 566.3 294.3ZM570.6 289.4 571.0 290.2 571.2 291.4 571.2 295.5 571.1 301.7 571.0 307.9 571.0 308.7 571.0 314.1 571.1 320.3 571.1 325.3 571.1 326.5 570.8 332.6 570.6 338.8 570.6 340.0 570.4 343.0 570.2 344.2 569.9 345.0 569.6 345.0 569.3 344.2 569.2 343.0 569.3 340.0 569.3 338.8 569.5 332.6 569.8 326.5 569.8 325.3 569.7 320.3 569.6 314.1 569.5 308.7 569.5 307.9 569.6 301.7 569.6 295.5 569.7 291.4 569.9 290.2 570.3 289.4ZM570.7 323.1 571.2 324.3 571.6 326.1 571.4 330.4 571.2 337.7 571.1 340.0 571.0 342.0 570.6 343.8 570.0 345.0 569.5 345.0 569.0 343.8 568.7 342.0 568.7 340.0 568.8 337.7 569.0 330.4 569.2 326.1 569.6 324.3 570.2 323.1ZM576.8 308.2 577.2 309.1 577.6 310.6 577.5 314.3 577.3 319.8 577.3 320.4 577.2 326.6 577.1 332.7 577.0 338.9 577.0 340.0 576.9 342.5 576.6 344.0 576.1 345.0 575.7 345.0 575.3 344.0 575.0 342.5 575.0 340.0 575.1 338.9 575.1 332.7 575.2 326.6 575.3 320.4 575.3 319.8 575.4 314.3 575.4 310.6 575.8 309.1 576.3 308.2ZM598.8 263.9 599.2 264.7 599.5 265.9 599.8 268.9 600.0 270.5 600.8 277.0 601.0 278.8 601.3 283.6 601.7 290.1 601.8 292.1 601.9 296.7 602.0 303.3 602.1 306.5 602.0 309.9 602.0 314.4 601.8 315.6 601.6 316.4 601.3 316.4 601.0 315.6 600.8 314.4 600.8 309.9 600.8 306.5 600.7 303.3 600.6 296.7 600.4 292.1 600.3 290.1 600.0 283.6 599.7 278.8 599.5 277.0 598.8 270.5 598.6 268.9 598.3 265.9 598.4 264.7 598.6 263.9ZM598.0 280.5 598.4 281.3 598.7 282.5 598.8 287.0 599.0 293.4 599.0 297.6 599.1 299.9 599.2 306.3 599.3 312.8 599.3 314.2 599.3 319.2 599.3 325.6 599.4 332.1 599.4 338.5 599.5 340.0 599.5 343.0 599.2 344.2 598.9 345.0 598.6 345.0 598.2 344.2 597.9 343.0 597.9 340.0 597.9 338.5 597.8 332.1 597.7 325.6 597.7 319.2 597.6 314.2 597.6 312.8 597.4 306.3 597.3 299.9 597.2 297.6 597.1 293.4 597.0 287.0 596.9 282.5 597.2 281.3 597.6 280.5ZM592.7 292.1 592.9 292.9 593.1 294.1 593.1 301.2 592.9 302.4 592.7 303.2 592.5 303.2 592.3 302.4 592.1 301.2 592.1 294.1 592.2 292.9 592.5 292.1ZM592.2 305.4 592.6 306.2 593.0 307.4 593.1 311.6 593.3 317.8 593.4 319.8 593.6 324.1 593.8 328.3 593.6 329.5 593.3 330.3 593.0 330.3 592.6 329.5 592.3 328.3 592.0 324.1 591.8 319.8 591.7 317.8 591.4 311.6 591.3 307.4 591.5 306.2 591.9 305.4ZM607.2 284.9 607.6 285.7 607.9 286.9 607.9 291.8 607.9 296.8 607.6 298.0 607.1 298.8 606.8 298.8 606.4 298.0 606.1 296.8 606.1 291.8 606.0 286.9 606.4 285.7 606.8 284.9ZM607.7 310.4 608.1 311.2 608.3 312.4 608.3 317.3 608.1 324.2 608.1 325.3 608.0 331.1 607.8 338.1 607.8 340.0 607.7 343.0 607.4 344.2 607.0 345.0 606.7 345.0 606.4 344.2 606.1 343.0 606.2 340.0 606.2 338.1 606.4 331.1 606.5 325.3 606.5 324.2 606.6 317.3 606.6 312.4 606.9 311.2 607.4 310.4ZM617.1 263.9 617.6 265.1 617.8 266.9 617.7 268.9 617.6 270.1 617.1 276.4 616.7 281.1 616.6 282.6 616.5 288.8 616.2 295.1 616.1 297.6 616.1 301.3 616.1 307.5 616.1 313.8 616.1 314.2 616.1 320.0 616.2 326.3 616.2 332.5 616.3 338.8 616.3 340.0 616.3 342.0 615.9 343.8 615.4 345.0 614.9 345.0 614.3 343.8 613.8 342.0 613.8 340.0 613.8 338.8 613.7 332.5 613.6 326.3 613.5 320.0 613.4 314.2 613.4 313.8 613.3 307.5 613.3 301.3 613.3 297.6 613.4 295.1 613.6 288.8 613.8 282.6 613.9 281.1 614.3 276.4 614.9 270.1 615.1 268.9 615.3 266.9 615.9 265.1 616.6 263.9ZM613.2 278.3 613.4 279.1 613.5 280.3 613.4 287.9 613.2 289.1 612.9 289.9 612.7 289.9 612.5 289.1 612.3 287.9 612.5 280.3 612.7 279.1 613.0 278.3ZM620.8 271.1 621.1 272.0 621.4 273.3 621.0 277.2 620.7 281.1 620.7 283.4 620.7 289.6 620.7 295.7 620.7 297.6 620.8 301.9 621.0 308.0 621.2 314.2 621.2 314.2 621.3 320.4 621.4 326.5 621.4 332.7 621.5 338.8 621.5 340.0 621.5 342.8 621.2 344.1 620.8 345.0 620.5 345.0 620.0 344.1 619.7 342.8 619.6 340.0 619.6 338.8 619.5 332.7 619.4 326.5 619.4 320.4 619.3 314.2 619.3 314.2 619.0 308.0 618.8 301.9 618.7 297.6 618.7 295.7 618.6 289.6 618.7 283.4 618.7 281.1 619.0 277.2 619.4 273.3 619.9 272.0 620.4 271.1ZM635.0 263.9 636.0 265.6 636.7 268.2 636.8 268.9 636.8 271.1 636.8 274.0 636.1 276.6 635.1 278.3 634.2 278.3 633.1 276.6 632.4 274.0 632.5 271.1 632.5 268.9 632.5 268.2 633.2 265.6 634.2 263.9ZM626.5 297.1 626.8 297.9 627.1 299.1 627.0 303.6 626.9 310.2 626.8 314.2 626.8 316.7 626.7 323.3 626.6 329.8 626.5 334.4 626.3 335.6 625.9 336.4 625.6 336.4 625.3 335.6 625.1 334.4 625.2 329.8 625.2 323.3 625.3 316.7 625.4 314.2 625.4 310.2 625.5 303.6 625.5 299.1 625.8 297.9 626.2 297.1ZM641.7 299.9 641.9 300.0 642.1 300.2 642.1 300.6 641.9 300.8 641.7 300.9 641.5 300.9 641.3 300.8 641.1 300.6 641.1 300.2 641.3 300.0 641.5 299.9ZM629.8 320.3 630.2 321.1 630.5 322.3 630.6 326.5 630.6 332.7 630.7 338.8 630.7 340.0 630.7 343.0 630.5 344.2 630.1 345.0 629.8 345.0 629.4 344.2 629.1 343.0 629.0 340.0 629.0 338.8 629.0 332.7 628.9 326.5 628.8 322.3 629.1 321.1 629.5 320.3ZM634.7 320.3 634.9 321.1 635.1 322.3 635.1 326.5 635.1 332.7 635.1 338.8 635.1 340.0 635.1 343.0 634.9 344.2 634.7 345.0 634.5 345.0 634.3 344.2 634.2 343.0 634.2 340.0 634.2 338.8 634.1 332.7 634.1 326.5 634.1 322.3 634.3 321.1 634.5 320.3ZM641.4 327.5 641.7 328.3 641.9 329.5 641.7 336.3 641.6 340.0 641.6 343.0 641.3 344.2 640.9 345.0 640.7 345.0 640.4 344.2 640.1 343.0 640.2 340.0 640.3 336.3 640.5 329.5 640.8 328.3 641.1 327.5ZM552.4 327.5 552.7 328.3 552.9 329.5 553.1 336.3 553.1 340.0 553.2 343.0 553.0 344.2 552.7 345.0 552.4 345.0 552.1 344.2 551.8 343.0 551.8 340.0 551.7 336.3 551.6 329.5 551.8 328.3 552.1 327.5ZM602.6 331.4 602.8 332.1 603.0 333.2 603.0 335.6 602.8 336.7 602.6 337.5 602.5 337.5 602.2 336.7 602.1 335.6 602.1 333.2 602.2 332.1 602.5 331.4ZM592.7 336.9 592.9 337.7 593.0 338.9 593.0 340.0 593.0 343.0 592.9 344.2 592.7 345.0 592.5 345.0 592.3 344.2 592.2 343.0 592.1 340.0 592.1 338.9 592.3 337.7 592.5 336.9ZM564.1 327.5 564.6 328.2 565.1 329.2 565.3 331.4 565.0 332.4 564.6 333.0 564.2 333.0 563.6 332.4 563.1 331.4 562.9 329.2 563.2 328.2 563.6 327.5Z"/>
<path fill="#ffff00" d="M258.4 333.9 259.1 335.1 259.6 337.0 259.7 338.9 259.7 340.4 259.9 347.0 260.1 353.5 260.2 356.6 260.1 360.1 259.8 366.6 259.7 370.1 259.2 372.0 258.6 373.2 258.1 373.2 257.5 372.0 257.1 370.1 257.2 366.6 257.4 360.1 257.6 356.6 257.5 353.5 257.2 347.0 257.0 340.4 257.0 338.9 256.9 337.0 257.3 335.1 257.9 333.9ZM263.4 343.3 263.8 344.1 264.0 345.3 264.2 349.1 264.0 350.3 263.8 351.1 263.5 351.1 263.2 350.3 262.9 349.1 262.7 345.3 262.9 344.1 263.2 343.3ZM266.7 333.9 267.0 334.7 267.2 335.9 267.2 338.9 267.2 340.3 267.2 344.6 267.0 345.8 266.7 346.6 266.5 346.6 266.3 345.8 266.1 344.6 266.1 340.3 266.1 338.9 266.1 335.9 266.3 334.7 266.5 333.9ZM266.2 353.3 266.4 353.8 266.6 354.6 266.6 356.4 266.4 357.2 266.2 357.7 266.0 357.7 265.7 357.2 265.5 356.4 265.5 354.6 265.7 353.8 266.0 353.3ZM269.3 343.3 269.7 344.1 270.1 345.3 270.1 350.0 270.2 354.4 270.4 356.6 271.0 363.2 271.3 367.7 271.5 369.9 271.8 374.5 271.5 375.7 271.2 376.5 270.9 376.5 270.4 375.7 270.1 374.5 269.8 369.9 269.7 367.7 269.3 363.2 268.7 356.6 268.5 354.4 268.4 350.0 268.3 345.3 268.6 344.1 269.0 343.3ZM274.4 333.9 275.1 335.4 275.5 337.6 275.4 338.9 275.4 340.0 275.0 346.1 274.9 348.9 275.1 352.2 275.4 356.6 275.5 358.3 276.1 364.3 276.5 367.7 276.7 370.4 276.8 372.8 276.4 375.1 275.8 376.5 275.2 376.5 274.3 375.1 273.7 372.8 273.5 370.4 273.3 367.7 273.0 364.3 272.4 358.3 272.2 356.6 271.9 352.2 271.6 348.9 271.8 346.1 272.1 340.0 272.2 338.9 272.2 337.6 272.9 335.4 273.8 333.9ZM280.1 353.3 280.6 354.4 280.8 356.2 280.2 361.0 280.0 362.1 279.9 368.8 279.8 373.6 279.3 375.3 278.7 376.5 278.7 376.5 278.2 376.5 278.2 376.5 277.6 375.3 277.3 373.6 277.4 368.8 277.5 362.1 277.7 361.0 278.3 356.2 278.9 354.4 279.6 353.3ZM282.6 333.9 283.1 334.9 283.3 336.4 283.2 338.9 283.1 340.8 282.7 347.6 282.6 348.9 282.1 352.0 281.5 353.4 280.9 354.4 280.5 354.4 280.1 353.4 280.0 352.0 280.5 348.9 280.5 347.6 280.9 340.8 281.0 338.9 281.1 336.4 281.6 334.9 282.2 333.9ZM287.2 333.9 287.9 335.3 288.5 337.3 288.6 338.9 288.7 340.6 288.9 347.4 289.1 351.1 289.4 354.1 290.1 360.8 290.2 362.1 290.4 367.6 290.6 370.9 290.2 372.9 289.6 374.3 289.0 374.3 288.3 372.9 287.7 370.9 287.5 367.6 287.3 362.1 287.2 360.8 286.5 354.1 286.2 351.1 286.0 347.4 285.7 340.6 285.6 338.9 285.5 337.3 285.9 335.3 286.5 333.9ZM284.5 359.9 284.8 360.7 285.0 361.9 285.0 366.6 285.0 371.2 284.8 372.4 284.5 373.2 284.2 373.2 283.8 372.4 283.6 371.2 283.6 366.6 283.6 361.9 283.8 360.7 284.2 359.9ZM293.5 333.9 294.5 335.6 295.4 338.1 295.5 338.9 295.7 340.5 296.4 347.0 296.6 348.9 297.3 353.5 298.2 359.9 298.2 360.1 298.8 366.6 299.0 369.0 298.6 371.5 297.9 373.2 297.2 373.2 296.3 371.5 295.5 369.0 295.3 366.6 294.8 360.1 294.7 359.9 293.8 353.5 293.1 348.9 292.9 347.0 292.1 340.5 291.9 338.9 291.8 338.1 292.2 335.6 292.8 333.9ZM303.8 356.6 304.1 357.4 304.4 358.6 304.4 363.3 304.4 367.7 304.1 369.9 303.5 374.5 303.1 375.7 302.7 376.5 302.4 376.5 302.2 375.7 302.1 374.5 302.7 369.9 303.0 367.7 303.0 363.3 303.0 358.6 303.2 357.4 303.5 356.6ZM306.7 333.9 307.1 334.7 307.3 335.9 307.2 338.9 307.2 340.1 307.0 346.4 306.9 351.1 307.0 352.6 307.2 356.8 306.9 358.0 306.6 358.8 306.3 358.8 305.9 358.0 305.5 356.8 305.4 352.6 305.3 351.1 305.4 346.4 305.6 340.1 305.6 338.9 305.7 335.9 306.0 334.7 306.4 333.9ZM308.3 359.9 308.9 360.9 309.4 362.4 309.9 366.1 310.2 368.8 310.5 369.8 310.7 371.2 310.5 372.1 310.1 372.1 309.3 371.2 308.5 369.8 308.2 368.8 307.9 366.1 307.4 362.4 307.6 360.9 307.9 359.9ZM312.9 333.9 313.3 334.8 313.5 336.1 313.4 338.9 313.3 340.6 313.0 347.4 312.9 351.1 312.9 354.2 312.9 360.9 312.9 365.5 312.6 366.8 312.1 367.7 311.8 367.7 311.4 366.8 311.1 365.5 311.1 360.9 311.1 354.2 311.1 351.1 311.2 347.4 311.6 340.6 311.6 338.9 311.8 336.1 312.1 334.8 312.6 333.9ZM313.8 365.5 314.0 366.1 314.0 367.1 313.1 369.3 312.3 370.3 311.6 371.0 311.2 371.0 311.0 370.3 311.1 369.3 312.0 367.1 312.7 366.1 313.4 365.5ZM320.0 333.9 320.6 335.6 320.9 338.1 320.8 338.9 320.6 340.7 319.9 347.4 319.7 348.9 319.2 354.2 318.6 359.9 318.6 360.9 318.4 363.5 317.6 366.0 316.7 367.7 316.1 367.7 315.4 366.0 315.0 363.5 315.2 360.9 315.2 359.9 315.8 354.2 316.4 348.9 316.5 347.4 317.3 340.7 317.5 338.9 317.6 338.1 318.4 335.6 319.4 333.9ZM322.6 366.6 322.8 367.4 323.0 368.6 323.0 374.5 322.8 375.7 322.6 376.5 322.4 376.5 322.1 375.7 322.0 374.5 322.0 368.6 322.1 367.4 322.4 366.6ZM326.4 342.2 326.7 342.7 326.8 343.5 326.8 345.3 326.7 346.1 326.4 346.6 326.3 346.6 326.0 346.1 325.9 345.3 325.9 343.5 326.0 342.7 326.3 342.2ZM324.5 346.6 324.7 347.2 324.9 348.0 324.9 349.7 324.7 350.5 324.5 351.1 324.4 351.1 324.2 350.5 324.1 349.7 324.1 348.0 324.2 347.2 324.4 346.6ZM325.9 358.8 326.1 359.6 326.3 360.8 326.3 367.7 326.3 374.5 326.1 375.7 325.9 376.5 325.7 376.5 325.5 375.7 325.3 374.5 325.3 367.7 325.3 360.8 325.5 359.6 325.7 358.8ZM329.8 353.3 330.3 354.2 330.7 355.5 331.0 360.7 331.1 362.1 331.3 368.0 331.6 373.2 331.3 374.5 331.0 375.4 330.6 375.4 330.2 374.5 329.8 373.2 329.6 368.0 329.3 362.1 329.2 360.7 328.9 355.5 329.1 354.2 329.5 353.3ZM333.4 333.9 333.7 334.7 333.9 335.9 334.0 338.9 334.2 342.4 334.0 343.6 333.9 344.4 333.7 344.4 333.4 343.6 333.2 342.4 333.1 338.9 332.9 335.9 333.1 334.7 333.2 333.9ZM339.3 333.9 340.2 335.7 340.8 338.3 340.8 338.9 340.9 340.0 341.0 346.1 341.1 351.1 341.1 352.2 341.3 358.3 341.4 362.1 341.4 364.3 341.3 370.4 341.2 372.1 340.5 374.8 339.7 376.5 339.7 376.5 338.9 376.5 338.9 376.5 338.1 374.8 337.6 372.1 337.6 370.4 337.8 364.3 337.8 362.1 337.7 358.3 337.5 352.2 337.5 351.1 337.4 346.1 337.3 340.0 337.3 338.9 337.3 338.3 337.9 335.7 338.6 333.9ZM345.9 351.1 346.4 352.1 346.7 353.8 346.5 358.4 346.3 362.1 346.2 365.8 346.0 370.5 345.6 372.1 345.0 373.2 344.6 373.2 344.1 372.1 343.8 370.5 343.9 365.8 344.0 362.1 344.2 358.4 344.4 353.8 344.9 352.1 345.5 351.1ZM349.2 333.9 349.5 334.7 349.7 335.9 349.7 338.9 349.8 340.3 349.8 344.6 349.5 345.8 349.2 346.6 348.9 346.6 348.5 345.8 348.3 344.6 348.3 340.3 348.3 338.9 348.3 335.9 348.5 334.7 348.9 333.9ZM354.2 333.9 354.6 334.7 354.9 335.9 354.9 338.9 354.9 342.5 354.9 349.1 354.6 350.3 354.2 351.1 353.8 351.1 353.4 350.3 353.2 349.1 353.2 342.5 353.2 338.9 353.2 335.9 353.4 334.7 353.8 333.9ZM336.4 366.6 336.7 367.4 336.8 368.6 336.6 371.2 336.3 372.4 335.9 373.2 335.6 373.2 335.4 372.4 335.2 371.2 335.4 368.6 335.8 367.4 336.2 366.6ZM319.3 368.8 319.5 369.6 319.5 370.7 319.1 373.4 318.6 374.6 318.2 375.4 317.9 375.4 317.7 374.6 317.7 373.4 318.1 370.7 318.6 369.6 319.0 368.8ZM262.9 361.0 263.3 361.8 263.8 363.0 264.3 366.8 264.2 368.0 264.0 368.8 263.7 368.8 263.3 368.0 262.8 366.8 262.3 363.0 262.4 361.8 262.6 361.0ZM260.7 365.5 261.0 366.3 261.1 367.4 260.9 371.2 260.5 372.4 260.1 373.2 259.8 373.2 259.6 372.4 259.4 371.2 259.7 367.4 260.0 366.3 260.4 365.5ZM291.6 365.5 291.9 366.3 292.1 367.5 292.1 374.5 291.9 375.7 291.6 376.5 291.4 376.5 291.1 375.7 290.9 374.5 290.9 367.5 291.1 366.3 291.4 365.5ZM299.4 373.2 299.8 373.7 300.2 374.5 300.6 376.3 300.6 377.1 300.5 377.6 300.2 377.6 299.8 377.1 299.4 376.3 299.0 374.5 299.0 373.7 299.1 373.2Z"/>
<path fill="#ffff00" d="M356.4 333.9 357.0 335.2 357.5 337.0 357.5 338.9 357.5 340.0 357.5 346.1 357.5 352.2 357.5 358.3 357.5 364.3 357.5 370.4 357.5 373.4 357.0 375.3 356.4 376.5 355.8 376.5 355.2 375.3 354.7 373.4 354.7 370.4 354.7 364.3 354.7 358.3 354.7 352.2 354.7 346.1 354.7 340.0 354.7 338.9 354.7 337.0 355.2 335.2 355.8 333.9ZM359.6 342.2 359.9 342.9 360.2 343.9 360.4 346.1 360.3 347.1 360.1 347.7 359.9 347.7 359.5 347.1 359.2 346.1 359.0 343.9 359.1 342.9 359.3 342.2ZM362.5 333.9 363.2 334.9 363.7 336.5 363.9 338.9 364.0 340.4 364.6 346.8 365.0 351.1 365.4 353.2 366.7 359.6 367.2 362.1 368.3 365.9 369.3 369.6 369.3 371.1 369.1 372.1 368.6 372.1 367.8 371.1 367.0 369.6 365.9 365.9 364.9 362.1 364.4 359.6 363.1 353.2 362.7 351.1 362.3 346.8 361.7 340.4 361.6 338.9 361.4 336.5 361.6 334.9 362.1 333.9ZM365.7 343.3 366.1 344.1 366.5 345.3 367.0 349.7 367.4 353.3 367.9 356.1 369.1 362.1 369.1 362.5 370.2 366.8 370.3 368.0 370.1 368.8 369.8 368.8 369.2 368.0 368.7 366.8 367.6 362.5 367.5 362.1 366.4 356.1 365.8 353.3 365.4 349.7 364.9 345.3 365.1 344.1 365.4 343.3ZM377.1 333.9 377.7 335.0 378.1 336.8 378.0 338.9 377.9 340.0 377.6 346.1 377.4 351.1 377.2 352.1 376.3 358.1 375.7 362.1 375.1 364.1 373.2 369.9 372.9 371.0 372.0 372.9 370.8 374.4 369.6 375.4 369.1 375.4 369.0 374.4 369.4 372.9 370.3 371.0 370.6 369.9 372.4 364.1 373.0 362.1 373.6 358.1 374.5 352.1 374.7 351.1 374.9 346.1 375.1 340.0 375.2 338.9 375.3 336.8 375.8 335.0 376.5 333.9ZM372.9 333.9 373.3 334.7 373.7 335.9 373.6 338.9 373.6 341.4 373.6 346.8 373.3 348.1 372.9 348.9 372.5 348.9 372.1 348.1 371.8 346.8 371.8 341.4 371.7 338.9 371.7 335.9 372.1 334.7 372.5 333.9ZM380.8 343.3 381.6 344.8 382.2 347.0 382.1 349.8 382.0 356.2 382.0 356.6 381.8 362.6 381.6 367.7 381.4 369.0 381.1 371.7 380.1 373.9 379.1 375.4 378.4 375.4 377.8 373.9 377.6 371.7 377.9 369.0 378.1 367.7 378.3 362.6 378.5 356.6 378.5 356.2 378.6 349.8 378.6 347.0 379.2 344.8 380.1 343.3ZM385.1 350.0 385.7 351.0 386.2 352.5 386.4 357.7 386.6 362.1 387.1 365.5 387.9 370.7 387.7 372.2 387.3 373.2 386.8 373.2 386.1 372.2 385.5 370.7 384.7 365.5 384.2 362.1 384.0 357.7 383.8 352.5 384.1 351.0 384.6 350.0ZM388.4 333.9 388.8 334.7 389.1 335.9 389.1 338.9 389.1 341.4 389.1 346.8 388.8 348.1 388.4 348.9 388.0 348.9 387.6 348.1 387.2 346.8 387.2 341.4 387.2 338.9 387.2 335.9 387.6 334.7 388.0 333.9ZM390.6 351.1 391.2 352.0 391.6 353.4 391.8 358.5 392.0 362.1 392.6 365.9 393.4 370.9 393.2 372.3 392.8 373.2 392.4 373.2 391.8 372.3 391.2 370.9 390.4 365.9 389.9 362.1 389.7 358.5 389.4 353.4 389.7 352.0 390.2 351.1ZM393.7 333.9 394.3 334.9 394.8 336.5 394.9 338.9 395.0 340.1 395.3 346.4 395.5 351.1 395.5 352.7 395.5 358.9 395.5 362.1 395.8 365.2 396.4 371.4 396.6 373.2 396.6 375.1 396.2 376.6 395.6 377.6 395.1 377.6 394.6 376.6 394.2 375.1 394.2 373.2 394.0 371.4 393.4 365.2 393.1 362.1 393.1 358.9 393.1 352.7 393.1 351.1 392.8 346.4 392.6 340.1 392.5 338.9 392.4 336.5 392.7 334.9 393.2 333.9ZM397.7 351.1 398.2 351.9 398.5 353.1 398.9 360.1 398.6 361.3 398.3 362.1 398.0 362.1 397.6 361.3 397.2 360.1 396.9 353.1 397.1 351.9 397.4 351.1ZM401.7 343.3 402.4 344.5 402.9 346.2 403.2 351.5 402.8 353.2 402.3 354.4 401.7 354.4 401.1 353.2 400.5 351.5 400.3 346.2 400.6 344.5 401.2 343.3ZM403.8 333.9 405.0 335.8 405.9 338.8 405.9 338.9 406.0 340.0 406.3 346.1 406.5 348.9 406.8 352.2 407.5 358.3 407.6 359.9 407.9 364.4 408.2 370.5 408.2 371.0 408.3 371.7 408.1 374.6 407.5 376.5 406.5 376.5 405.1 374.6 403.7 371.7 403.6 371.0 403.6 370.5 403.2 364.4 403.0 359.9 402.9 358.3 402.3 352.2 402.0 348.9 401.8 346.1 401.5 340.0 401.4 338.9 401.4 338.8 402.0 335.8 403.0 333.9ZM399.4 365.5 399.9 366.3 400.3 367.5 400.6 374.5 400.4 375.7 400.0 376.5 399.6 376.5 399.1 375.7 398.8 374.5 398.4 367.5 398.7 366.3 399.1 365.5ZM410.5 353.3 411.0 354.1 411.4 355.3 411.7 362.2 411.8 364.3 413.0 369.0 413.0 370.2 412.7 371.0 412.3 371.0 411.7 370.2 411.1 369.0 409.9 364.3 409.8 362.2 409.5 355.3 409.7 354.1 410.1 353.3ZM412.6 333.9 413.4 335.3 414.0 337.3 414.1 338.9 414.1 340.1 414.4 346.3 414.7 351.1 414.9 352.5 415.8 358.6 416.4 362.1 416.5 364.8 416.7 367.6 416.3 369.6 415.6 371.0 415.0 371.0 414.1 369.6 413.4 367.6 413.3 364.8 413.1 362.1 412.6 358.6 411.7 352.5 411.5 351.1 411.3 346.3 411.0 340.1 411.0 338.9 410.9 337.3 411.4 335.3 412.0 333.9ZM417.2 343.3 417.8 344.5 418.2 346.2 418.3 350.0 418.3 353.7 417.8 355.5 417.2 356.6 416.7 356.6 416.1 355.5 415.6 353.7 415.6 350.0 415.6 346.2 416.1 344.5 416.7 343.3ZM421.6 333.9 422.7 336.0 423.6 338.9 423.6 339.0 423.7 340.2 424.0 346.4 424.3 351.1 424.2 352.7 424.0 358.9 423.8 362.1 423.5 365.2 422.9 371.4 422.8 372.5 422.6 373.2 421.6 375.6 420.2 377.6 419.2 377.6 418.3 375.6 418.0 373.2 417.9 372.5 418.0 371.4 418.6 365.2 418.9 362.1 419.1 358.9 419.5 352.7 419.6 351.1 419.4 346.4 419.2 340.2 419.1 339.0 419.2 338.9 419.8 336.0 420.7 333.9ZM418.8 364.3 419.1 365.2 419.2 366.6 418.4 370.6 418.0 372.1 416.8 374.5 415.9 375.7 415.0 376.5 414.5 376.5 414.4 375.7 414.7 374.5 415.9 372.1 416.2 370.6 417.0 366.6 417.7 365.2 418.4 364.3ZM430.5 351.1 431.0 352.1 431.5 353.6 431.6 358.1 431.7 362.1 431.9 365.1 432.3 369.5 432.0 371.1 431.6 372.1 431.1 372.1 430.4 371.1 429.9 369.5 429.5 365.1 429.2 362.1 429.1 358.1 429.1 353.6 429.5 352.1 430.0 351.1ZM437.8 353.3 438.5 354.8 439.0 357.0 438.9 359.9 438.8 362.1 438.7 366.6 438.7 369.5 438.1 371.7 437.2 373.2 436.5 373.2 435.7 371.7 435.2 369.5 435.2 366.6 435.3 362.1 435.4 359.9 435.5 357.0 436.2 354.8 437.1 353.3ZM439.4 333.9 440.0 335.0 440.4 336.8 440.5 338.9 440.6 342.5 440.8 348.2 440.4 349.9 439.9 351.1 439.4 351.1 438.7 349.9 438.3 348.2 438.2 342.5 438.1 338.9 438.0 336.8 438.4 335.0 438.9 333.9ZM452.4 333.9 453.1 335.3 453.7 337.3 453.8 338.9 453.9 341.0 454.3 348.0 454.4 351.1 454.6 355.1 454.9 358.7 454.4 360.8 453.8 362.1 453.1 362.1 452.3 360.8 451.7 358.7 451.5 355.1 451.4 351.1 451.3 348.0 451.0 341.0 450.9 338.9 450.8 337.3 451.2 335.3 451.8 333.9ZM432.7 367.7 433.4 368.3 434.0 369.3 434.7 371.5 434.6 372.5 434.3 373.2 433.9 373.2 433.2 372.5 432.5 371.5 431.8 369.3 431.9 368.3 432.2 367.7ZM443.6 368.3 443.9 368.5 444.2 368.7 444.2 369.3 443.9 369.5 443.6 369.6 443.4 369.6 443.1 369.5 442.8 369.3 442.8 368.7 443.1 368.5 443.4 368.3ZM445.8 368.0 446.1 368.2 446.2 368.3 446.2 368.8 446.1 368.9 445.8 369.1 445.6 369.1 445.4 368.9 445.2 368.8 445.2 368.3 445.4 368.2 445.6 368.0ZM428.2 369.9 428.8 370.5 429.5 371.5 430.1 373.8 430.1 374.7 429.9 375.4 429.5 375.4 428.8 374.7 428.2 373.8 427.5 371.5 427.6 370.5 427.8 369.9ZM441.4 373.2 441.9 373.6 442.3 374.2 442.7 375.5 442.7 376.1 442.5 376.5 442.3 376.5 441.8 376.1 441.4 375.5 440.9 374.2 441.0 373.6 441.1 373.2ZM448.1 375.4 448.5 375.7 448.9 376.1 449.4 377.0 449.3 377.4 449.2 377.6 448.9 377.6 448.5 377.4 448.0 377.0 447.6 376.1 447.6 375.7 447.8 375.4Z"/>
<path fill="#ffff00" d="M456.4 333.9 457.0 335.1 457.4 337.0 457.4 338.9 457.4 340.0 457.5 346.1 457.5 352.2 457.5 356.6 457.6 358.3 457.7 364.3 457.9 370.4 458.0 373.4 457.6 375.3 456.9 376.5 456.4 376.5 455.7 375.3 455.2 373.4 455.1 370.4 454.9 364.3 454.7 358.3 454.7 356.6 454.7 352.2 454.8 346.1 454.8 340.0 454.8 338.9 454.8 337.0 455.2 335.1 455.8 333.9ZM461.1 333.9 461.6 334.9 462.1 336.5 462.2 338.9 462.3 340.5 462.6 347.1 462.8 351.1 463.0 353.6 463.7 360.2 463.9 362.1 464.6 366.7 465.2 370.6 465.0 372.2 464.6 373.2 464.2 373.2 463.5 372.2 462.9 370.6 462.3 366.7 461.6 362.1 461.4 360.2 460.7 353.6 460.5 351.1 460.3 347.1 460.1 340.5 460.0 338.9 459.9 336.5 460.2 334.9 460.6 333.9ZM466.2 343.3 466.6 344.1 466.8 345.3 466.9 350.0 466.9 354.6 466.6 355.8 466.2 356.6 465.9 356.6 465.5 355.8 465.3 354.6 465.3 350.0 465.3 345.3 465.5 344.1 465.9 343.3ZM470.4 333.9 470.9 334.7 471.2 336.0 471.4 338.9 471.4 340.5 471.7 347.0 471.9 351.1 472.1 353.6 472.4 360.1 472.5 362.1 473.0 366.7 473.4 371.1 473.2 372.4 472.9 373.2 472.5 373.2 472.0 372.4 471.6 371.1 471.1 366.7 470.7 362.1 470.6 360.1 470.3 353.6 470.1 351.1 470.0 347.0 469.7 340.5 469.6 338.9 469.5 336.0 469.7 334.7 470.1 333.9ZM475.7 333.9 476.1 334.8 476.4 336.2 476.5 338.9 476.5 341.0 476.5 348.0 476.5 351.1 476.3 355.1 476.1 359.8 475.6 361.2 475.1 362.1 474.7 362.1 474.3 361.2 474.0 359.8 474.2 355.1 474.5 351.1 474.5 348.0 474.5 341.0 474.5 338.9 474.5 336.2 474.8 334.8 475.3 333.9ZM478.9 343.3 479.3 344.1 479.6 345.3 479.8 349.4 480.1 355.5 480.1 356.6 480.4 361.6 480.6 365.7 480.4 366.9 480.0 367.7 479.7 367.7 479.3 366.9 479.0 365.7 478.8 361.6 478.5 356.6 478.5 355.5 478.3 349.4 478.1 345.3 478.3 344.1 478.6 343.3ZM481.7 356.6 482.2 357.4 482.6 358.7 482.8 363.3 483.0 367.7 483.4 369.9 484.3 374.5 484.2 375.7 483.9 376.5 483.6 376.5 483.0 375.7 482.5 374.5 481.6 369.9 481.2 367.7 481.0 363.3 480.8 358.7 481.0 357.4 481.4 356.6ZM485.0 333.9 485.6 335.0 486.0 336.7 486.1 338.9 486.1 340.5 486.2 347.0 486.3 351.1 486.5 353.6 487.0 360.2 487.2 362.1 487.9 366.7 488.4 370.4 488.3 372.1 487.9 373.2 487.4 373.2 486.7 372.1 486.0 370.4 485.4 366.7 484.7 362.1 484.6 360.2 484.1 353.6 483.9 351.1 483.8 347.0 483.7 340.5 483.7 338.9 483.6 336.7 484.0 335.0 484.5 333.9ZM491.4 333.9 492.4 336.0 493.1 338.9 493.2 339.1 493.2 340.1 493.2 346.3 493.2 351.1 493.2 352.5 493.5 358.7 493.5 359.7 492.9 362.8 491.9 364.9 491.1 364.9 490.0 362.8 489.1 359.7 489.0 358.7 488.8 352.5 488.7 351.1 488.7 346.3 488.7 340.1 488.7 339.1 488.8 338.9 489.5 336.0 490.5 333.9ZM496.2 358.8 496.7 359.9 497.0 361.7 496.6 367.2 496.6 367.7 495.5 372.6 494.8 374.3 494.0 375.4 493.5 375.4 493.1 374.3 493.1 372.6 494.2 367.7 494.2 367.2 494.5 361.7 495.1 359.9 495.7 358.8ZM500.6 348.9 501.1 349.9 501.6 351.4 501.7 354.9 502.0 361.0 502.0 362.1 502.3 367.1 502.4 370.6 502.1 372.2 501.7 373.2 501.2 373.2 500.7 372.2 500.2 370.6 500.1 367.1 499.8 362.1 499.8 361.0 499.5 354.9 499.4 351.4 499.7 349.9 500.1 348.9ZM503.5 333.9 504.1 335.0 504.7 336.8 504.9 338.9 505.1 340.5 505.6 347.1 506.0 351.1 506.5 353.6 507.8 360.1 508.2 362.1 508.6 366.6 509.0 370.4 508.8 372.1 508.3 373.2 507.9 373.2 507.2 372.1 506.6 370.4 506.2 366.6 505.8 362.1 505.4 360.1 504.1 353.6 503.6 351.1 503.2 347.1 502.6 340.5 502.4 338.9 502.2 336.8 502.5 335.0 503.0 333.9ZM506.6 333.9 507.1 334.7 507.6 336.0 507.9 338.9 508.0 339.9 508.7 345.9 509.0 348.9 509.7 351.8 510.7 355.7 510.7 356.9 510.5 357.7 510.1 357.7 509.5 356.9 508.9 355.7 508.0 351.8 507.2 348.9 506.9 345.9 506.2 339.9 506.1 338.9 505.8 336.0 505.9 334.7 506.3 333.9ZM512.8 351.1 513.5 352.4 513.9 354.4 513.9 358.4 513.9 362.1 513.7 365.8 513.5 369.8 513.0 371.9 512.3 373.2 512.3 373.2 511.7 373.2 511.7 373.2 511.1 371.9 510.7 369.8 510.9 365.8 511.1 362.1 511.1 358.4 511.1 354.4 511.6 352.4 512.2 351.1ZM515.4 333.9 515.8 334.7 516.1 335.9 516.1 338.9 516.1 341.4 516.1 346.9 515.8 348.1 515.4 348.9 515.1 348.9 514.8 348.1 514.5 346.9 514.5 341.4 514.5 338.9 514.5 335.9 514.8 334.7 515.1 333.9ZM519.5 333.9 520.2 335.2 520.7 337.3 520.6 338.9 520.6 340.4 520.6 347.0 520.6 351.1 520.6 353.6 520.6 360.1 520.6 362.1 520.3 366.7 520.2 369.8 519.6 371.9 518.9 373.2 518.3 373.2 517.7 371.9 517.4 369.8 517.5 366.7 517.8 362.1 517.8 360.1 517.7 353.6 517.7 351.1 517.7 347.0 517.7 340.4 517.7 338.9 517.7 337.3 518.2 335.2 518.9 333.9ZM523.3 364.3 523.9 365.4 524.4 367.0 524.6 370.5 524.3 372.1 523.8 373.2 523.3 373.2 522.7 372.1 522.2 370.5 522.0 367.0 522.3 365.4 522.8 364.3ZM531.5 333.9 533.0 336.5 533.8 338.9 534.2 340.0 534.3 340.4 534.7 346.1 535.2 351.1 535.2 352.1 535.4 358.2 535.6 362.1 535.6 364.3 535.6 370.0 535.5 370.4 534.7 373.9 533.5 376.5 532.5 376.5 531.2 373.9 530.4 370.4 530.4 370.0 530.4 364.3 530.4 362.1 530.1 358.2 529.8 352.1 529.7 351.1 529.2 346.1 528.6 340.4 528.7 340.0 528.8 338.9 529.2 336.5 530.3 333.9ZM537.6 356.6 537.9 357.4 538.1 358.6 538.1 365.7 537.9 366.9 537.6 367.7 537.3 367.7 536.9 366.9 536.7 365.7 536.7 358.6 536.9 357.4 537.3 356.6ZM541.6 333.9 542.2 335.1 542.6 337.0 542.6 338.9 542.6 341.0 542.6 348.0 542.6 351.1 542.3 355.1 542.1 359.0 541.6 360.9 541.0 362.1 540.5 362.1 540.0 360.9 539.6 359.0 539.8 355.1 540.0 351.1 540.0 348.0 540.0 341.0 540.0 338.9 539.9 337.0 540.4 335.1 541.0 333.9ZM545.9 343.3 546.3 344.2 546.6 345.6 546.5 348.7 546.1 350.1 545.7 351.1 545.3 351.1 544.9 350.1 544.6 348.7 544.7 345.6 545.0 344.2 545.5 343.3ZM549.8 359.9 550.2 361.0 550.4 362.5 550.1 367.7 550.0 367.7 549.3 372.8 548.7 374.4 548.1 375.4 547.7 375.4 547.4 374.4 547.3 372.8 548.0 367.7 548.0 367.7 548.4 362.5 548.8 361.0 549.4 359.9ZM551.4 362.1 551.8 362.9 552.2 364.1 552.9 368.9 553.1 369.9 554.1 373.5 554.2 374.6 554.1 375.4 553.9 375.4 553.3 374.6 552.7 373.5 551.6 369.9 551.5 368.9 550.8 364.1 550.9 362.9 551.1 362.1ZM552.4 351.1 552.7 351.9 552.9 353.1 552.9 355.7 552.7 356.9 552.4 357.7 552.2 357.7 552.0 356.9 551.8 355.7 551.8 353.1 552.0 351.9 552.2 351.1ZM554.7 333.9 554.9 334.7 555.1 335.9 555.1 338.9 555.1 340.3 555.1 344.6 554.9 345.8 554.7 346.6 554.5 346.6 554.2 345.8 554.0 344.6 554.0 340.3 554.0 338.9 554.0 335.9 554.2 334.7 554.4 333.9ZM461.8 369.9 462.1 370.5 462.3 371.5 462.3 373.8 462.1 374.7 461.8 375.4 461.5 375.4 461.2 374.7 460.9 373.8 460.9 371.5 461.2 370.5 461.5 369.9ZM498.8 369.7 499.1 369.9 499.4 370.2 499.4 370.7 499.1 371.0 498.8 371.1 498.6 371.1 498.3 371.0 498.0 370.7 498.0 370.2 498.3 369.9 498.6 369.7ZM468.4 368.8 468.8 369.6 469.1 370.8 469.4 373.4 469.2 374.6 469.0 375.4 468.7 375.4 468.3 374.6 468.0 373.4 467.7 370.8 467.9 369.6 468.1 368.8ZM476.7 369.9 477.0 370.7 477.2 371.9 477.0 374.5 476.6 375.7 476.2 376.5 475.9 376.5 475.6 375.7 475.4 374.5 475.6 371.9 476.0 370.7 476.4 369.9ZM527.0 367.7 527.4 368.5 527.7 369.7 528.0 373.4 527.8 374.6 527.6 375.4 527.3 375.4 527.0 374.6 526.7 373.4 526.4 369.7 526.5 368.5 526.8 367.7ZM539.2 369.9 539.6 370.7 539.9 371.9 540.1 374.5 540.0 375.7 539.7 376.5 539.5 376.5 539.1 375.7 538.8 374.5 538.6 371.9 538.7 370.7 538.9 369.9Z"/>
<path fill="#ffff00" d="M552.3 333.9 552.6 334.7 552.9 335.9 552.8 338.9 552.8 340.3 552.8 344.6 552.6 345.8 552.3 346.6 552.1 346.6 551.8 345.8 551.6 344.6 551.6 340.3 551.6 338.9 551.6 335.9 551.8 334.7 552.1 333.9ZM551.2 351.1 551.5 351.9 551.7 353.1 551.9 359.4 552.1 365.7 552.0 366.9 551.8 367.7 551.6 367.7 551.3 366.9 551.1 365.7 550.9 359.4 550.6 353.1 550.8 351.9 551.0 351.1ZM553.4 352.2 553.6 353.0 553.8 354.2 553.7 360.1 553.6 361.3 553.4 362.1 553.2 362.1 553.0 361.3 552.9 360.1 552.9 354.2 553.0 353.0 553.2 352.2ZM556.2 333.9 556.6 334.7 556.9 335.9 556.9 338.9 556.9 340.1 556.9 346.3 556.9 351.1 556.8 352.5 556.5 358.7 556.3 362.1 556.0 364.8 555.4 369.0 555.0 370.2 554.6 371.0 554.3 371.0 554.0 370.2 553.9 369.0 554.4 364.8 554.8 362.1 554.9 358.7 555.2 352.5 555.3 351.1 555.3 346.3 555.3 340.1 555.3 338.9 555.3 335.9 555.5 334.7 555.9 333.9ZM561.4 333.9 562.1 335.1 562.7 337.0 562.9 338.9 563.0 340.5 563.6 347.0 563.9 351.1 564.2 353.5 564.8 360.1 565.0 362.1 565.0 366.6 565.0 370.1 564.6 372.0 564.1 373.2 563.6 373.2 563.0 372.0 562.7 370.1 562.7 366.6 562.7 362.1 562.4 360.1 561.8 353.5 561.5 351.1 561.1 347.0 560.5 340.5 560.4 338.9 560.2 337.0 560.4 335.1 560.9 333.9ZM558.4 359.9 558.5 360.7 558.6 361.9 558.3 365.7 558.1 366.9 557.8 367.7 557.7 367.7 557.5 366.9 557.5 365.7 557.7 361.9 558.0 360.7 558.2 359.9ZM569.4 333.9 570.0 335.0 570.4 336.7 570.5 338.9 570.5 340.3 570.7 346.6 570.8 351.1 570.9 353.0 571.4 359.4 571.5 362.1 571.7 365.7 571.9 369.3 571.7 371.0 571.2 372.1 570.8 372.1 570.2 371.0 569.8 369.3 569.6 365.7 569.4 362.1 569.2 359.4 568.7 353.0 568.6 351.1 568.5 346.6 568.3 340.3 568.2 338.9 568.2 336.7 568.5 335.0 569.0 333.9ZM577.9 333.9 578.4 335.0 578.8 336.7 578.8 338.9 578.8 340.5 578.7 347.0 578.7 351.1 578.9 353.6 579.5 360.1 579.6 362.1 579.8 366.6 579.9 370.4 579.6 372.1 579.2 373.2 578.8 373.2 578.2 372.1 577.8 370.4 577.6 366.6 577.5 362.1 577.3 360.1 576.8 353.6 576.6 351.1 576.6 347.0 576.5 340.5 576.5 338.9 576.5 336.7 576.9 335.0 577.4 333.9ZM590.0 348.3 590.4 349.3 590.6 350.7 590.3 354.5 590.2 356.6 589.8 360.8 589.2 367.0 589.1 367.7 588.8 370.8 588.3 372.2 587.8 373.2 587.4 373.2 587.1 372.2 586.9 370.8 587.2 367.7 587.3 367.0 587.9 360.8 588.3 356.6 588.5 354.5 588.7 350.7 589.1 349.3 589.6 348.3ZM592.6 333.9 593.0 334.7 593.4 335.9 593.8 338.9 594.1 340.5 594.9 346.6 595.1 347.0 596.5 351.4 596.7 352.5 596.6 353.3 596.3 353.3 595.7 352.5 595.1 351.4 593.7 347.0 593.5 346.6 592.7 340.5 592.4 338.9 592.0 335.9 592.1 334.7 592.3 333.9ZM597.9 333.9 598.6 335.4 599.1 337.6 599.1 338.9 599.1 340.5 599.1 347.0 599.1 351.1 598.9 353.6 598.6 360.1 598.5 362.1 598.0 366.7 597.7 369.5 597.0 371.7 596.2 373.2 595.6 373.2 595.1 371.7 594.8 369.5 595.1 366.7 595.6 362.1 595.7 360.1 596.0 353.6 596.1 351.1 596.1 347.0 596.1 340.5 596.1 338.9 596.0 337.6 596.6 335.4 597.3 333.9ZM583.9 365.5 584.1 366.3 584.3 367.4 584.0 371.2 583.7 372.4 583.3 373.2 583.1 373.2 582.8 372.4 582.7 371.2 582.9 367.4 583.2 366.3 583.6 365.5ZM607.7 333.9 608.3 335.1 608.8 336.9 608.8 338.9 608.8 340.1 608.9 346.4 609.0 351.1 609.1 352.6 609.2 355.8 608.8 357.6 608.3 358.8 607.8 358.8 607.2 357.6 606.7 355.8 606.6 352.6 606.5 351.1 606.4 346.4 606.3 340.1 606.2 338.9 606.2 336.9 606.6 335.1 607.2 333.9ZM608.2 358.8 608.6 359.6 608.8 360.8 608.6 364.9 608.4 369.0 608.1 370.2 607.7 371.0 607.4 371.0 607.0 370.2 606.8 369.0 607.0 364.9 607.2 360.8 607.5 359.6 607.9 358.8ZM615.3 333.9 616.0 335.1 616.5 336.9 616.6 338.9 616.6 340.4 616.9 347.0 617.1 351.1 617.2 353.6 617.5 360.1 617.6 362.1 617.9 366.6 618.0 370.2 617.7 372.0 617.2 373.2 616.7 373.2 616.0 372.0 615.5 370.2 615.3 366.6 615.1 362.1 615.0 360.1 614.7 353.6 614.5 351.1 614.4 347.0 614.0 340.4 614.0 338.9 613.9 336.9 614.2 335.1 614.8 333.9ZM621.2 333.9 622.0 335.2 622.6 337.2 622.8 338.9 622.9 340.5 623.5 347.0 623.8 351.1 624.0 353.5 624.3 360.1 624.4 362.1 624.1 366.6 624.0 369.9 623.4 371.9 622.7 373.2 622.2 373.2 621.6 371.9 621.3 369.9 621.4 366.6 621.6 362.1 621.5 360.1 621.2 353.5 621.1 351.1 620.7 347.0 620.1 340.5 619.9 338.9 619.8 337.2 620.1 335.2 620.6 333.9ZM629.3 346.6 629.7 347.6 630.0 349.0 629.9 353.3 629.8 356.6 629.6 359.9 629.4 366.6 629.3 367.7 629.1 370.8 628.7 372.2 628.2 373.2 627.8 373.2 627.4 372.2 627.1 370.8 627.3 367.7 627.4 366.6 627.6 359.9 627.8 356.6 627.9 353.3 628.0 349.0 628.4 347.6 628.9 346.6ZM635.3 343.3 635.6 344.1 635.9 345.3 636.0 349.1 635.8 350.3 635.5 351.1 635.3 351.1 634.9 350.3 634.7 349.1 634.6 345.3 634.8 344.1 635.0 343.3ZM638.8 352.2 639.3 353.5 639.7 355.4 639.5 358.4 639.3 362.1 639.1 364.7 639.0 367.7 638.4 369.7 637.7 371.0 637.1 371.0 636.6 369.7 636.2 367.7 636.4 364.7 636.6 362.1 636.8 358.4 636.9 355.4 637.5 353.5 638.2 352.2ZM642.0 333.9 642.4 334.8 642.8 336.1 642.8 338.9 642.8 342.2 642.4 343.6 642.0 344.4 641.6 344.4 641.2 343.6 640.9 342.2 640.9 338.9 640.9 336.1 641.2 334.8 641.6 333.9ZM644.7 346.6 644.9 347.4 645.0 348.6 645.0 352.4 644.9 353.6 644.7 354.4 644.5 354.4 644.3 353.6 644.1 352.4 644.1 348.6 644.3 347.4 644.5 346.6ZM644.2 359.9 644.7 360.8 645.1 362.1 645.3 365.5 645.1 366.8 644.8 367.7 644.4 367.7 643.9 366.8 643.5 365.5 643.3 362.1 643.5 360.8 643.8 359.9ZM602.6 367.7 603.0 368.3 603.5 369.3 604.1 371.5 604.3 372.5 604.3 373.2 604.1 373.2 603.7 372.5 603.3 371.5 602.6 369.3 602.5 368.3 602.5 367.7ZM601.0 366.6 601.1 367.4 601.3 368.6 601.4 371.2 601.3 372.4 601.2 373.2 601.0 373.2 600.9 372.4 600.7 371.2 600.6 368.6 600.7 367.4 600.8 366.6ZM612.6 368.2 612.7 368.2 612.9 368.4 612.9 368.7 612.7 368.9 612.6 368.9 612.4 368.9 612.3 368.9 612.1 368.7 612.1 368.4 612.3 368.2 612.4 368.2ZM630.8 369.4 631.1 369.5 631.2 369.7 631.2 370.1 631.1 370.3 630.8 370.4 630.7 370.4 630.5 370.3 630.3 370.1 630.3 369.7 630.5 369.5 630.7 369.4ZM635.3 369.4 635.5 369.5 635.6 369.7 635.6 370.1 635.5 370.3 635.3 370.4 635.1 370.4 634.9 370.3 634.7 370.1 634.7 369.7 634.9 369.5 635.1 369.4Z"/>
<path fill="#00f0ff" d="M256.80 379.5h3.25V392h-3.25ZM259.85 377.5h3.25V392h-3.25ZM262.89 378.5h3.25V392h-3.25ZM265.94 379.5h3.25V392h-3.25ZM268.99 379.5h3.25V392h-3.25ZM272.03 378.5h3.25V392h-3.25ZM275.08 379.5h3.25V392h-3.25ZM278.13 377.5h3.25V392h-3.25ZM281.18 378.5h3.25V392h-3.25ZM284.22 377.5h3.25V392h-3.25ZM287.27 378.5h3.25V392h-3.25ZM290.32 378.5h3.25V392h-3.25ZM293.36 377.5h3.25V392h-3.25ZM296.41 379.5h3.25V392h-3.25ZM299.46 379.5h3.25V392h-3.25ZM302.50 378.5h3.25V392h-3.25ZM305.55 377.5h3.25V392h-3.25ZM308.60 379.5h3.25V392h-3.25ZM311.65 378.5h3.25V392h-3.25ZM314.69 377.5h3.25V392h-3.25ZM317.74 378.5h3.25V392h-3.25ZM320.79 379.5h3.25V392h-3.25ZM323.83 378.5h3.25V392h-3.25ZM326.88 379.5h3.25V392h-3.25ZM329.93 377.5h3.25V392h-3.25ZM332.97 379.5h3.25V392h-3.25ZM336.02 377.5h3.25V392h-3.25ZM339.07 379.5h3.25V392h-3.25ZM342.12 378.5h3.25V392h-3.25ZM345.16 378.5h3.25V392h-3.25ZM348.21 379.5h3.25V392h-3.25ZM351.26 378.5h3.25V392h-3.25ZM354.30 379.5h3.25V392h-3.25ZM357.35 377.5h3.25V392h-3.25ZM360.40 378.5h3.25V392h-3.25ZM363.44 378.5h3.25V392h-3.25ZM366.49 379.5h3.25V392h-3.25ZM369.54 377.5h3.25V392h-3.25ZM372.59 378.5h3.25V392h-3.25ZM375.63 378.5h3.25V392h-3.25ZM378.68 379.5h3.25V392h-3.25ZM381.73 378.5h3.25V392h-3.25ZM384.77 377.5h3.25V392h-3.25ZM387.82 379.5h3.25V392h-3.25ZM390.87 377.5h3.25V392h-3.25ZM393.91 377.5h3.25V392h-3.25ZM396.96 379.5h3.25V392h-3.25ZM400.01 377.5h3.25V392h-3.25ZM403.06 377.5h3.25V392h-3.25ZM406.10 377.5h3.25V392h-3.25ZM409.15 378.5h3.25V392h-3.25ZM412.20 378.5h3.25V392h-3.25ZM415.24 379.5h3.25V392h-3.25ZM418.29 379.5h3.25V392h-3.25ZM421.34 378.5h3.25V392h-3.25ZM424.38 378.5h3.25V392h-3.25ZM427.43 377.5h3.25V392h-3.25ZM430.48 378.5h3.25V392h-3.25ZM433.53 377.5h3.25V392h-3.25ZM436.57 377.5h3.25V392h-3.25ZM439.62 378.5h3.25V392h-3.25ZM442.67 378.5h3.25V392h-3.25ZM445.71 378.5h3.25V392h-3.25ZM448.76 378.5h3.25V392h-3.25ZM451.81 378.5h3.25V392h-3.25ZM454.85 377.5h3.25V392h-3.25ZM457.90 379.5h3.25V392h-3.25ZM460.95 379.5h3.25V392h-3.25ZM464.00 378.5h3.25V392h-3.25ZM467.04 378.5h3.25V392h-3.25ZM470.09 378.5h3.25V392h-3.25ZM473.14 379.5h3.25V392h-3.25ZM476.18 377.5h3.25V392h-3.25ZM479.23 379.5h3.25V392h-3.25ZM482.28 379.5h3.25V392h-3.25ZM485.32 378.5h3.25V392h-3.25ZM488.37 379.5h3.25V392h-3.25ZM491.42 378.5h3.25V392h-3.25ZM494.47 377.5h3.25V392h-3.25ZM497.51 378.5h3.25V392h-3.25ZM500.56 378.5h3.25V392h-3.25ZM503.61 378.5h3.25V392h-3.25ZM506.65 378.5h3.25V392h-3.25ZM509.70 378.5h3.25V392h-3.25ZM512.75 378.5h3.25V392h-3.25ZM515.79 378.5h3.25V392h-3.25ZM518.84 377.5h3.25V392h-3.25ZM521.89 379.5h3.25V392h-3.25ZM524.94 379.5h3.25V392h-3.25ZM527.98 378.5h3.25V392h-3.25ZM531.03 377.5h3.25V392h-3.25ZM534.08 377.5h3.25V392h-3.25ZM537.12 378.5h3.25V392h-3.25ZM540.17 377.5h3.25V392h-3.25ZM543.22 379.5h3.25V392h-3.25ZM546.26 377.5h3.25V392h-3.25ZM549.31 377.5h3.25V392h-3.25ZM552.36 379.5h3.25V392h-3.25ZM555.41 379.5h3.25V392h-3.25ZM558.45 378.5h3.25V392h-3.25ZM561.50 379.5h3.25V392h-3.25ZM564.55 378.5h3.25V392h-3.25ZM567.59 379.5h3.25V392h-3.25ZM570.64 379.5h3.25V392h-3.25ZM573.69 378.5h3.25V392h-3.25ZM576.74 378.5h3.25V392h-3.25ZM579.78 378.5h3.25V392h-3.25ZM582.83 379.5h3.25V392h-3.25ZM585.88 379.5h3.25V392h-3.25ZM588.92 378.5h3.25V392h-3.25ZM591.97 379.5h3.25V392h-3.25ZM595.02 378.5h3.25V392h-3.25ZM598.06 377.5h3.25V392h-3.25ZM601.11 379.5h3.25V392h-3.25ZM604.16 378.5h3.25V392h-3.25ZM607.21 377.5h3.25V392h-3.25ZM610.25 377.5h3.25V392h-3.25ZM613.30 377.5h3.25V392h-3.25ZM616.35 378.5h3.25V392h-3.25ZM619.39 378.5h3.25V392h-3.25ZM622.44 379.5h3.25V392h-3.25ZM625.49 378.5h3.25V392h-3.25ZM628.53 379.5h3.25V392h-3.25ZM631.58 377.5h3.25V392h-3.25ZM634.63 377.5h3.25V392h-3.25ZM637.67 377.5h3.25V392h-3.25ZM640.72 379.5h3.25V392h-3.25ZM643.77 379.5h3.25V392h-3.25ZM646.82 378.5h3.25V392h-3.25Z"/>
<path fill="#ffff00" d="M257.50 378.0h1.55V392h-1.55ZM260.55 378.0h1.55V392h-1.55ZM263.59 377.0h1.55V392h-1.55ZM266.64 380.0h1.55V392h-1.55ZM269.69 378.0h1.55V392h-1.55ZM272.74 378.0h1.55V392h-1.55ZM275.78 377.0h1.55V392h-1.55ZM278.83 379.0h1.55V392h-1.55ZM281.88 378.0h1.55V392h-1.55ZM284.92 381.0h1.55V392h-1.55ZM287.97 381.0h1.55V392h-1.55ZM291.02 379.0h1.55V392h-1.55ZM294.06 378.0h1.55V392h-1.55ZM297.11 380.0h1.55V392h-1.55ZM300.16 380.0h1.55V392h-1.55ZM303.20 379.0h1.55V392h-1.55ZM306.25 379.0h1.55V392h-1.55ZM309.30 381.0h1.55V392h-1.55ZM312.35 380.0h1.55V392h-1.55ZM315.39 378.0h1.55V392h-1.55ZM318.44 378.0h1.55V392h-1.55ZM321.49 380.0h1.55V392h-1.55ZM324.53 378.0h1.55V392h-1.55ZM327.58 379.0h1.55V392h-1.55ZM330.63 380.0h1.55V392h-1.55ZM333.68 379.0h1.55V392h-1.55ZM336.72 378.0h1.55V392h-1.55ZM339.77 379.0h1.55V392h-1.55ZM342.82 380.0h1.55V392h-1.55ZM345.86 380.0h1.55V392h-1.55ZM348.91 378.0h1.55V392h-1.55ZM351.96 379.0h1.55V392h-1.55ZM355.00 380.0h1.55V392h-1.55ZM358.05 380.0h1.55V392h-1.55ZM361.10 380.0h1.55V392h-1.55ZM364.14 380.0h1.55V392h-1.55ZM367.19 379.0h1.55V392h-1.55ZM370.24 378.0h1.55V392h-1.55ZM373.29 379.0h1.55V392h-1.55ZM379.38 378.0h1.55V392h-1.55ZM382.43 379.0h1.55V392h-1.55ZM385.47 381.0h1.55V392h-1.55ZM388.52 381.0h1.55V392h-1.55ZM391.57 380.0h1.55V392h-1.55ZM394.62 380.0h1.55V392h-1.55ZM397.66 379.0h1.55V392h-1.55ZM400.71 379.0h1.55V392h-1.55ZM403.76 378.0h1.55V392h-1.55ZM406.80 377.0h1.55V392h-1.55ZM409.85 380.0h1.55V392h-1.55ZM412.90 379.0h1.55V392h-1.55ZM415.94 378.0h1.55V392h-1.55ZM418.99 380.0h1.55V392h-1.55ZM422.04 378.0h1.55V392h-1.55ZM425.09 379.0h1.55V392h-1.55ZM428.13 378.0h1.55V392h-1.55ZM431.18 381.0h1.55V392h-1.55ZM434.23 381.0h1.55V392h-1.55ZM437.27 379.0h1.55V392h-1.55ZM440.32 379.0h1.55V392h-1.55ZM443.37 379.0h1.55V392h-1.55ZM446.41 381.0h1.55V392h-1.55ZM449.46 379.0h1.55V392h-1.55ZM452.51 379.0h1.55V392h-1.55ZM455.56 379.0h1.55V392h-1.55ZM458.60 379.0h1.55V392h-1.55ZM461.65 379.0h1.55V392h-1.55ZM464.70 379.0h1.55V392h-1.55ZM467.74 378.0h1.55V392h-1.55ZM470.79 379.0h1.55V392h-1.55ZM473.84 377.0h1.55V392h-1.55ZM476.88 379.0h1.55V392h-1.55ZM479.93 378.0h1.55V392h-1.55ZM482.98 379.0h1.55V392h-1.55ZM486.02 380.0h1.55V392h-1.55ZM489.07 380.0h1.55V392h-1.55ZM492.12 378.0h1.55V392h-1.55ZM495.17 378.0h1.55V392h-1.55ZM498.21 380.0h1.55V392h-1.55ZM501.26 380.0h1.55V392h-1.55ZM504.31 381.0h1.55V392h-1.55ZM507.35 378.0h1.55V392h-1.55ZM510.40 379.0h1.55V392h-1.55ZM513.45 379.0h1.55V392h-1.55ZM516.50 379.0h1.55V392h-1.55ZM519.54 378.0h1.55V392h-1.55ZM522.59 379.0h1.55V392h-1.55ZM525.64 381.0h1.55V392h-1.55ZM528.68 381.0h1.55V392h-1.55ZM531.73 381.0h1.55V392h-1.55ZM534.78 378.0h1.55V392h-1.55ZM537.82 378.0h1.55V392h-1.55ZM540.87 378.0h1.55V392h-1.55ZM543.92 381.0h1.55V392h-1.55ZM546.97 378.0h1.55V392h-1.55ZM550.01 379.0h1.55V392h-1.55ZM553.06 381.0h1.55V392h-1.55ZM556.11 378.0h1.55V392h-1.55ZM559.15 381.0h1.55V392h-1.55ZM562.20 380.0h1.55V392h-1.55ZM565.25 379.0h1.55V392h-1.55ZM568.29 379.0h1.55V392h-1.55ZM571.34 378.0h1.55V392h-1.55ZM574.39 378.0h1.55V392h-1.55ZM577.44 379.0h1.55V392h-1.55ZM580.48 378.0h1.55V392h-1.55ZM583.53 378.0h1.55V392h-1.55ZM586.58 378.0h1.55V392h-1.55ZM589.62 378.0h1.55V392h-1.55ZM592.67 380.0h1.55V392h-1.55ZM595.72 379.0h1.55V392h-1.55ZM598.76 379.0h1.55V392h-1.55ZM601.81 380.0h1.55V392h-1.55ZM604.86 380.0h1.55V392h-1.55ZM607.91 379.0h1.55V392h-1.55ZM610.95 379.0h1.55V392h-1.55ZM614.00 379.0h1.55V392h-1.55ZM617.05 378.0h1.55V392h-1.55ZM620.09 380.0h1.55V392h-1.55ZM623.14 381.0h1.55V392h-1.55ZM626.19 378.0h1.55V392h-1.55ZM629.23 378.0h1.55V392h-1.55ZM632.28 379.0h1.55V392h-1.55ZM635.33 379.0h1.55V392h-1.55ZM638.38 379.0h1.55V392h-1.55ZM641.42 378.0h1.55V392h-1.55ZM647.52 379.0h1.55V392h-1.55Z"/>
</g>
<rect x="256" y="131" width="392" height="261" fill="none" stroke="#000" stroke-width="2"/>
<g fill="#000" shape-rendering="crispEdges"><rect x="271" y="132" width="1" height="4"/><rect x="271" y="388" width="1" height="3"/><rect x="286" y="132" width="1" height="4"/><rect x="286" y="388" width="1" height="3"/><rect x="302" y="132" width="1" height="4"/><rect x="302" y="388" width="1" height="3"/><rect x="317" y="132" width="1" height="4"/><rect x="317" y="388" width="1" height="3"/><rect x="331" y="132" width="2" height="9"/><rect x="331" y="382" width="2" height="9"/><rect x="348" y="132" width="1" height="4"/><rect x="348" y="388" width="1" height="3"/><rect x="363" y="132" width="1" height="4"/><rect x="363" y="388" width="1" height="3"/><rect x="378" y="132" width="1" height="4"/><rect x="378" y="388" width="1" height="3"/><rect x="394" y="132" width="1" height="4"/><rect x="394" y="388" width="1" height="3"/><rect x="408" y="132" width="2" height="9"/><rect x="408" y="382" width="2" height="9"/><rect x="424" y="132" width="1" height="4"/><rect x="424" y="388" width="1" height="3"/><rect x="440" y="132" width="1" height="4"/><rect x="440" y="388" width="1" height="3"/><rect x="455" y="132" width="1" height="4"/><rect x="455" y="388" width="1" height="3"/><rect x="470" y="132" width="1" height="4"/><rect x="470" y="388" width="1" height="3"/><rect x="485" y="132" width="2" height="9"/><rect x="485" y="382" width="2" height="9"/><rect x="501" y="132" width="1" height="4"/><rect x="501" y="388" width="1" height="3"/><rect x="516" y="132" width="1" height="4"/><rect x="516" y="388" width="1" height="3"/><rect x="532" y="132" width="1" height="4"/><rect x="532" y="388" width="1" height="3"/><rect x="547" y="132" width="1" height="4"/><rect x="547" y="388" width="1" height="3"/><rect x="561" y="132" width="2" height="9"/><rect x="561" y="382" width="2" height="9"/><rect x="578" y="132" width="1" height="4"/><rect x="578" y="388" width="1" height="3"/><rect x="593" y="132" width="1" height="4"/><rect x="593" y="388" width="1" height="3"/><rect x="608" y="132" width="1" height="4"/><rect x="608" y="388" width="1" height="3"/><rect x="624" y="132" width="1" height="4"/><rect x="624" y="388" width="1" height="3"/><rect x="638" y="132" width="2" height="9"/><rect x="638" y="382" width="2" height="9"/><rect x="257" y="376" width="4" height="1"/><rect x="644" y="376" width="3" height="1"/><rect x="257" y="358" width="4" height="1"/><rect x="644" y="358" width="3" height="1"/><rect x="257" y="341" width="4" height="1"/><rect x="644" y="341" width="3" height="1"/><rect x="257" y="323" width="4" height="1"/><rect x="644" y="323" width="3" height="1"/><rect x="257" y="305" width="9" height="2"/><rect x="638" y="305" width="9" height="2"/><rect x="257" y="288" width="4" height="1"/><rect x="644" y="288" width="3" height="1"/><rect x="257" y="270" width="4" height="1"/><rect x="644" y="270" width="3" height="1"/><rect x="257" y="253" width="4" height="1"/><rect x="644" y="253" width="3" height="1"/><rect x="257" y="235" width="4" height="1"/><rect x="644" y="235" width="3" height="1"/><rect x="257" y="217" width="9" height="2"/><rect x="638" y="217" width="9" height="2"/><rect x="257" y="200" width="4" height="1"/><rect x="644" y="200" width="3" height="1"/><rect x="257" y="182" width="4" height="1"/><rect x="644" y="182" width="3" height="1"/><rect x="257" y="165" width="4" height="1"/><rect x="644" y="165" width="3" height="1"/><rect x="257" y="147" width="4" height="1"/><rect x="644" y="147" width="3" height="1"/></g>
<text class="thin" y="84.2" font-size="28"><tspan x="336.6" textLength="105" lengthAdjust="spacingAndGlyphs">vertical</tspan> <tspan x="458.2" textLength="110" lengthAdjust="spacingAndGlyphs">velocity</tspan></text>
<text class="med" y="108.3" font-size="16.8"><tspan x="164.6" textLength="52.7" lengthAdjust="spacingAndGlyphs">(×1E4</tspan> <tspan x="229.3" textLength="22.6" lengthAdjust="spacingAndGlyphs">m)</tspan></text>
<text class="med" y="437.4" font-size="16.8"><tspan x="567.3" textLength="52.7" lengthAdjust="spacingAndGlyphs">(×1E5</tspan> <tspan x="630" textLength="24.8" lengthAdjust="spacingAndGlyphs">m)</tspan></text>
<text class="thin" style="stroke-width:0.3px" y="142.6" font-size="16"><tspan x="655.6" textLength="72.3" lengthAdjust="spacingAndGlyphs">t=25200</tspan> <tspan x="738.2" textLength="8.3" lengthAdjust="spacingAndGlyphs">s</tspan></text>
<text class="thin" y="468.4" font-size="22.5"><tspan x="372.6" textLength="15" lengthAdjust="spacingAndGlyphs">X</tspan><tspan x="386.8" textLength="21" lengthAdjust="spacingAndGlyphs">-</tspan><tspan x="408" textLength="123.5" lengthAdjust="spacingAndGlyphs">coordinate</tspan></text>
<text class="thin" transform="translate(217 339.3) rotate(-90)" y="0" font-size="22.5"><tspan x="-0.4" textLength="15" lengthAdjust="spacingAndGlyphs">Z</tspan><tspan x="13.8" textLength="21" lengthAdjust="spacingAndGlyphs">-</tspan><tspan x="35" textLength="123.5" lengthAdjust="spacingAndGlyphs">coordinate</tspan></text>
<text class="med" x="327.7" y="414.6" font-size="18.5" textLength="10.6" lengthAdjust="spacingAndGlyphs">1</text>
<text class="med" x="404.2" y="414.6" font-size="18.5" textLength="10.6" lengthAdjust="spacingAndGlyphs">2</text>
<text class="med" x="480.8" y="414.6" font-size="18.5" textLength="10.6" lengthAdjust="spacingAndGlyphs">3</text>
<text class="med" x="557.3" y="414.6" font-size="18.5" textLength="10.6" lengthAdjust="spacingAndGlyphs">4</text>
<text class="med" x="633.9" y="414.6" font-size="18.5" textLength="10.6" lengthAdjust="spacingAndGlyphs">5</text>
<text class="med" x="234.7" y="224.3" font-size="18.5" textLength="10.6" lengthAdjust="spacingAndGlyphs">2</text>
<text class="med" x="234.7" y="312.3" font-size="18.5" textLength="10.6" lengthAdjust="spacingAndGlyphs">1</text>
<rect x="664" y="197" width="13" height="41.0" fill="#ffe0e0"/><rect x="664" y="238" width="13" height="16.8" fill="#ffb8b8"/><rect x="664" y="254.8" width="13" height="16.9" fill="#ff7878"/><rect x="664" y="271.7" width="13" height="16.9" fill="#ff1010"/><rect x="664" y="288.6" width="13" height="17.2" fill="#ff6400"/><rect x="664" y="305.8" width="13" height="5.4" fill="#ffa000"/><rect x="664" y="311.2" width="13" height="5.6" fill="#ffc800"/><rect x="664" y="316.8" width="13" height="5.9" fill="#ffff00"/><rect x="664" y="322.7" width="13" height="5.5" fill="#00f0ff"/><rect x="664" y="328.2" width="13" height="5.8" fill="#0028ff"/><rect x="664" y="334" width="13" height="6.0" fill="#0000a0"/><rect x="664" y="340" width="13" height="16.0" fill="#7800b4"/><rect x="664" y="356" width="13" height="16.9" fill="#c000b0"/><rect x="664" y="372.9" width="13" height="19.1" fill="#f000b0"/>
<g fill="#000"><rect x="664" y="237.2" width="13" height="1.6"/><rect x="664" y="254.0" width="13" height="1.6"/><rect x="664" y="270.9" width="13" height="1.6"/><rect x="664" y="287.8" width="13" height="1.6"/><rect x="664" y="305.3" width="13" height="1.0"/><rect x="664" y="310.7" width="13" height="1.0"/><rect x="664" y="316.3" width="13" height="1.0"/><rect x="664" y="322.2" width="13" height="1.0"/><rect x="664" y="327.7" width="13" height="1.0"/><rect x="664" y="333.5" width="13" height="1.0"/><rect x="664" y="339.2" width="13" height="1.6"/><rect x="664" y="355.2" width="13" height="1.6"/><rect x="664" y="372.1" width="13" height="1.6"/></g>
<rect x="664" y="196" width="13" height="196" fill="none" stroke="#000" stroke-width="2" shape-rendering="crispEdges"/>
<text class="med" x="686.6" y="244.3" font-size="18.5" textLength="19.5" lengthAdjust="spacingAndGlyphs">15</text>
<text class="med" x="686.6" y="295.0" font-size="18.5" textLength="10.6" lengthAdjust="spacingAndGlyphs">6</text>
<text class="med" x="686.6" y="323.3" font-size="18.5" textLength="10.6" lengthAdjust="spacingAndGlyphs">1</text>
<text class="med" y="340.4" font-size="18.5"><tspan x="685.1" textLength="14.5" lengthAdjust="spacingAndGlyphs">-</tspan><tspan x="698.6" textLength="10.6" lengthAdjust="spacingAndGlyphs">2</tspan></text>
<text class="med" y="379.6" font-size="18.5"><tspan x="685.1" textLength="14.5" lengthAdjust="spacingAndGlyphs">-</tspan><tspan x="698.6" textLength="10.6" lengthAdjust="spacingAndGlyphs">9</tspan></text>
</svg>
</body></html>
